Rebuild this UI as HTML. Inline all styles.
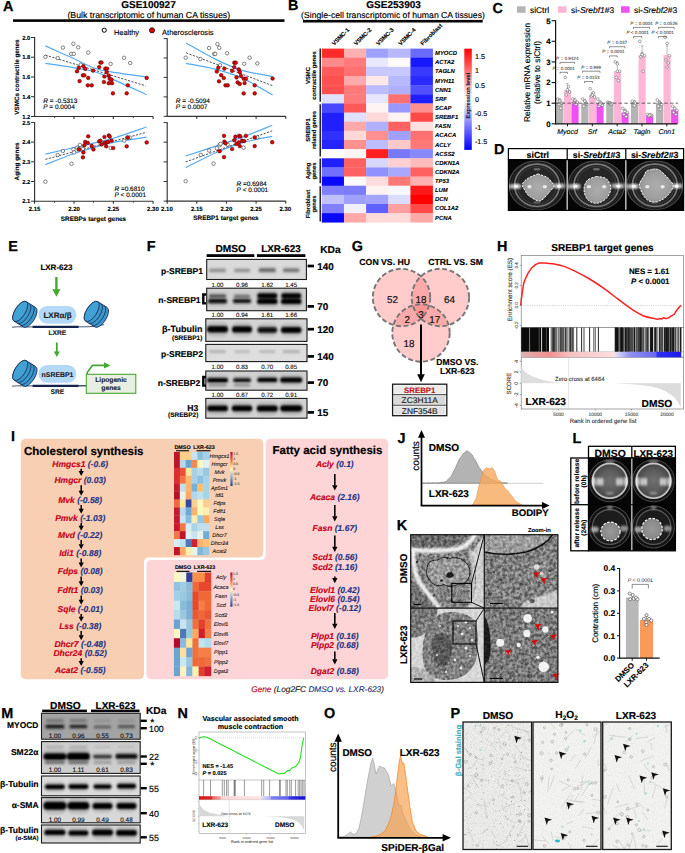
<!DOCTYPE html>
<html><head><meta charset="utf-8"><style>
html,body{margin:0;padding:0;background:#fff;}
svg{display:block;font-family:"Liberation Sans",sans-serif;text-rendering:geometricPrecision;}
text:not([stroke]){stroke:#000;stroke-width:0.13px;}
</style></head><body>
<svg width="685" height="853" viewBox="0 0 685 853">
<defs><linearGradient id="gB" x1="0" y1="0" x2="0" y2="1"><stop offset="0" stop-color="#ff0000"/><stop offset="0.5" stop-color="#ffffff"/><stop offset="1" stop-color="#0000ff"/></linearGradient>
<radialGradient id="blobg" cx="0.5" cy="0.5" r="0.6"><stop offset="0" stop-color="#acacac"/><stop offset="0.6" stop-color="#a0a0a0"/><stop offset="1" stop-color="#8c8c8c"/></radialGradient>
<filter id="dsoft" x="-20%" y="-50%" width="140%" height="200%"><feGaussianBlur stdDeviation="1.2"/></filter>
<clipPath id="clipD"><rect x="508.4" y="159.6" width="175.2" height="50.8"/></clipPath>
<filter id="bandblur" x="-20%" y="-50%" width="140%" height="200%"><feGaussianBlur stdDeviation="0.85"/></filter>
<clipPath id="cl206_259"><rect x="206.70" y="259.40" width="99.70" height="20.10"/></clipPath>
<clipPath id="cl206_288"><rect x="206.70" y="288.20" width="99.70" height="22.50"/></clipPath>
<clipPath id="cl205_318"><rect x="205.80" y="318.80" width="101.20" height="22.60"/></clipPath>
<clipPath id="cl205_344"><rect x="205.80" y="344.40" width="101.20" height="17.20"/></clipPath>
<clipPath id="cl205_371"><rect x="205.80" y="371.00" width="101.20" height="19.20"/></clipPath>
<clipPath id="cl205_398"><rect x="205.80" y="398.40" width="101.20" height="19.80"/></clipPath>
<linearGradient id="gH" x1="0" y1="0" x2="1" y2="0"><stop offset="0" stop-color="#d8b4b4"/><stop offset="0.08" stop-color="#e8a0a0"/><stop offset="0.18" stop-color="#f29090"/><stop offset="0.3" stop-color="#f6c0c0"/><stop offset="0.58" stop-color="#fde0e0"/><stop offset="0.6" stop-color="#d8d8f8"/><stop offset="0.68" stop-color="#9090f0"/><stop offset="0.84" stop-color="#6a6af0"/><stop offset="0.85" stop-color="#3030f0"/><stop offset="1" stop-color="#1818f0"/></linearGradient>
<linearGradient id="gRdYlBu" x1="0" y1="0" x2="0" y2="1"><stop offset="0" stop-color="#b00a28"/><stop offset="0.25" stop-color="#f46d43"/><stop offset="0.5" stop-color="#ffffbf"/><stop offset="0.75" stop-color="#74add1"/><stop offset="1" stop-color="#313695"/></linearGradient>
<filter id="emnoise" x="0" y="0" width="100%" height="100%" color-interpolation-filters="sRGB"><feTurbulence type="fractalNoise" baseFrequency="0.32" numOctaves="3" seed="4"/><feColorMatrix type="matrix" values="2.2 0 0 0 -0.6  2.2 0 0 0 -0.6  2.2 0 0 0 -0.6  0 0 0 0 1"/></filter>
<filter id="soft" x="-20%" y="-20%" width="140%" height="140%"><feGaussianBlur stdDeviation="0.8"/></filter>
<filter id="soft2" x="-20%" y="-20%" width="140%" height="140%"><feGaussianBlur stdDeviation="1.5"/></filter>
<clipPath id="k1"><rect x="410.7" y="534.7" width="73.60000000000002" height="73.5"/></clipPath>
<clipPath id="k2"><rect x="484.3" y="534.7" width="73.59999999999997" height="73.5"/></clipPath>
<clipPath id="k3"><rect x="410.7" y="608.2" width="73.60000000000002" height="74.19999999999993"/></clipPath>
<clipPath id="k4"><rect x="484.3" y="608.2" width="73.59999999999997" height="74.19999999999993"/></clipPath>
<clipPath id="clipL"><rect x="588.5" y="458" width="86.9" height="92.8"/></clipPath>
<radialGradient id="wellL" cx="0.5" cy="0.5" r="0.5"><stop offset="0" stop-color="#707070"/><stop offset="0.6" stop-color="#5c5c5c"/><stop offset="0.9" stop-color="#4a4a4a"/><stop offset="1" stop-color="#888"/></radialGradient>
<radialGradient id="gelL" cx="0.5" cy="0.5" r="0.5"><stop offset="0" stop-color="#9a9a9a"/><stop offset="0.8" stop-color="#8a8a8a"/><stop offset="1" stop-color="#7a7a7a"/></radialGradient>
<filter id="lsoft" x="-50%" y="-50%" width="200%" height="200%"><feGaussianBlur stdDeviation="1.0"/></filter>
<clipPath id="cl41_713"><rect x="41.50" y="713.30" width="98.70" height="25.90"/></clipPath>
<clipPath id="cl41_741"><rect x="41.50" y="741.60" width="98.70" height="31.80"/></clipPath>
<clipPath id="cl41_776"><rect x="41.50" y="776.00" width="98.70" height="19.80"/></clipPath>
<clipPath id="cl41_797"><rect x="41.50" y="797.60" width="98.70" height="25.20"/></clipPath>
<clipPath id="cl41_825"><rect x="41.50" y="825.00" width="98.70" height="18.00"/></clipPath>
<linearGradient id="gN" x1="0" y1="0" x2="1" y2="0"><stop offset="0" stop-color="#d01414"/><stop offset="0.12" stop-color="#dc2a2a"/><stop offset="0.13" stop-color="#ec6868"/><stop offset="0.2" stop-color="#f49c9c"/><stop offset="0.21" stop-color="#fcd4d4"/><stop offset="0.58" stop-color="#fde4e4"/><stop offset="0.59" stop-color="#dcdcf8"/><stop offset="0.67" stop-color="#b0b0f4"/><stop offset="0.68" stop-color="#8080f0"/><stop offset="0.84" stop-color="#6060ec"/><stop offset="0.85" stop-color="#3838e4"/><stop offset="1" stop-color="#1010d0"/></linearGradient>
<filter id="pnoise" x="0" y="0" width="100%" height="100%"><feTurbulence type="fractalNoise" baseFrequency="0.9" numOctaves="2" seed="2"/><feColorMatrix type="matrix" values="0 0 0 0 0.4  0 0 0 0 0.4  0 0 0 0 0.4  0 0 0 -2.2 1.25"/></filter>
<clipPath id="pc0"><rect x="463.0" y="722.0" width="68.60000000000002" height="127.5"/></clipPath>
<clipPath id="pc1"><rect x="533.0" y="722.0" width="68.0" height="127.5"/></clipPath>
<clipPath id="pc2"><rect x="602.7" y="722.0" width="68.59999999999991" height="127.5"/></clipPath></defs>
<rect width="685" height="853" fill="#fff"/>
<text x="2.90" y="10.50" font-size="14.4" font-weight="bold" font-style="normal" text-anchor="start" fill="#000" stroke="#000" stroke-width="0.259" >A</text>
<text x="148.50" y="7.60" font-size="10" font-weight="bold" font-style="normal" text-anchor="middle" fill="#000" stroke="#000" stroke-width="0.180" >GSE100927</text>
<text x="148.80" y="17.90" font-size="8.78" font-weight="normal" font-style="normal" text-anchor="middle" fill="#000" stroke="#000" stroke-width="0.158" >(Bulk transcriptomic of human CA tissues)</text>
<rect x="13.00" y="19.30" width="271.50" height="2.60" fill="#000" />
<circle cx="104.20" cy="30.20" r="2.1" fill="#fff" stroke="#000" stroke-width="1.0" />
<text x="114.00" y="35.00" font-size="7.4" font-weight="normal" font-style="normal" text-anchor="start" fill="#000" stroke="#000" stroke-width="0.133" >Healthy</text>
<circle cx="152.00" cy="30.30" r="2.6" fill="#e00000" stroke="#000" stroke-width="0.7" />
<text x="162.00" y="35.00" font-size="7.55" font-weight="normal" font-style="normal" text-anchor="start" fill="#000" stroke="#000" stroke-width="0.136" >Atherosclerosis</text>
<line x1="34.60" y1="37.10" x2="34.60" y2="117.00" stroke="#333" stroke-width="1.15" />
<line x1="34.10" y1="116.50" x2="153.10" y2="116.50" stroke="#333" stroke-width="1.15" />
<line x1="31.00" y1="37.50" x2="34.60" y2="37.50" stroke="#333" stroke-width="1.0" />
<line x1="31.00" y1="57.20" x2="34.60" y2="57.20" stroke="#333" stroke-width="1.0" />
<line x1="31.00" y1="77.00" x2="34.60" y2="77.00" stroke="#333" stroke-width="1.0" />
<line x1="31.00" y1="96.70" x2="34.60" y2="96.70" stroke="#333" stroke-width="1.0" />
<line x1="31.00" y1="116.50" x2="34.60" y2="116.50" stroke="#333" stroke-width="1.0" />
<line x1="74.00" y1="116.50" x2="74.00" y2="119.10" stroke="#222" stroke-width="1.0" />
<line x1="113.30" y1="116.50" x2="113.30" y2="119.10" stroke="#222" stroke-width="1.0" />
<line x1="153.10" y1="116.50" x2="153.10" y2="119.10" stroke="#222" stroke-width="1.0" />
<line x1="54.60" y1="116.50" x2="54.60" y2="118.10" stroke="#222" stroke-width="0.8" />
<line x1="93.50" y1="116.50" x2="93.50" y2="118.10" stroke="#222" stroke-width="0.8" />
<line x1="133.30" y1="116.50" x2="133.30" y2="118.10" stroke="#222" stroke-width="0.8" />
<text x="30.40" y="39.60" font-size="5.9" font-weight="bold" font-style="normal" text-anchor="end" fill="#000" stroke="#000" stroke-width="0.106" >2.0</text>
<text x="30.40" y="59.30" font-size="5.9" font-weight="bold" font-style="normal" text-anchor="end" fill="#000" stroke="#000" stroke-width="0.106" >1.8</text>
<text x="30.40" y="79.10" font-size="5.9" font-weight="bold" font-style="normal" text-anchor="end" fill="#000" stroke="#000" stroke-width="0.106" >1.6</text>
<text x="30.40" y="98.80" font-size="5.9" font-weight="bold" font-style="normal" text-anchor="end" fill="#000" stroke="#000" stroke-width="0.106" >1.4</text>
<text x="30.40" y="118.60" font-size="5.9" font-weight="bold" font-style="normal" text-anchor="end" fill="#000" stroke="#000" stroke-width="0.106" >1.2</text>
<line x1="34.60" y1="122.00" x2="34.60" y2="201.70" stroke="#333" stroke-width="1.15" />
<line x1="34.10" y1="201.20" x2="153.10" y2="201.20" stroke="#333" stroke-width="1.15" />
<line x1="31.00" y1="122.40" x2="34.60" y2="122.40" stroke="#333" stroke-width="1.0" />
<line x1="31.00" y1="142.10" x2="34.60" y2="142.10" stroke="#333" stroke-width="1.0" />
<line x1="31.00" y1="161.80" x2="34.60" y2="161.80" stroke="#333" stroke-width="1.0" />
<line x1="31.00" y1="181.50" x2="34.60" y2="181.50" stroke="#333" stroke-width="1.0" />
<line x1="31.00" y1="201.20" x2="34.60" y2="201.20" stroke="#333" stroke-width="1.0" />
<line x1="34.60" y1="201.20" x2="34.60" y2="203.80" stroke="#222" stroke-width="1.0" />
<line x1="74.00" y1="201.20" x2="74.00" y2="203.80" stroke="#222" stroke-width="1.0" />
<line x1="113.30" y1="201.20" x2="113.30" y2="203.80" stroke="#222" stroke-width="1.0" />
<line x1="153.10" y1="201.20" x2="153.10" y2="203.80" stroke="#222" stroke-width="1.0" />
<line x1="54.60" y1="201.20" x2="54.60" y2="202.80" stroke="#222" stroke-width="0.8" />
<line x1="93.50" y1="201.20" x2="93.50" y2="202.80" stroke="#222" stroke-width="0.8" />
<line x1="133.30" y1="201.20" x2="133.30" y2="202.80" stroke="#222" stroke-width="0.8" />
<text x="30.40" y="124.50" font-size="5.9" font-weight="bold" font-style="normal" text-anchor="end" fill="#000" stroke="#000" stroke-width="0.106" >2.5</text>
<text x="30.40" y="144.20" font-size="5.9" font-weight="bold" font-style="normal" text-anchor="end" fill="#000" stroke="#000" stroke-width="0.106" >2.4</text>
<text x="30.40" y="163.90" font-size="5.9" font-weight="bold" font-style="normal" text-anchor="end" fill="#000" stroke="#000" stroke-width="0.106" >2.3</text>
<text x="30.40" y="183.60" font-size="5.9" font-weight="bold" font-style="normal" text-anchor="end" fill="#000" stroke="#000" stroke-width="0.106" >2.2</text>
<text x="30.40" y="203.30" font-size="5.9" font-weight="bold" font-style="normal" text-anchor="end" fill="#000" stroke="#000" stroke-width="0.106" >2.1</text>
<line x1="167.20" y1="38.20" x2="167.20" y2="116.80" stroke="#333" stroke-width="1.15" />
<line x1="166.70" y1="116.30" x2="285.80" y2="116.30" stroke="#333" stroke-width="1.15" />
<line x1="163.60" y1="38.60" x2="167.20" y2="38.60" stroke="#333" stroke-width="1.0" />
<line x1="163.60" y1="58.00" x2="167.20" y2="58.00" stroke="#333" stroke-width="1.0" />
<line x1="163.60" y1="77.40" x2="167.20" y2="77.40" stroke="#333" stroke-width="1.0" />
<line x1="163.60" y1="96.90" x2="167.20" y2="96.90" stroke="#333" stroke-width="1.0" />
<line x1="163.60" y1="116.30" x2="167.20" y2="116.30" stroke="#333" stroke-width="1.0" />
<line x1="196.80" y1="116.30" x2="196.80" y2="118.90" stroke="#222" stroke-width="1.0" />
<line x1="226.40" y1="116.30" x2="226.40" y2="118.90" stroke="#222" stroke-width="1.0" />
<line x1="256.10" y1="116.30" x2="256.10" y2="118.90" stroke="#222" stroke-width="1.0" />
<line x1="285.80" y1="116.30" x2="285.80" y2="118.90" stroke="#222" stroke-width="1.0" />
<line x1="167.20" y1="122.20" x2="167.20" y2="201.60" stroke="#333" stroke-width="1.15" />
<line x1="166.70" y1="201.10" x2="285.80" y2="201.10" stroke="#333" stroke-width="1.15" />
<line x1="163.60" y1="122.60" x2="167.20" y2="122.60" stroke="#333" stroke-width="1.0" />
<line x1="163.60" y1="142.20" x2="167.20" y2="142.20" stroke="#333" stroke-width="1.0" />
<line x1="163.60" y1="161.90" x2="167.20" y2="161.90" stroke="#333" stroke-width="1.0" />
<line x1="163.60" y1="181.50" x2="167.20" y2="181.50" stroke="#333" stroke-width="1.0" />
<line x1="163.60" y1="201.10" x2="167.20" y2="201.10" stroke="#333" stroke-width="1.0" />
<line x1="167.20" y1="201.10" x2="167.20" y2="203.70" stroke="#222" stroke-width="1.0" />
<line x1="196.80" y1="201.10" x2="196.80" y2="203.70" stroke="#222" stroke-width="1.0" />
<line x1="226.40" y1="201.10" x2="226.40" y2="203.70" stroke="#222" stroke-width="1.0" />
<line x1="256.10" y1="201.10" x2="256.10" y2="203.70" stroke="#222" stroke-width="1.0" />
<line x1="285.80" y1="201.10" x2="285.80" y2="203.70" stroke="#222" stroke-width="1.0" />
<text x="34.60" y="211.30" font-size="6.0" font-weight="bold" font-style="normal" text-anchor="middle" fill="#000" stroke="#000" stroke-width="0.108" >2.15</text>
<text x="74.00" y="211.30" font-size="6.0" font-weight="bold" font-style="normal" text-anchor="middle" fill="#000" stroke="#000" stroke-width="0.108" >2.20</text>
<text x="113.30" y="211.30" font-size="6.0" font-weight="bold" font-style="normal" text-anchor="middle" fill="#000" stroke="#000" stroke-width="0.108" >2.25</text>
<text x="152.90" y="211.30" font-size="6.0" font-weight="bold" font-style="normal" text-anchor="middle" fill="#000" stroke="#000" stroke-width="0.108" >2.30</text>
<text x="166.90" y="211.30" font-size="6.0" font-weight="bold" font-style="normal" text-anchor="middle" fill="#000" stroke="#000" stroke-width="0.108" >2.10</text>
<text x="196.80" y="211.30" font-size="6.0" font-weight="bold" font-style="normal" text-anchor="middle" fill="#000" stroke="#000" stroke-width="0.108" >2.15</text>
<text x="226.40" y="211.30" font-size="6.0" font-weight="bold" font-style="normal" text-anchor="middle" fill="#000" stroke="#000" stroke-width="0.108" >2.20</text>
<text x="256.10" y="211.30" font-size="6.0" font-weight="bold" font-style="normal" text-anchor="middle" fill="#000" stroke="#000" stroke-width="0.108" >2.25</text>
<text x="285.30" y="211.30" font-size="6.0" font-weight="bold" font-style="normal" text-anchor="middle" fill="#000" stroke="#000" stroke-width="0.108" >2.30</text>
<text x="93.50" y="220.60" font-size="6.4" font-weight="bold" font-style="normal" text-anchor="middle" fill="#000" stroke="#000" stroke-width="0.115" >SREBPs target genes</text>
<text x="226.00" y="219.80" font-size="6.4" font-weight="bold" font-style="normal" text-anchor="middle" fill="#000" stroke="#000" stroke-width="0.115" >SREBP1 target genes</text>
<text transform="translate(19.30,77.00) rotate(-90)" font-size="6.3" font-weight="bold" font-style="normal" text-anchor="middle" fill="#000" stroke="#000" stroke-width="0.113">VSMCs contractile genes</text>
<text transform="translate(19.30,161.50) rotate(-90)" font-size="6.3" font-weight="bold" font-style="normal" text-anchor="middle" fill="#000" stroke="#000" stroke-width="0.113">Aging genes</text>
<path d="M45.40,45.90 C49.83,47.88 63.77,54.07 72.00,57.80 C80.23,61.53 87.50,65.82 94.80,68.30 C102.10,70.78 107.18,71.25 115.80,72.70 C124.42,74.15 141.38,76.28 146.50,77.00" fill="none" stroke="#55aaf2" stroke-width="1.2"/>
<path d="M45.40,63.40 C49.83,64.07 63.77,66.00 72.00,67.40 C80.23,68.80 87.50,69.60 94.80,71.80 C102.10,74.00 107.18,76.80 115.80,80.60 C124.42,84.40 141.38,92.27 146.50,94.60" fill="none" stroke="#55aaf2" stroke-width="1.2"/>
<line x1="45.40" y1="55.10" x2="145.60" y2="85.80" stroke="#111" stroke-width="0.75" stroke-dasharray="2.2,1.4"/>
<circle cx="45.40" cy="56.90" r="1.75" fill="#fff" stroke="#222" stroke-width="0.55" />
<circle cx="57.70" cy="58.10" r="1.75" fill="#fff" stroke="#222" stroke-width="0.55" />
<circle cx="62.90" cy="47.60" r="1.75" fill="#fff" stroke="#222" stroke-width="0.55" />
<circle cx="73.40" cy="43.80" r="1.75" fill="#fff" stroke="#222" stroke-width="0.55" />
<circle cx="78.20" cy="47.30" r="1.75" fill="#fff" stroke="#222" stroke-width="0.55" />
<circle cx="71.20" cy="53.90" r="1.75" fill="#fff" stroke="#222" stroke-width="0.55" />
<circle cx="73.80" cy="53.90" r="1.75" fill="#fff" stroke="#222" stroke-width="0.55" />
<circle cx="88.30" cy="52.50" r="1.75" fill="#fff" stroke="#222" stroke-width="0.55" />
<circle cx="80.80" cy="64.80" r="1.75" fill="#fff" stroke="#222" stroke-width="0.55" />
<circle cx="110.60" cy="63.90" r="1.75" fill="#fff" stroke="#222" stroke-width="0.55" />
<circle cx="124.10" cy="57.80" r="1.75" fill="#fff" stroke="#222" stroke-width="0.55" />
<circle cx="130.20" cy="63.00" r="1.75" fill="#fff" stroke="#222" stroke-width="0.55" />
<circle cx="78.70" cy="67.90" r="1.85" fill="#e00000" stroke="#3a0000" stroke-width="0.45" />
<circle cx="77.00" cy="71.30" r="1.85" fill="#e00000" stroke="#3a0000" stroke-width="0.45" />
<circle cx="83.40" cy="66.20" r="1.85" fill="#e00000" stroke="#3a0000" stroke-width="0.45" />
<circle cx="85.20" cy="68.80" r="1.85" fill="#e00000" stroke="#3a0000" stroke-width="0.45" />
<circle cx="82.90" cy="75.30" r="1.85" fill="#e00000" stroke="#3a0000" stroke-width="0.45" />
<circle cx="84.30" cy="75.30" r="1.85" fill="#e00000" stroke="#3a0000" stroke-width="0.45" />
<circle cx="88.20" cy="77.90" r="1.85" fill="#e00000" stroke="#3a0000" stroke-width="0.45" />
<circle cx="79.60" cy="81.10" r="1.85" fill="#e00000" stroke="#3a0000" stroke-width="0.45" />
<circle cx="87.80" cy="85.30" r="1.85" fill="#e00000" stroke="#3a0000" stroke-width="0.45" />
<circle cx="91.70" cy="85.30" r="1.85" fill="#e00000" stroke="#3a0000" stroke-width="0.45" />
<circle cx="93.10" cy="70.60" r="1.85" fill="#e00000" stroke="#3a0000" stroke-width="0.45" />
<circle cx="99.20" cy="67.10" r="1.85" fill="#e00000" stroke="#3a0000" stroke-width="0.45" />
<circle cx="100.40" cy="62.50" r="1.85" fill="#e00000" stroke="#3a0000" stroke-width="0.45" />
<circle cx="101.50" cy="62.50" r="1.85" fill="#e00000" stroke="#3a0000" stroke-width="0.45" />
<circle cx="105.30" cy="68.60" r="1.85" fill="#e00000" stroke="#3a0000" stroke-width="0.45" />
<circle cx="107.10" cy="68.60" r="1.85" fill="#e00000" stroke="#3a0000" stroke-width="0.45" />
<circle cx="106.70" cy="72.10" r="1.85" fill="#e00000" stroke="#3a0000" stroke-width="0.45" />
<circle cx="104.40" cy="76.50" r="1.85" fill="#e00000" stroke="#3a0000" stroke-width="0.45" />
<circle cx="108.80" cy="75.60" r="1.85" fill="#e00000" stroke="#3a0000" stroke-width="0.45" />
<circle cx="109.70" cy="78.80" r="1.85" fill="#e00000" stroke="#3a0000" stroke-width="0.45" />
<circle cx="111.50" cy="79.70" r="1.85" fill="#e00000" stroke="#3a0000" stroke-width="0.45" />
<circle cx="103.90" cy="82.00" r="1.85" fill="#e00000" stroke="#3a0000" stroke-width="0.45" />
<circle cx="108.80" cy="83.20" r="1.85" fill="#e00000" stroke="#3a0000" stroke-width="0.45" />
<circle cx="112.00" cy="83.20" r="1.85" fill="#e00000" stroke="#3a0000" stroke-width="0.45" />
<circle cx="112.90" cy="93.30" r="1.85" fill="#e00000" stroke="#3a0000" stroke-width="0.45" />
<circle cx="126.70" cy="93.30" r="1.85" fill="#e00000" stroke="#3a0000" stroke-width="0.45" />
<circle cx="127.80" cy="85.30" r="1.85" fill="#e00000" stroke="#3a0000" stroke-width="0.45" />
<circle cx="146.70" cy="77.90" r="1.85" fill="#e00000" stroke="#3a0000" stroke-width="0.45" />
<text x="43.20" y="102.60" font-size="6.5"><tspan font-style="italic">R</tspan> = -0.5313</text>
<text x="43.20" y="109.00" font-size="6.5"><tspan font-style="italic">P</tspan> = 0.0004</text>
<path d="M186.10,43.00 C191.03,45.73 206.38,54.83 215.70,59.40 C225.02,63.97 232.52,67.55 242.00,70.40 C251.48,73.25 267.50,75.48 272.60,76.50" fill="none" stroke="#55aaf2" stroke-width="1.2"/>
<path d="M186.10,63.40 C191.03,64.38 206.38,66.87 215.70,69.30 C225.02,71.73 232.52,73.70 242.00,78.00 C251.48,82.30 267.50,92.25 272.60,95.10" fill="none" stroke="#55aaf2" stroke-width="1.2"/>
<line x1="186.10" y1="52.80" x2="272.60" y2="85.70" stroke="#111" stroke-width="0.75" stroke-dasharray="2.2,1.4"/>
<circle cx="185.70" cy="57.70" r="1.75" fill="#fff" stroke="#222" stroke-width="0.55" />
<circle cx="200.40" cy="59.00" r="1.75" fill="#fff" stroke="#222" stroke-width="0.55" />
<circle cx="209.10" cy="48.00" r="1.75" fill="#fff" stroke="#222" stroke-width="0.55" />
<circle cx="217.40" cy="44.10" r="1.75" fill="#fff" stroke="#222" stroke-width="0.55" />
<circle cx="219.20" cy="47.80" r="1.75" fill="#fff" stroke="#222" stroke-width="0.55" />
<circle cx="214.20" cy="53.90" r="1.75" fill="#fff" stroke="#222" stroke-width="0.55" />
<circle cx="215.30" cy="53.90" r="1.75" fill="#fff" stroke="#222" stroke-width="0.55" />
<circle cx="227.10" cy="53.30" r="1.75" fill="#fff" stroke="#222" stroke-width="0.55" />
<circle cx="220.10" cy="65.30" r="1.75" fill="#fff" stroke="#222" stroke-width="0.55" />
<circle cx="244.20" cy="63.80" r="1.75" fill="#fff" stroke="#222" stroke-width="0.55" />
<circle cx="249.60" cy="57.70" r="1.75" fill="#fff" stroke="#222" stroke-width="0.55" />
<circle cx="257.30" cy="63.40" r="1.75" fill="#fff" stroke="#222" stroke-width="0.55" />
<circle cx="218.30" cy="67.70" r="1.85" fill="#e00000" stroke="#3a0000" stroke-width="0.45" />
<circle cx="216.80" cy="71.50" r="1.85" fill="#e00000" stroke="#3a0000" stroke-width="0.45" />
<circle cx="224.40" cy="68.60" r="1.85" fill="#e00000" stroke="#3a0000" stroke-width="0.45" />
<circle cx="221.20" cy="75.20" r="1.85" fill="#e00000" stroke="#3a0000" stroke-width="0.45" />
<circle cx="223.80" cy="78.00" r="1.85" fill="#e00000" stroke="#3a0000" stroke-width="0.45" />
<circle cx="219.00" cy="81.30" r="1.85" fill="#e00000" stroke="#3a0000" stroke-width="0.45" />
<circle cx="225.50" cy="85.30" r="1.85" fill="#e00000" stroke="#3a0000" stroke-width="0.45" />
<circle cx="227.70" cy="85.30" r="1.85" fill="#e00000" stroke="#3a0000" stroke-width="0.45" />
<circle cx="232.10" cy="70.80" r="1.85" fill="#e00000" stroke="#3a0000" stroke-width="0.45" />
<circle cx="234.30" cy="62.70" r="1.85" fill="#e00000" stroke="#3a0000" stroke-width="0.45" />
<circle cx="235.80" cy="62.70" r="1.85" fill="#e00000" stroke="#3a0000" stroke-width="0.45" />
<circle cx="234.30" cy="67.10" r="1.85" fill="#e00000" stroke="#3a0000" stroke-width="0.45" />
<circle cx="238.70" cy="69.30" r="1.85" fill="#e00000" stroke="#3a0000" stroke-width="0.45" />
<circle cx="239.80" cy="72.10" r="1.85" fill="#e00000" stroke="#3a0000" stroke-width="0.45" />
<circle cx="240.90" cy="75.80" r="1.85" fill="#e00000" stroke="#3a0000" stroke-width="0.45" />
<circle cx="236.50" cy="77.40" r="1.85" fill="#e00000" stroke="#3a0000" stroke-width="0.45" />
<circle cx="243.70" cy="78.70" r="1.85" fill="#e00000" stroke="#3a0000" stroke-width="0.45" />
<circle cx="245.90" cy="78.70" r="1.85" fill="#e00000" stroke="#3a0000" stroke-width="0.45" />
<circle cx="237.60" cy="82.40" r="1.85" fill="#e00000" stroke="#3a0000" stroke-width="0.45" />
<circle cx="239.80" cy="83.90" r="1.85" fill="#e00000" stroke="#3a0000" stroke-width="0.45" />
<circle cx="244.60" cy="83.10" r="1.85" fill="#e00000" stroke="#3a0000" stroke-width="0.45" />
<circle cx="243.70" cy="93.40" r="1.85" fill="#e00000" stroke="#3a0000" stroke-width="0.45" />
<circle cx="254.70" cy="93.40" r="1.85" fill="#e00000" stroke="#3a0000" stroke-width="0.45" />
<circle cx="254.70" cy="85.30" r="1.85" fill="#e00000" stroke="#3a0000" stroke-width="0.45" />
<circle cx="272.60" cy="78.50" r="1.85" fill="#e00000" stroke="#3a0000" stroke-width="0.45" />
<text x="175.80" y="102.80" font-size="6.5"><tspan font-style="italic">R</tspan> = -0.5094</text>
<text x="175.80" y="109.20" font-size="6.5"><tspan font-style="italic">P</tspan> = 0.0007</text>
<path d="M45.40,154.20 C49.83,153.17 63.77,149.90 72.00,148.00 C80.23,146.10 87.50,144.55 94.80,142.80 C102.10,141.05 107.18,140.13 115.80,137.50 C124.42,134.87 141.38,128.75 146.50,127.00" fill="none" stroke="#55aaf2" stroke-width="1.2"/>
<path d="M45.40,164.70 C49.83,162.95 63.77,157.12 72.00,154.20 C80.23,151.28 87.50,149.25 94.80,147.20 C102.10,145.15 107.18,143.57 115.80,141.90 C124.42,140.23 141.38,137.98 146.50,137.20" fill="none" stroke="#55aaf2" stroke-width="1.2"/>
<line x1="45.40" y1="159.40" x2="146.50" y2="132.30" stroke="#111" stroke-width="0.75" stroke-dasharray="2.2,1.4"/>
<circle cx="45.40" cy="181.70" r="1.75" fill="#fff" stroke="#222" stroke-width="0.55" />
<circle cx="57.70" cy="155.00" r="1.75" fill="#fff" stroke="#222" stroke-width="0.55" />
<circle cx="62.90" cy="151.00" r="1.75" fill="#fff" stroke="#222" stroke-width="0.55" />
<circle cx="71.50" cy="163.80" r="1.75" fill="#fff" stroke="#222" stroke-width="0.55" />
<circle cx="73.40" cy="149.40" r="1.75" fill="#fff" stroke="#222" stroke-width="0.55" />
<circle cx="74.10" cy="152.40" r="1.75" fill="#fff" stroke="#222" stroke-width="0.55" />
<circle cx="77.30" cy="147.70" r="1.75" fill="#fff" stroke="#222" stroke-width="0.55" />
<circle cx="79.90" cy="144.90" r="1.75" fill="#fff" stroke="#222" stroke-width="0.55" />
<circle cx="79.00" cy="148.90" r="1.75" fill="#fff" stroke="#222" stroke-width="0.55" />
<circle cx="82.90" cy="148.90" r="1.75" fill="#fff" stroke="#222" stroke-width="0.55" />
<circle cx="110.60" cy="148.00" r="1.75" fill="#fff" stroke="#222" stroke-width="0.55" />
<circle cx="124.20" cy="140.70" r="1.75" fill="#fff" stroke="#222" stroke-width="0.55" />
<circle cx="129.90" cy="137.50" r="1.75" fill="#fff" stroke="#222" stroke-width="0.55" />
<circle cx="127.20" cy="137.50" r="1.75" fill="#fff" stroke="#222" stroke-width="0.55" />
<circle cx="88.20" cy="136.30" r="1.85" fill="#e00000" stroke="#3a0000" stroke-width="0.45" />
<circle cx="82.90" cy="157.30" r="1.85" fill="#e00000" stroke="#3a0000" stroke-width="0.45" />
<circle cx="83.40" cy="152.40" r="1.85" fill="#e00000" stroke="#3a0000" stroke-width="0.45" />
<circle cx="79.00" cy="149.40" r="1.85" fill="#e00000" stroke="#3a0000" stroke-width="0.45" />
<circle cx="84.30" cy="145.40" r="1.85" fill="#e00000" stroke="#3a0000" stroke-width="0.45" />
<circle cx="85.20" cy="141.90" r="1.85" fill="#e00000" stroke="#3a0000" stroke-width="0.45" />
<circle cx="87.80" cy="142.80" r="1.85" fill="#e00000" stroke="#3a0000" stroke-width="0.45" />
<circle cx="91.70" cy="145.90" r="1.85" fill="#e00000" stroke="#3a0000" stroke-width="0.45" />
<circle cx="93.40" cy="149.40" r="1.85" fill="#e00000" stroke="#3a0000" stroke-width="0.45" />
<circle cx="99.20" cy="141.40" r="1.85" fill="#e00000" stroke="#3a0000" stroke-width="0.45" />
<circle cx="100.40" cy="140.70" r="1.85" fill="#e00000" stroke="#3a0000" stroke-width="0.45" />
<circle cx="101.50" cy="144.50" r="1.85" fill="#e00000" stroke="#3a0000" stroke-width="0.45" />
<circle cx="104.40" cy="137.00" r="1.85" fill="#e00000" stroke="#3a0000" stroke-width="0.45" />
<circle cx="104.40" cy="142.80" r="1.85" fill="#e00000" stroke="#3a0000" stroke-width="0.45" />
<circle cx="106.70" cy="142.40" r="1.85" fill="#e00000" stroke="#3a0000" stroke-width="0.45" />
<circle cx="106.20" cy="146.30" r="1.85" fill="#e00000" stroke="#3a0000" stroke-width="0.45" />
<circle cx="108.80" cy="135.40" r="1.85" fill="#e00000" stroke="#3a0000" stroke-width="0.45" />
<circle cx="109.70" cy="136.60" r="1.85" fill="#e00000" stroke="#3a0000" stroke-width="0.45" />
<circle cx="108.00" cy="141.90" r="1.85" fill="#e00000" stroke="#3a0000" stroke-width="0.45" />
<circle cx="111.50" cy="140.70" r="1.85" fill="#e00000" stroke="#3a0000" stroke-width="0.45" />
<circle cx="113.20" cy="148.00" r="1.85" fill="#e00000" stroke="#3a0000" stroke-width="0.45" />
<circle cx="126.70" cy="146.30" r="1.85" fill="#e00000" stroke="#3a0000" stroke-width="0.45" />
<circle cx="127.80" cy="137.50" r="1.85" fill="#e00000" stroke="#3a0000" stroke-width="0.45" />
<circle cx="146.70" cy="142.40" r="1.85" fill="#e00000" stroke="#3a0000" stroke-width="0.45" />
<text x="114.40" y="190.60" font-size="6.5"><tspan font-style="italic">R</tspan> =0.6810</text>
<text x="114.40" y="197.00" font-size="6.5"><tspan font-style="italic">P</tspan> &lt; 0.0001</text>
<path d="M185.70,156.00 C190.70,154.35 206.32,149.20 215.70,146.10 C225.08,143.00 232.58,140.87 242.00,137.40 C251.42,133.93 267.17,127.32 272.20,125.30" fill="none" stroke="#55aaf2" stroke-width="1.2"/>
<path d="M185.70,167.60 C190.70,165.12 206.32,156.83 215.70,152.70 C225.08,148.57 232.58,145.53 242.00,142.80 C251.42,140.07 267.17,137.38 272.20,136.30" fill="none" stroke="#55aaf2" stroke-width="1.2"/>
<line x1="185.70" y1="161.90" x2="272.20" y2="130.80" stroke="#111" stroke-width="0.75" stroke-dasharray="2.2,1.4"/>
<circle cx="185.70" cy="181.20" r="1.75" fill="#fff" stroke="#222" stroke-width="0.55" />
<circle cx="200.80" cy="154.90" r="1.75" fill="#fff" stroke="#222" stroke-width="0.55" />
<circle cx="209.10" cy="150.50" r="1.75" fill="#fff" stroke="#222" stroke-width="0.55" />
<circle cx="213.50" cy="163.60" r="1.75" fill="#fff" stroke="#222" stroke-width="0.55" />
<circle cx="216.80" cy="148.30" r="1.75" fill="#fff" stroke="#222" stroke-width="0.55" />
<circle cx="219.60" cy="145.00" r="1.75" fill="#fff" stroke="#222" stroke-width="0.55" />
<circle cx="220.50" cy="143.90" r="1.75" fill="#fff" stroke="#222" stroke-width="0.55" />
<circle cx="227.70" cy="144.60" r="1.75" fill="#fff" stroke="#222" stroke-width="0.55" />
<circle cx="243.70" cy="147.70" r="1.75" fill="#fff" stroke="#222" stroke-width="0.55" />
<circle cx="257.30" cy="137.40" r="1.75" fill="#fff" stroke="#222" stroke-width="0.55" />
<circle cx="224.00" cy="135.80" r="1.85" fill="#e00000" stroke="#3a0000" stroke-width="0.45" />
<circle cx="224.40" cy="141.70" r="1.85" fill="#e00000" stroke="#3a0000" stroke-width="0.45" />
<circle cx="225.50" cy="143.30" r="1.85" fill="#e00000" stroke="#3a0000" stroke-width="0.45" />
<circle cx="219.60" cy="151.20" r="1.85" fill="#e00000" stroke="#3a0000" stroke-width="0.45" />
<circle cx="224.00" cy="157.10" r="1.85" fill="#e00000" stroke="#3a0000" stroke-width="0.45" />
<circle cx="232.10" cy="149.00" r="1.85" fill="#e00000" stroke="#3a0000" stroke-width="0.45" />
<circle cx="234.30" cy="140.20" r="1.85" fill="#e00000" stroke="#3a0000" stroke-width="0.45" />
<circle cx="235.40" cy="136.70" r="1.85" fill="#e00000" stroke="#3a0000" stroke-width="0.45" />
<circle cx="236.50" cy="143.90" r="1.85" fill="#e00000" stroke="#3a0000" stroke-width="0.45" />
<circle cx="238.70" cy="142.40" r="1.85" fill="#e00000" stroke="#3a0000" stroke-width="0.45" />
<circle cx="239.10" cy="135.80" r="1.85" fill="#e00000" stroke="#3a0000" stroke-width="0.45" />
<circle cx="240.20" cy="136.30" r="1.85" fill="#e00000" stroke="#3a0000" stroke-width="0.45" />
<circle cx="239.80" cy="146.10" r="1.85" fill="#e00000" stroke="#3a0000" stroke-width="0.45" />
<circle cx="242.00" cy="140.70" r="1.85" fill="#e00000" stroke="#3a0000" stroke-width="0.45" />
<circle cx="244.20" cy="141.10" r="1.85" fill="#e00000" stroke="#3a0000" stroke-width="0.45" />
<circle cx="245.90" cy="135.80" r="1.85" fill="#e00000" stroke="#3a0000" stroke-width="0.45" />
<circle cx="254.70" cy="146.10" r="1.85" fill="#e00000" stroke="#3a0000" stroke-width="0.45" />
<circle cx="254.70" cy="137.40" r="1.85" fill="#e00000" stroke="#3a0000" stroke-width="0.45" />
<circle cx="272.20" cy="142.20" r="1.85" fill="#e00000" stroke="#3a0000" stroke-width="0.45" />
<text x="236.50" y="186.00" font-size="6.5"><tspan font-style="italic">R</tspan> =0.6984</text>
<text x="236.50" y="192.40" font-size="6.5"><tspan font-style="italic">P</tspan> &lt; 0.0001</text>
<text x="288.10" y="10.40" font-size="14.4" font-weight="bold" font-style="normal" text-anchor="start" fill="#000" stroke="#000" stroke-width="0.259" >B</text>
<text x="393.60" y="7.60" font-size="10" font-weight="bold" font-style="normal" text-anchor="middle" fill="#000" stroke="#000" stroke-width="0.180" >GSE253903</text>
<text x="393.00" y="17.50" font-size="8.67" font-weight="normal" font-style="normal" text-anchor="middle" fill="#000" stroke="#000" stroke-width="0.156" >(Single-cell transcriptomic of human CA tissues)</text>
<rect x="303.00" y="19.90" width="179.70" height="2.60" fill="#000" />
<rect x="321.80" y="48.60" width="22.46" height="9.44" fill="#ff2a2a" />
<rect x="343.96" y="48.60" width="22.46" height="9.44" fill="#ffb0b0" />
<rect x="366.12" y="48.60" width="22.46" height="9.44" fill="#a0a0ff" />
<rect x="388.28" y="48.60" width="22.46" height="9.44" fill="#b8b8ff" />
<rect x="410.44" y="48.60" width="22.46" height="9.44" fill="#6a6aff" />
<rect x="321.80" y="57.74" width="22.46" height="9.44" fill="#ff8a8a" />
<rect x="343.96" y="57.74" width="22.46" height="9.44" fill="#ff7a7a" />
<rect x="366.12" y="57.74" width="22.46" height="9.44" fill="#e8e8ff" />
<rect x="388.28" y="57.74" width="22.46" height="9.44" fill="#fffafa" />
<rect x="410.44" y="57.74" width="22.46" height="9.44" fill="#1818ff" />
<rect x="321.80" y="66.88" width="22.46" height="9.44" fill="#ff5a5a" />
<rect x="343.96" y="66.88" width="22.46" height="9.44" fill="#ff7070" />
<rect x="366.12" y="66.88" width="22.46" height="9.44" fill="#c8c8ff" />
<rect x="388.28" y="66.88" width="22.46" height="9.44" fill="#c8c8ff" />
<rect x="410.44" y="66.88" width="22.46" height="9.44" fill="#3a3aff" />
<rect x="321.80" y="76.02" width="22.46" height="9.44" fill="#ff5050" />
<rect x="343.96" y="76.02" width="22.46" height="9.44" fill="#ffaaaa" />
<rect x="366.12" y="76.02" width="22.46" height="9.44" fill="#ffe8e8" />
<rect x="388.28" y="76.02" width="22.46" height="9.44" fill="#b8b8ff" />
<rect x="410.44" y="76.02" width="22.46" height="9.44" fill="#2a2aff" />
<rect x="321.80" y="85.16" width="22.46" height="9.44" fill="#ff5050" />
<rect x="343.96" y="85.16" width="22.46" height="9.44" fill="#ff7a7a" />
<rect x="366.12" y="85.16" width="22.46" height="9.44" fill="#bcbcff" />
<rect x="388.28" y="85.16" width="22.46" height="9.44" fill="#b0b0ff" />
<rect x="410.44" y="85.16" width="22.46" height="9.44" fill="#5050ff" />
<rect x="321.80" y="94.30" width="22.46" height="9.44" fill="#e0e0ff" />
<rect x="343.96" y="94.30" width="22.46" height="9.44" fill="#ff7a7a" />
<rect x="366.12" y="94.30" width="22.46" height="9.44" fill="#e6e6ff" />
<rect x="388.28" y="94.30" width="22.46" height="9.44" fill="#ff7070" />
<rect x="410.44" y="94.30" width="22.46" height="9.44" fill="#2020ff" />
<rect x="321.80" y="103.44" width="22.46" height="9.44" fill="#4848ff" />
<rect x="343.96" y="103.44" width="22.46" height="9.44" fill="#ff5858" />
<rect x="366.12" y="103.44" width="22.46" height="9.44" fill="#fff4f4" />
<rect x="388.28" y="103.44" width="22.46" height="9.44" fill="#9898ff" />
<rect x="410.44" y="103.44" width="22.46" height="9.44" fill="#ff9090" />
<rect x="321.80" y="112.58" width="22.46" height="9.44" fill="#2020ff" />
<rect x="343.96" y="112.58" width="22.46" height="9.44" fill="#e0e0ff" />
<rect x="366.12" y="112.58" width="22.46" height="9.44" fill="#ffd8d8" />
<rect x="388.28" y="112.58" width="22.46" height="9.44" fill="#fff4f4" />
<rect x="410.44" y="112.58" width="22.46" height="9.44" fill="#ff4848" />
<rect x="321.80" y="121.72" width="22.46" height="9.44" fill="#2020ff" />
<rect x="343.96" y="121.72" width="22.46" height="9.44" fill="#ffaaaa" />
<rect x="366.12" y="121.72" width="22.46" height="9.44" fill="#b0b0ff" />
<rect x="388.28" y="121.72" width="22.46" height="9.44" fill="#ff6060" />
<rect x="410.44" y="121.72" width="22.46" height="9.44" fill="#ffe0e0" />
<rect x="321.80" y="130.86" width="22.46" height="9.44" fill="#3030ff" />
<rect x="343.96" y="130.86" width="22.46" height="9.44" fill="#ffd8d8" />
<rect x="366.12" y="130.86" width="22.46" height="9.44" fill="#ff9090" />
<rect x="388.28" y="130.86" width="22.46" height="9.44" fill="#a0a0ff" />
<rect x="410.44" y="130.86" width="22.46" height="9.44" fill="#ff7070" />
<rect x="321.80" y="140.00" width="22.46" height="9.44" fill="#2424ff" />
<rect x="343.96" y="140.00" width="22.46" height="9.44" fill="#ff9090" />
<rect x="366.12" y="140.00" width="22.46" height="9.44" fill="#bcbcff" />
<rect x="388.28" y="140.00" width="22.46" height="9.44" fill="#ffc8c8" />
<rect x="410.44" y="140.00" width="22.46" height="9.44" fill="#ff7878" />
<rect x="321.80" y="149.14" width="22.46" height="9.44" fill="#fffcfc" />
<rect x="343.96" y="149.14" width="22.46" height="9.44" fill="#fff4f4" />
<rect x="366.12" y="149.14" width="22.46" height="9.44" fill="#ff2020" />
<rect x="388.28" y="149.14" width="22.46" height="9.44" fill="#7878ff" />
<rect x="410.44" y="149.14" width="22.46" height="9.44" fill="#8888ff" />
<rect x="321.80" y="158.28" width="22.46" height="9.44" fill="#2020ff" />
<rect x="343.96" y="158.28" width="22.46" height="9.44" fill="#ff6060" />
<rect x="366.12" y="158.28" width="22.46" height="9.44" fill="#d8d8ff" />
<rect x="388.28" y="158.28" width="22.46" height="9.44" fill="#ffd0d0" />
<rect x="410.44" y="158.28" width="22.46" height="9.44" fill="#ffbcbc" />
<rect x="321.80" y="167.42" width="22.46" height="9.44" fill="#7070ff" />
<rect x="343.96" y="167.42" width="22.46" height="9.44" fill="#ff6060" />
<rect x="366.12" y="167.42" width="22.46" height="9.44" fill="#9090ff" />
<rect x="388.28" y="167.42" width="22.46" height="9.44" fill="#a8a8ff" />
<rect x="410.44" y="167.42" width="22.46" height="9.44" fill="#ff6060" />
<rect x="321.80" y="176.56" width="22.46" height="9.44" fill="#0808ff" />
<rect x="343.96" y="176.56" width="22.46" height="9.44" fill="#fffafa" />
<rect x="366.12" y="176.56" width="22.46" height="9.44" fill="#ffdcdc" />
<rect x="388.28" y="176.56" width="22.46" height="9.44" fill="#ff7878" />
<rect x="410.44" y="176.56" width="22.46" height="9.44" fill="#ffb0b0" />
<rect x="321.80" y="185.70" width="22.46" height="9.44" fill="#8080ff" />
<rect x="343.96" y="185.70" width="22.46" height="9.44" fill="#7c7cff" />
<rect x="366.12" y="185.70" width="22.46" height="9.44" fill="#fff2f2" />
<rect x="388.28" y="185.70" width="22.46" height="9.44" fill="#f8f8ff" />
<rect x="410.44" y="185.70" width="22.46" height="9.44" fill="#ff1a1a" />
<rect x="321.80" y="194.84" width="22.46" height="9.44" fill="#c0c0ff" />
<rect x="343.96" y="194.84" width="22.46" height="9.44" fill="#a0a0ff" />
<rect x="366.12" y="194.84" width="22.46" height="9.44" fill="#a4a4ff" />
<rect x="388.28" y="194.84" width="22.46" height="9.44" fill="#dcdcff" />
<rect x="410.44" y="194.84" width="22.46" height="9.44" fill="#ff0000" />
<rect x="321.80" y="203.98" width="22.46" height="9.44" fill="#8080ff" />
<rect x="343.96" y="203.98" width="22.46" height="9.44" fill="#f0f0ff" />
<rect x="366.12" y="203.98" width="22.46" height="9.44" fill="#6060ff" />
<rect x="388.28" y="203.98" width="22.46" height="9.44" fill="#ffa0a0" />
<rect x="410.44" y="203.98" width="22.46" height="9.44" fill="#ff4848" />
<rect x="321.80" y="213.12" width="22.46" height="9.44" fill="#0808ff" />
<rect x="343.96" y="213.12" width="22.46" height="9.44" fill="#ffa8a8" />
<rect x="366.12" y="213.12" width="22.46" height="9.44" fill="#ffd8d8" />
<rect x="388.28" y="213.12" width="22.46" height="9.44" fill="#ffd8d8" />
<rect x="410.44" y="213.12" width="22.46" height="9.44" fill="#ffa8a8" />
<text x="435.00" y="55.10" font-size="5.9" font-weight="bold" font-style="italic" text-anchor="start" fill="#000" stroke="#000" stroke-width="0.106" >MYOCD</text>
<text x="435.00" y="64.24" font-size="5.9" font-weight="bold" font-style="italic" text-anchor="start" fill="#000" stroke="#000" stroke-width="0.106" >ACTA2</text>
<text x="435.00" y="73.38" font-size="5.9" font-weight="bold" font-style="italic" text-anchor="start" fill="#000" stroke="#000" stroke-width="0.106" >TAGLN</text>
<text x="435.00" y="82.52" font-size="5.9" font-weight="bold" font-style="italic" text-anchor="start" fill="#000" stroke="#000" stroke-width="0.106" >MYH11</text>
<text x="435.00" y="91.66" font-size="5.9" font-weight="bold" font-style="italic" text-anchor="start" fill="#000" stroke="#000" stroke-width="0.106" >CNN1</text>
<text x="435.00" y="100.80" font-size="5.9" font-weight="bold" font-style="italic" text-anchor="start" fill="#000" stroke="#000" stroke-width="0.106" >SRF</text>
<text x="435.00" y="109.94" font-size="5.9" font-weight="bold" font-style="italic" text-anchor="start" fill="#000" stroke="#000" stroke-width="0.106" >SCAP</text>
<text x="435.00" y="119.08" font-size="5.9" font-weight="bold" font-style="italic" text-anchor="start" fill="#000" stroke="#000" stroke-width="0.106" >SREBF1</text>
<text x="435.00" y="128.22" font-size="5.9" font-weight="bold" font-style="italic" text-anchor="start" fill="#000" stroke="#000" stroke-width="0.106" >FASN</text>
<text x="435.00" y="137.36" font-size="5.9" font-weight="bold" font-style="italic" text-anchor="start" fill="#000" stroke="#000" stroke-width="0.106" >ACACA</text>
<text x="435.00" y="146.50" font-size="5.9" font-weight="bold" font-style="italic" text-anchor="start" fill="#000" stroke="#000" stroke-width="0.106" >ACLY</text>
<text x="435.00" y="155.64" font-size="5.9" font-weight="bold" font-style="italic" text-anchor="start" fill="#000" stroke="#000" stroke-width="0.106" >ACSS2</text>
<text x="435.00" y="164.78" font-size="5.9" font-weight="bold" font-style="italic" text-anchor="start" fill="#000" stroke="#000" stroke-width="0.106" >CDKN1A</text>
<text x="435.00" y="173.92" font-size="5.9" font-weight="bold" font-style="italic" text-anchor="start" fill="#000" stroke="#000" stroke-width="0.106" >CDKN2A</text>
<text x="435.00" y="183.06" font-size="5.9" font-weight="bold" font-style="italic" text-anchor="start" fill="#000" stroke="#000" stroke-width="0.106" >TP53</text>
<text x="435.00" y="192.20" font-size="5.9" font-weight="bold" font-style="italic" text-anchor="start" fill="#000" stroke="#000" stroke-width="0.106" >LUM</text>
<text x="435.00" y="201.34" font-size="5.9" font-weight="bold" font-style="italic" text-anchor="start" fill="#000" stroke="#000" stroke-width="0.106" >DCN</text>
<text x="435.00" y="210.48" font-size="5.9" font-weight="bold" font-style="italic" text-anchor="start" fill="#000" stroke="#000" stroke-width="0.106" >COL1A2</text>
<text x="435.00" y="219.62" font-size="5.9" font-weight="bold" font-style="italic" text-anchor="start" fill="#000" stroke="#000" stroke-width="0.106" >PCNA</text>
<text transform="translate(334.18,45.8) rotate(-45)" font-size="5.8" font-weight="bold">VSMC-1</text>
<text transform="translate(356.34,45.8) rotate(-45)" font-size="5.8" font-weight="bold">VSMC-2</text>
<text transform="translate(378.50,45.8) rotate(-45)" font-size="5.8" font-weight="bold">VSMC-3</text>
<text transform="translate(400.66,45.8) rotate(-45)" font-size="5.8" font-weight="bold">VSMC-4</text>
<text transform="translate(422.82,45.8) rotate(-45)" font-size="5.8" font-weight="bold">Fibroblast</text>
<line x1="320.20" y1="48.60" x2="320.20" y2="101.80" stroke="#000" stroke-width="1.3" />
<line x1="320.20" y1="104.20" x2="320.20" y2="156.40" stroke="#000" stroke-width="1.3" />
<line x1="320.20" y1="158.50" x2="320.20" y2="183.30" stroke="#000" stroke-width="1.3" />
<line x1="320.20" y1="186.20" x2="320.20" y2="221.60" stroke="#000" stroke-width="1.3" />
<text transform="translate(310.00,75.50) rotate(-90)" font-size="5.9" font-weight="bold" font-style="normal" text-anchor="middle" fill="#000" stroke="#000" stroke-width="0.106">VSMC</text>
<text transform="translate(316.00,75.50) rotate(-90)" font-size="5.9" font-weight="bold" font-style="normal" text-anchor="middle" fill="#000" stroke="#000" stroke-width="0.106">contractile genes</text>
<text transform="translate(310.00,130.00) rotate(-90)" font-size="5.9" font-weight="bold" font-style="normal" text-anchor="middle" fill="#000" stroke="#000" stroke-width="0.106">SREBP1</text>
<text transform="translate(316.00,130.00) rotate(-90)" font-size="5.9" font-weight="bold" font-style="normal" text-anchor="middle" fill="#000" stroke="#000" stroke-width="0.106">related genes</text>
<text transform="translate(310.00,171.00) rotate(-90)" font-size="5.9" font-weight="bold" font-style="normal" text-anchor="middle" fill="#000" stroke="#000" stroke-width="0.106">Aging</text>
<text transform="translate(316.00,171.00) rotate(-90)" font-size="5.9" font-weight="bold" font-style="normal" text-anchor="middle" fill="#000" stroke="#000" stroke-width="0.106">genes</text>
<text transform="translate(310.00,204.00) rotate(-90)" font-size="5.9" font-weight="bold" font-style="normal" text-anchor="middle" fill="#000" stroke="#000" stroke-width="0.106">Fibroblast</text>
<text transform="translate(316.00,204.00) rotate(-90)" font-size="5.9" font-weight="bold" font-style="normal" text-anchor="middle" fill="#000" stroke="#000" stroke-width="0.106">genes</text>
<rect x="464.30" y="48.70" width="7.50" height="101.20" fill="url(#gB)" />
<text x="475.00" y="59.20" font-size="7.1" font-weight="normal" font-style="normal" text-anchor="start" fill="#000" stroke="#000" stroke-width="0.128" >1.5</text>
<text x="475.00" y="73.40" font-size="7.1" font-weight="normal" font-style="normal" text-anchor="start" fill="#000" stroke="#000" stroke-width="0.128" >1</text>
<text x="475.00" y="87.60" font-size="7.1" font-weight="normal" font-style="normal" text-anchor="start" fill="#000" stroke="#000" stroke-width="0.128" >0.5</text>
<text x="475.00" y="101.80" font-size="7.1" font-weight="normal" font-style="normal" text-anchor="start" fill="#000" stroke="#000" stroke-width="0.128" >0</text>
<text x="475.00" y="116.00" font-size="7.1" font-weight="normal" font-style="normal" text-anchor="start" fill="#000" stroke="#000" stroke-width="0.128" >-0.5</text>
<text x="475.00" y="130.20" font-size="7.1" font-weight="normal" font-style="normal" text-anchor="start" fill="#000" stroke="#000" stroke-width="0.128" >-1</text>
<text x="475.00" y="144.40" font-size="7.1" font-weight="normal" font-style="normal" text-anchor="start" fill="#000" stroke="#000" stroke-width="0.128" >-1.5</text>
<text transform="translate(470.00,95.60) rotate(-90)" font-size="5.8" font-weight="bold" font-style="normal" text-anchor="middle" fill="#1a1a30" stroke="#1a1a30" stroke-width="0.104">Expression level</text>
<text x="492.50" y="12.70" font-size="14.4" font-weight="bold" font-style="normal" text-anchor="start" fill="#000" stroke="#000" stroke-width="0.259" >C</text>
<rect x="517.00" y="6.30" width="8.60" height="6.50" fill="#b4b4b4" />
<text x="530.00" y="12.60" font-size="8.4" font-weight="normal" font-style="normal" text-anchor="start" fill="#000" stroke="#000" stroke-width="0.151" >siCtrl</text>
<rect x="558.00" y="6.30" width="8.60" height="6.50" fill="#fdb6d6" />
<text x="571" y="12.6" font-size="8.45">si-<tspan font-style="italic">Srebf1</tspan>#3</text>
<rect x="621.00" y="6.30" width="8.60" height="6.50" fill="#ef50f2" />
<text x="634" y="12.6" font-size="8.45">si-<tspan font-style="italic">Srebf2</tspan>#3</text>
<rect x="556.20" y="102.15" width="7.20" height="21.65" fill="#b4b4b4" />
<rect x="563.80" y="90.40" width="7.20" height="33.40" fill="#fdb6d6" />
<rect x="571.40" y="101.53" width="7.20" height="22.27" fill="#ef50f2" />
<line x1="559.80" y1="102.15" x2="559.80" y2="99.06" stroke="#777" stroke-width="0.5" />
<line x1="558.60" y1="99.06" x2="561.00" y2="99.06" stroke="#777" stroke-width="0.5" />
<circle cx="557.60" cy="99.06" r="1.35" fill="#fff" stroke="#555" stroke-width="0.5" />
<circle cx="559.80" cy="100.09" r="1.35" fill="#fff" stroke="#555" stroke-width="0.5" />
<circle cx="562.00" cy="103.18" r="1.35" fill="#fff" stroke="#555" stroke-width="0.5" />
<circle cx="558.70" cy="104.21" r="1.35" fill="#fff" stroke="#555" stroke-width="0.5" />
<circle cx="560.90" cy="108.33" r="1.35" fill="#fff" stroke="#555" stroke-width="0.5" />
<circle cx="559.80" cy="101.12" r="1.35" fill="#fff" stroke="#555" stroke-width="0.5" />
<line x1="567.40" y1="90.40" x2="567.40" y2="83.59" stroke="#777" stroke-width="0.5" />
<line x1="566.20" y1="83.59" x2="568.60" y2="83.59" stroke="#777" stroke-width="0.5" />
<circle cx="565.20" cy="77.41" r="1.35" fill="#fff" stroke="#555" stroke-width="0.5" />
<circle cx="567.40" cy="90.81" r="1.35" fill="#fff" stroke="#555" stroke-width="0.5" />
<circle cx="569.60" cy="91.84" r="1.35" fill="#fff" stroke="#555" stroke-width="0.5" />
<circle cx="566.30" cy="94.93" r="1.35" fill="#fff" stroke="#555" stroke-width="0.5" />
<circle cx="568.50" cy="86.68" r="1.35" fill="#fff" stroke="#555" stroke-width="0.5" />
<circle cx="567.40" cy="89.78" r="1.35" fill="#fff" stroke="#555" stroke-width="0.5" />
<line x1="575.00" y1="101.53" x2="575.00" y2="99.06" stroke="#777" stroke-width="0.5" />
<line x1="573.80" y1="99.06" x2="576.20" y2="99.06" stroke="#777" stroke-width="0.5" />
<circle cx="572.80" cy="99.06" r="1.35" fill="#fff" stroke="#555" stroke-width="0.5" />
<circle cx="575.00" cy="101.12" r="1.35" fill="#fff" stroke="#555" stroke-width="0.5" />
<circle cx="577.20" cy="102.15" r="1.35" fill="#fff" stroke="#555" stroke-width="0.5" />
<circle cx="573.90" cy="103.18" r="1.35" fill="#fff" stroke="#555" stroke-width="0.5" />
<circle cx="576.10" cy="104.21" r="1.35" fill="#fff" stroke="#555" stroke-width="0.5" />
<circle cx="575.00" cy="100.09" r="1.35" fill="#fff" stroke="#555" stroke-width="0.5" />
<rect x="581.20" y="103.18" width="7.20" height="20.62" fill="#b4b4b4" />
<rect x="588.80" y="95.34" width="7.20" height="28.46" fill="#fdb6d6" />
<rect x="596.40" y="103.18" width="7.20" height="20.62" fill="#ef50f2" />
<line x1="584.80" y1="103.18" x2="584.80" y2="100.09" stroke="#777" stroke-width="0.5" />
<line x1="583.60" y1="100.09" x2="586.00" y2="100.09" stroke="#777" stroke-width="0.5" />
<circle cx="582.60" cy="99.06" r="1.35" fill="#fff" stroke="#555" stroke-width="0.5" />
<circle cx="584.80" cy="101.12" r="1.35" fill="#fff" stroke="#555" stroke-width="0.5" />
<circle cx="587.00" cy="104.21" r="1.35" fill="#fff" stroke="#555" stroke-width="0.5" />
<circle cx="583.70" cy="106.27" r="1.35" fill="#fff" stroke="#555" stroke-width="0.5" />
<circle cx="585.90" cy="103.18" r="1.35" fill="#fff" stroke="#555" stroke-width="0.5" />
<circle cx="584.80" cy="101.12" r="1.35" fill="#fff" stroke="#555" stroke-width="0.5" />
<line x1="592.40" y1="95.34" x2="592.40" y2="92.25" stroke="#777" stroke-width="0.5" />
<line x1="591.20" y1="92.25" x2="593.60" y2="92.25" stroke="#777" stroke-width="0.5" />
<circle cx="590.20" cy="88.75" r="1.35" fill="#fff" stroke="#555" stroke-width="0.5" />
<circle cx="592.40" cy="93.90" r="1.35" fill="#fff" stroke="#555" stroke-width="0.5" />
<circle cx="594.60" cy="96.99" r="1.35" fill="#fff" stroke="#555" stroke-width="0.5" />
<circle cx="591.30" cy="95.96" r="1.35" fill="#fff" stroke="#555" stroke-width="0.5" />
<circle cx="593.50" cy="92.87" r="1.35" fill="#fff" stroke="#555" stroke-width="0.5" />
<circle cx="592.40" cy="94.93" r="1.35" fill="#fff" stroke="#555" stroke-width="0.5" />
<line x1="600.00" y1="103.18" x2="600.00" y2="100.71" stroke="#777" stroke-width="0.5" />
<line x1="598.80" y1="100.71" x2="601.20" y2="100.71" stroke="#777" stroke-width="0.5" />
<circle cx="597.80" cy="99.06" r="1.35" fill="#fff" stroke="#555" stroke-width="0.5" />
<circle cx="600.00" cy="102.15" r="1.35" fill="#fff" stroke="#555" stroke-width="0.5" />
<circle cx="602.20" cy="105.24" r="1.35" fill="#fff" stroke="#555" stroke-width="0.5" />
<circle cx="598.90" cy="106.27" r="1.35" fill="#fff" stroke="#555" stroke-width="0.5" />
<circle cx="601.10" cy="103.18" r="1.35" fill="#fff" stroke="#555" stroke-width="0.5" />
<circle cx="600.00" cy="104.21" r="1.35" fill="#fff" stroke="#555" stroke-width="0.5" />
<rect x="606.20" y="103.18" width="7.20" height="20.62" fill="#b4b4b4" />
<rect x="613.80" y="71.22" width="7.20" height="52.58" fill="#fdb6d6" />
<rect x="621.40" y="112.46" width="7.20" height="11.34" fill="#ef50f2" />
<line x1="609.80" y1="103.18" x2="609.80" y2="101.94" stroke="#777" stroke-width="0.5" />
<line x1="608.60" y1="101.94" x2="611.00" y2="101.94" stroke="#777" stroke-width="0.5" />
<circle cx="607.60" cy="102.15" r="1.35" fill="#fff" stroke="#555" stroke-width="0.5" />
<circle cx="609.80" cy="103.18" r="1.35" fill="#fff" stroke="#555" stroke-width="0.5" />
<circle cx="612.00" cy="103.59" r="1.35" fill="#fff" stroke="#555" stroke-width="0.5" />
<circle cx="608.70" cy="102.77" r="1.35" fill="#fff" stroke="#555" stroke-width="0.5" />
<circle cx="610.90" cy="104.21" r="1.35" fill="#fff" stroke="#555" stroke-width="0.5" />
<circle cx="609.80" cy="103.18" r="1.35" fill="#fff" stroke="#555" stroke-width="0.5" />
<line x1="617.40" y1="71.22" x2="617.40" y2="61.94" stroke="#777" stroke-width="0.5" />
<line x1="616.20" y1="61.94" x2="618.60" y2="61.94" stroke="#777" stroke-width="0.5" />
<circle cx="615.20" cy="61.94" r="1.35" fill="#fff" stroke="#555" stroke-width="0.5" />
<circle cx="617.40" cy="64.00" r="1.35" fill="#fff" stroke="#555" stroke-width="0.5" />
<circle cx="619.60" cy="71.22" r="1.35" fill="#fff" stroke="#555" stroke-width="0.5" />
<circle cx="616.30" cy="77.41" r="1.35" fill="#fff" stroke="#555" stroke-width="0.5" />
<circle cx="618.50" cy="80.50" r="1.35" fill="#fff" stroke="#555" stroke-width="0.5" />
<circle cx="617.40" cy="71.22" r="1.35" fill="#fff" stroke="#555" stroke-width="0.5" />
<line x1="625.00" y1="112.46" x2="625.00" y2="109.98" stroke="#777" stroke-width="0.5" />
<line x1="623.80" y1="109.98" x2="626.20" y2="109.98" stroke="#777" stroke-width="0.5" />
<circle cx="622.80" cy="108.33" r="1.35" fill="#fff" stroke="#555" stroke-width="0.5" />
<circle cx="625.00" cy="110.40" r="1.35" fill="#fff" stroke="#555" stroke-width="0.5" />
<circle cx="627.20" cy="112.46" r="1.35" fill="#fff" stroke="#555" stroke-width="0.5" />
<circle cx="623.90" cy="114.52" r="1.35" fill="#fff" stroke="#555" stroke-width="0.5" />
<circle cx="626.10" cy="116.58" r="1.35" fill="#fff" stroke="#555" stroke-width="0.5" />
<circle cx="625.00" cy="111.43" r="1.35" fill="#fff" stroke="#555" stroke-width="0.5" />
<rect x="630.90" y="103.18" width="7.20" height="20.62" fill="#b4b4b4" />
<rect x="638.50" y="55.14" width="7.20" height="68.66" fill="#fdb6d6" />
<rect x="646.10" y="115.55" width="7.20" height="8.25" fill="#ef50f2" />
<line x1="634.50" y1="103.18" x2="634.50" y2="100.71" stroke="#777" stroke-width="0.5" />
<line x1="633.30" y1="100.71" x2="635.70" y2="100.71" stroke="#777" stroke-width="0.5" />
<circle cx="632.30" cy="101.12" r="1.35" fill="#fff" stroke="#555" stroke-width="0.5" />
<circle cx="634.50" cy="102.15" r="1.35" fill="#fff" stroke="#555" stroke-width="0.5" />
<circle cx="636.70" cy="104.21" r="1.35" fill="#fff" stroke="#555" stroke-width="0.5" />
<circle cx="633.40" cy="105.24" r="1.35" fill="#fff" stroke="#555" stroke-width="0.5" />
<circle cx="635.60" cy="103.18" r="1.35" fill="#fff" stroke="#555" stroke-width="0.5" />
<circle cx="634.50" cy="105.65" r="1.35" fill="#fff" stroke="#555" stroke-width="0.5" />
<line x1="642.10" y1="55.14" x2="642.10" y2="45.86" stroke="#777" stroke-width="0.5" />
<line x1="640.90" y1="45.86" x2="643.30" y2="45.86" stroke="#777" stroke-width="0.5" />
<circle cx="639.90" cy="41.32" r="1.35" fill="#fff" stroke="#555" stroke-width="0.5" />
<circle cx="642.10" cy="53.69" r="1.35" fill="#fff" stroke="#555" stroke-width="0.5" />
<circle cx="644.30" cy="55.75" r="1.35" fill="#fff" stroke="#555" stroke-width="0.5" />
<circle cx="641.00" cy="56.78" r="1.35" fill="#fff" stroke="#555" stroke-width="0.5" />
<circle cx="643.20" cy="71.22" r="1.35" fill="#fff" stroke="#555" stroke-width="0.5" />
<circle cx="642.10" cy="54.72" r="1.35" fill="#fff" stroke="#555" stroke-width="0.5" />
<line x1="649.70" y1="115.55" x2="649.70" y2="114.73" stroke="#777" stroke-width="0.5" />
<line x1="648.50" y1="114.73" x2="650.90" y2="114.73" stroke="#777" stroke-width="0.5" />
<circle cx="647.50" cy="114.52" r="1.35" fill="#fff" stroke="#555" stroke-width="0.5" />
<circle cx="649.70" cy="115.14" r="1.35" fill="#fff" stroke="#555" stroke-width="0.5" />
<circle cx="651.90" cy="115.55" r="1.35" fill="#fff" stroke="#555" stroke-width="0.5" />
<circle cx="648.60" cy="115.96" r="1.35" fill="#fff" stroke="#555" stroke-width="0.5" />
<circle cx="650.80" cy="114.93" r="1.35" fill="#fff" stroke="#555" stroke-width="0.5" />
<circle cx="649.70" cy="115.35" r="1.35" fill="#fff" stroke="#555" stroke-width="0.5" />
<rect x="655.90" y="103.18" width="7.20" height="20.62" fill="#b4b4b4" />
<rect x="663.50" y="55.14" width="7.20" height="68.66" fill="#fdb6d6" />
<rect x="671.10" y="109.57" width="7.20" height="14.23" fill="#ef50f2" />
<line x1="659.50" y1="103.18" x2="659.50" y2="100.71" stroke="#777" stroke-width="0.5" />
<line x1="658.30" y1="100.71" x2="660.70" y2="100.71" stroke="#777" stroke-width="0.5" />
<circle cx="657.30" cy="100.09" r="1.35" fill="#fff" stroke="#555" stroke-width="0.5" />
<circle cx="659.50" cy="102.15" r="1.35" fill="#fff" stroke="#555" stroke-width="0.5" />
<circle cx="661.70" cy="104.21" r="1.35" fill="#fff" stroke="#555" stroke-width="0.5" />
<circle cx="658.40" cy="106.27" r="1.35" fill="#fff" stroke="#555" stroke-width="0.5" />
<circle cx="660.60" cy="109.37" r="1.35" fill="#fff" stroke="#555" stroke-width="0.5" />
<circle cx="659.50" cy="103.18" r="1.35" fill="#fff" stroke="#555" stroke-width="0.5" />
<line x1="667.10" y1="55.14" x2="667.10" y2="45.86" stroke="#777" stroke-width="0.5" />
<line x1="665.90" y1="45.86" x2="668.30" y2="45.86" stroke="#777" stroke-width="0.5" />
<circle cx="664.90" cy="37.20" r="1.35" fill="#fff" stroke="#555" stroke-width="0.5" />
<circle cx="667.10" cy="43.38" r="1.35" fill="#fff" stroke="#555" stroke-width="0.5" />
<circle cx="669.30" cy="55.75" r="1.35" fill="#fff" stroke="#555" stroke-width="0.5" />
<circle cx="666.00" cy="59.88" r="1.35" fill="#fff" stroke="#555" stroke-width="0.5" />
<circle cx="668.20" cy="62.97" r="1.35" fill="#fff" stroke="#555" stroke-width="0.5" />
<circle cx="667.10" cy="67.09" r="1.35" fill="#fff" stroke="#555" stroke-width="0.5" />
<line x1="674.70" y1="109.57" x2="674.70" y2="107.10" stroke="#777" stroke-width="0.5" />
<line x1="673.50" y1="107.10" x2="675.90" y2="107.10" stroke="#777" stroke-width="0.5" />
<circle cx="672.50" cy="106.27" r="1.35" fill="#fff" stroke="#555" stroke-width="0.5" />
<circle cx="674.70" cy="109.37" r="1.35" fill="#fff" stroke="#555" stroke-width="0.5" />
<circle cx="676.90" cy="110.40" r="1.35" fill="#fff" stroke="#555" stroke-width="0.5" />
<circle cx="673.60" cy="112.46" r="1.35" fill="#fff" stroke="#555" stroke-width="0.5" />
<circle cx="675.80" cy="114.52" r="1.35" fill="#fff" stroke="#555" stroke-width="0.5" />
<circle cx="674.70" cy="108.33" r="1.35" fill="#fff" stroke="#555" stroke-width="0.5" />
<line x1="556.00" y1="103.18" x2="678.00" y2="103.18" stroke="#555" stroke-width="0.9" stroke-dasharray="3.5,2.2"/>
<line x1="555.60" y1="20.30" x2="555.60" y2="124.30" stroke="#111" stroke-width="1.2" />
<line x1="555.10" y1="123.80" x2="677.40" y2="123.80" stroke="#111" stroke-width="1.2" />
<line x1="551.60" y1="123.80" x2="555.60" y2="123.80" stroke="#111" stroke-width="1.1" />
<text x="550.60" y="126.60" font-size="7.8" font-weight="bold" font-style="normal" text-anchor="end" fill="#000" stroke="#000" stroke-width="0.140" >0</text>
<line x1="551.60" y1="103.18" x2="555.60" y2="103.18" stroke="#111" stroke-width="1.1" />
<text x="550.60" y="105.98" font-size="7.8" font-weight="bold" font-style="normal" text-anchor="end" fill="#000" stroke="#000" stroke-width="0.140" >1</text>
<line x1="551.60" y1="82.56" x2="555.60" y2="82.56" stroke="#111" stroke-width="1.1" />
<text x="550.60" y="85.36" font-size="7.8" font-weight="bold" font-style="normal" text-anchor="end" fill="#000" stroke="#000" stroke-width="0.140" >2</text>
<line x1="551.60" y1="61.94" x2="555.60" y2="61.94" stroke="#111" stroke-width="1.1" />
<text x="550.60" y="64.74" font-size="7.8" font-weight="bold" font-style="normal" text-anchor="end" fill="#000" stroke="#000" stroke-width="0.140" >3</text>
<line x1="551.60" y1="41.32" x2="555.60" y2="41.32" stroke="#111" stroke-width="1.1" />
<text x="550.60" y="44.12" font-size="7.8" font-weight="bold" font-style="normal" text-anchor="end" fill="#000" stroke="#000" stroke-width="0.140" >4</text>
<line x1="551.60" y1="20.70" x2="555.60" y2="20.70" stroke="#111" stroke-width="1.1" />
<text x="550.60" y="23.50" font-size="7.8" font-weight="bold" font-style="normal" text-anchor="end" fill="#000" stroke="#000" stroke-width="0.140" >5</text>
<line x1="567.50" y1="123.80" x2="567.50" y2="126.30" stroke="#111" stroke-width="1.0" />
<text x="567.50" y="134.30" font-size="7.0" font-weight="normal" font-style="italic" text-anchor="middle" fill="#000" stroke="#000" stroke-width="0.126" >Myocd</text>
<line x1="592.30" y1="123.80" x2="592.30" y2="126.30" stroke="#111" stroke-width="1.0" />
<text x="592.30" y="134.30" font-size="7.0" font-weight="normal" font-style="italic" text-anchor="middle" fill="#000" stroke="#000" stroke-width="0.126" >Srf</text>
<line x1="617.20" y1="123.80" x2="617.20" y2="126.30" stroke="#111" stroke-width="1.0" />
<text x="617.20" y="134.30" font-size="7.0" font-weight="normal" font-style="italic" text-anchor="middle" fill="#000" stroke="#000" stroke-width="0.126" >Acta2</text>
<line x1="642.00" y1="123.80" x2="642.00" y2="126.30" stroke="#111" stroke-width="1.0" />
<text x="642.00" y="134.30" font-size="7.0" font-weight="normal" font-style="italic" text-anchor="middle" fill="#000" stroke="#000" stroke-width="0.126" >Tagln</text>
<line x1="666.80" y1="123.80" x2="666.80" y2="126.30" stroke="#111" stroke-width="1.0" />
<text x="666.80" y="134.30" font-size="7.0" font-weight="normal" font-style="italic" text-anchor="middle" fill="#000" stroke="#000" stroke-width="0.126" >Cnn1</text>
<text transform="translate(530.30,72.40) rotate(-90)" font-size="8.35" font-weight="normal" font-style="normal" text-anchor="middle" fill="#000" stroke="#000" stroke-width="0.150">Relative mRNA expression</text>
<text transform="translate(540.40,72.50) rotate(-90)" font-size="8.35" font-weight="normal" font-style="normal" text-anchor="middle" fill="#000" stroke="#000" stroke-width="0.150">(relative to siCtrl)</text>
<polyline points="560.00,64.00 560.00,62.40 574.60,62.40 574.60,64.00" fill="none" stroke="#333" stroke-width="0.55" />
<text x="567.30" y="59.80" font-size="4.6" text-anchor="middle" fill="#222" stroke="none"><tspan font-style="italic">P</tspan> = 0.9424</text>
<polyline points="560.00,73.90 560.00,72.30 567.40,72.30 567.40,73.90" fill="none" stroke="#333" stroke-width="0.55" />
<text x="563.70" y="69.70" font-size="4.6" text-anchor="middle" fill="#222" stroke="none"><tspan font-style="italic">P</tspan> = 0.0001</text>
<polyline points="582.50,72.80 582.50,71.20 600.00,71.20 600.00,72.80" fill="none" stroke="#333" stroke-width="0.55" />
<text x="591.25" y="68.70" font-size="4.6" text-anchor="middle" fill="#222" stroke="none"><tspan font-style="italic">P</tspan> = 0.999</text>
<polyline points="584.50,83.10 584.50,81.50 592.50,81.50 592.50,83.10" fill="none" stroke="#333" stroke-width="0.55" />
<text x="588.50" y="78.90" font-size="4.6" text-anchor="middle" fill="#222" stroke="none"><tspan font-style="italic">P</tspan> = 0.0153</text>
<polyline points="609.50,48.30 609.50,46.70 625.00,46.70 625.00,48.30" fill="none" stroke="#333" stroke-width="0.55" />
<text x="617.25" y="44.00" font-size="4.6" text-anchor="middle" fill="#222" stroke="none"><tspan font-style="italic">P</tspan> = 0.037</text>
<polyline points="609.50,57.50 609.50,55.90 617.20,55.90 617.20,57.50" fill="none" stroke="#333" stroke-width="0.55" />
<text x="613.35" y="53.30" font-size="4.6" text-anchor="middle" fill="#222" stroke="none"><tspan font-style="italic">P</tspan> = 0.0001</text>
<polyline points="633.50,29.00 633.50,27.40 649.50,27.40 649.50,29.00" fill="none" stroke="#333" stroke-width="0.55" />
<text x="641.50" y="24.70" font-size="4.6" text-anchor="middle" fill="#222" stroke="none"><tspan font-style="italic">P</tspan> = 0.0004</text>
<polyline points="633.50,38.20 633.50,36.60 641.80,36.60 641.80,38.20" fill="none" stroke="#333" stroke-width="0.55" />
<text x="637.65" y="33.90" font-size="4.6" text-anchor="middle" fill="#222" stroke="none"><tspan font-style="italic">P</tspan> &lt; 0.0001</text>
<polyline points="658.50,29.00 658.50,27.40 674.20,27.40 674.20,29.00" fill="none" stroke="#333" stroke-width="0.55" />
<text x="666.35" y="24.70" font-size="4.6" text-anchor="middle" fill="#222" stroke="none"><tspan font-style="italic">P</tspan> = 0.0526</text>
<polyline points="658.50,38.20 658.50,36.60 666.80,36.60 666.80,38.20" fill="none" stroke="#333" stroke-width="0.55" />
<text x="662.65" y="33.90" font-size="4.6" text-anchor="middle" fill="#222" stroke="none"><tspan font-style="italic">P</tspan> &lt; 0.0001</text>
<text x="494.00" y="154.20" font-size="14.4" font-weight="bold" font-style="normal" text-anchor="start" fill="#000" stroke="#000" stroke-width="0.259" >D</text>
<rect x="508.40" y="159.60" width="175.20" height="50.80" fill="#050505" />
<g clip-path="url(#clipD)">
<ellipse cx="537.0" cy="185.3" rx="28" ry="24.5" fill="#141414" stroke="#4a4a4a" stroke-width="1.2"/>
<ellipse cx="537.0" cy="185.3" rx="25.6" ry="22.6" fill="#1a1a1a" stroke="#333" stroke-width="0.8"/>
<ellipse cx="537.0" cy="185.3" rx="22.4" ry="21.2" fill="#222" stroke="#7a7a7a" stroke-width="1.6"/>
<ellipse cx="537.0" cy="185.3" rx="19.8" ry="18.8" fill="#262626" stroke="#444" stroke-width="0.8"/>
<rect x="508.0" y="184.10000000000002" width="13" height="4.6" fill="#fff" opacity="0.6" filter="url(#dsoft)"/>
<rect x="552.0" y="183.5" width="13" height="4.6" fill="#fff" opacity="0.55" filter="url(#dsoft)"/>
<path d="M537.90,173.90 C539.42,174.47 544.82,176.07 547.00,177.30 C549.18,178.53 549.83,179.83 551.00,181.30 C552.17,182.77 554.17,184.43 554.00,186.10 C553.83,187.77 551.17,189.85 550.00,191.30 C548.83,192.75 548.75,193.18 547.00,194.80 C545.25,196.42 542.50,200.83 539.50,201.00 C536.50,201.17 531.42,197.58 529.00,195.80 C526.58,194.02 526.10,192.20 525.00,190.30 C523.90,188.40 521.90,186.40 522.40,184.40 C522.90,182.40 525.42,180.05 528.00,178.30 C530.58,176.55 536.25,174.63 537.90,173.90 Z" fill="url(#blobg)" stroke="#fff" stroke-width="1.0" stroke-dasharray="2.2,1.2"/>
<ellipse cx="516.0" cy="186.3" rx="5" ry="3.2" fill="#ccc" opacity="0.35"/>
<ellipse cx="516.0" cy="186.3" rx="2.2" ry="1.8" fill="#fff" opacity="0.9"/>
<ellipse cx="559.0" cy="186.3" rx="5" ry="3.2" fill="#ccc" opacity="0.35"/>
<ellipse cx="559.0" cy="186.3" rx="2.2" ry="1.8" fill="#fff" opacity="0.9"/>
<ellipse cx="529.5" cy="186.8" rx="2.2" ry="1.8" fill="#f4f4f4" opacity="0.85"/>
<ellipse cx="544.8" cy="186.8" rx="2.2" ry="1.8" fill="#f4f4f4" opacity="0.85"/>
<ellipse cx="537.0" cy="169.3" rx="3.5" ry="1.3" fill="#aaa" opacity="0.5"/>
<ellipse cx="537.0" cy="202.3" rx="3.5" ry="1.3" fill="#aaa" opacity="0.4"/>
<ellipse cx="596.4" cy="185.3" rx="28" ry="24.5" fill="#141414" stroke="#4a4a4a" stroke-width="1.2"/>
<ellipse cx="596.4" cy="185.3" rx="25.6" ry="22.6" fill="#1a1a1a" stroke="#333" stroke-width="0.8"/>
<ellipse cx="596.4" cy="185.3" rx="22.4" ry="21.2" fill="#222" stroke="#7a7a7a" stroke-width="1.6"/>
<ellipse cx="596.4" cy="185.3" rx="19.8" ry="18.8" fill="#262626" stroke="#444" stroke-width="0.8"/>
<rect x="567.4" y="184.10000000000002" width="13" height="4.6" fill="#fff" opacity="0.6" filter="url(#dsoft)"/>
<rect x="611.4" y="183.5" width="13" height="4.6" fill="#fff" opacity="0.55" filter="url(#dsoft)"/>
<path d="M596.40,176.50 C598.07,176.88 604.00,176.83 606.40,178.80 C608.80,180.77 610.80,185.05 610.80,188.30 C610.80,191.55 608.80,195.82 606.40,198.30 C604.00,200.78 599.57,203.03 596.40,203.20 C593.23,203.37 589.47,201.62 587.40,199.30 C585.33,196.98 584.00,192.47 584.00,189.30 C584.00,186.13 585.33,182.43 587.40,180.30 C589.47,178.17 594.90,177.13 596.40,176.50 Z" fill="url(#blobg)" stroke="#fff" stroke-width="1.0" stroke-dasharray="2.2,1.2"/>
<ellipse cx="575.4" cy="186.3" rx="5" ry="3.2" fill="#ccc" opacity="0.35"/>
<ellipse cx="575.4" cy="186.3" rx="2.2" ry="1.8" fill="#fff" opacity="0.9"/>
<ellipse cx="618.4" cy="186.3" rx="5" ry="3.2" fill="#ccc" opacity="0.35"/>
<ellipse cx="618.4" cy="186.3" rx="2.2" ry="1.8" fill="#fff" opacity="0.9"/>
<ellipse cx="588.9" cy="186.8" rx="2.2" ry="1.8" fill="#f4f4f4" opacity="0.85"/>
<ellipse cx="604.1999999999999" cy="186.8" rx="2.2" ry="1.8" fill="#f4f4f4" opacity="0.85"/>
<ellipse cx="596.4" cy="169.3" rx="3.5" ry="1.3" fill="#aaa" opacity="0.5"/>
<ellipse cx="596.4" cy="202.3" rx="3.5" ry="1.3" fill="#aaa" opacity="0.4"/>
<ellipse cx="654.8" cy="185.3" rx="28" ry="24.5" fill="#141414" stroke="#4a4a4a" stroke-width="1.2"/>
<ellipse cx="654.8" cy="185.3" rx="25.6" ry="22.6" fill="#1a1a1a" stroke="#333" stroke-width="0.8"/>
<ellipse cx="654.8" cy="185.3" rx="22.4" ry="21.2" fill="#222" stroke="#7a7a7a" stroke-width="1.6"/>
<ellipse cx="654.8" cy="185.3" rx="19.8" ry="18.8" fill="#262626" stroke="#444" stroke-width="0.8"/>
<rect x="625.8" y="184.10000000000002" width="13" height="4.6" fill="#fff" opacity="0.6" filter="url(#dsoft)"/>
<rect x="669.8" y="183.5" width="13" height="4.6" fill="#fff" opacity="0.55" filter="url(#dsoft)"/>
<path d="M652.80,169.50 C653.80,169.55 656.80,168.92 658.80,169.80 C660.80,170.68 662.97,173.05 664.80,174.80 C666.63,176.55 668.40,178.38 669.80,180.30 C671.20,182.22 673.53,183.80 673.20,186.30 C672.87,188.80 670.03,192.88 667.80,195.30 C665.57,197.72 662.47,199.70 659.80,200.80 C657.13,201.90 654.30,202.48 651.80,201.90 C649.30,201.32 646.87,200.07 644.80,197.30 C642.73,194.53 639.57,188.80 639.40,185.30 C639.23,181.80 642.57,178.72 643.80,176.30 C645.03,173.88 645.30,171.93 646.80,170.80 C648.30,169.67 651.80,169.72 652.80,169.50 Z" fill="url(#blobg)" stroke="#fff" stroke-width="1.0" stroke-dasharray="2.2,1.2"/>
<ellipse cx="633.8" cy="186.3" rx="5" ry="3.2" fill="#ccc" opacity="0.35"/>
<ellipse cx="633.8" cy="186.3" rx="2.2" ry="1.8" fill="#fff" opacity="0.9"/>
<ellipse cx="676.8" cy="186.3" rx="5" ry="3.2" fill="#ccc" opacity="0.35"/>
<ellipse cx="676.8" cy="186.3" rx="2.2" ry="1.8" fill="#fff" opacity="0.9"/>
<ellipse cx="647.3" cy="186.8" rx="2.2" ry="1.8" fill="#f4f4f4" opacity="0.85"/>
<ellipse cx="662.5999999999999" cy="186.8" rx="2.2" ry="1.8" fill="#f4f4f4" opacity="0.85"/>
<ellipse cx="654.8" cy="169.3" rx="3.5" ry="1.3" fill="#aaa" opacity="0.5"/>
<ellipse cx="654.8" cy="202.3" rx="3.5" ry="1.3" fill="#aaa" opacity="0.4"/>
</g>
<rect x="508.40" y="148.60" width="175.20" height="11.00" fill="#fff" stroke="#000" stroke-width="1.2"/>
<line x1="567.20" y1="148.60" x2="567.20" y2="159.60" stroke="#000" stroke-width="1.2" />
<line x1="567.20" y1="159.60" x2="567.20" y2="210.40" stroke="#c8c8c8" stroke-width="1.4" />
<line x1="625.80" y1="148.60" x2="625.80" y2="159.60" stroke="#000" stroke-width="1.2" />
<line x1="625.80" y1="159.60" x2="625.80" y2="210.40" stroke="#c8c8c8" stroke-width="1.4" />
<text x="537.80" y="158.00" font-size="8.8" font-weight="bold" font-style="normal" text-anchor="middle" fill="#000" stroke="#000" stroke-width="0.158" >siCtrl</text>
<text x="596.6" y="158.0" font-size="8.8" font-weight="bold" text-anchor="middle">si-<tspan font-style="italic">Srebf1</tspan>#3</text>
<text x="654.7" y="158.0" font-size="8.8" font-weight="bold" text-anchor="middle">si-<tspan font-style="italic">Srebf2</tspan>#3</text>
<rect x="508.40" y="159.60" width="175.20" height="50.80" fill="none" stroke="#000" stroke-width="1.2"/>
<text x="8.20" y="250.90" font-size="14.4" font-weight="bold" font-style="normal" text-anchor="start" fill="#000" stroke="#000" stroke-width="0.259" >E</text>
<text x="56.40" y="269.90" font-size="8.0" font-weight="bold" font-style="normal" text-anchor="middle" fill="#000" stroke="#000" stroke-width="0.144" >LXR-623</text>
<line x1="56.40" y1="277.00" x2="56.40" y2="289.80" stroke="#45a82e" stroke-width="2.4" />
<polygon points="52.30,289.30 60.50,289.30 56.40,296.80" fill="#45a82e" stroke="none" stroke-width="0" />
<path d="M12,327.20 C20,326.10 26,327.60 33,326.80 L80,326.80 C88,327.00 96,326.60 104,324.60" fill="none" stroke="#1b2d55" stroke-width="0.8"/>
<g transform="translate(25.30,314.60) rotate(32) scale(1.0)"><path d="M-6,-11.5 L5,-11.5 A5.2,11.5 0 0 1 5,11.5 L-6,11.5 A5.2,11.5 0 0 1 -6,-11.5 Z" fill="#3a98cc" stroke="#1b2d55" stroke-width="0.8"/><ellipse cx="-6" cy="0" rx="5.2" ry="11.5" fill="#42a2d4" stroke="#1b2d55" stroke-width="0.8"/><path d="M-2.2,-11.5 A5.2,11.5 0 0 1 -2.2,11.5" fill="none" stroke="#1b2d55" stroke-width="0.75"/><path d="M1.6,-11.5 A5.2,11.5 0 0 1 1.6,11.5" fill="none" stroke="#1b2d55" stroke-width="0.75"/></g>
<g transform="translate(96.80,314.60) rotate(32) scale(1.0)"><path d="M-6,-11.5 L5,-11.5 A5.2,11.5 0 0 1 5,11.5 L-6,11.5 A5.2,11.5 0 0 1 -6,-11.5 Z" fill="#3a98cc" stroke="#1b2d55" stroke-width="0.8"/><ellipse cx="-6" cy="0" rx="5.2" ry="11.5" fill="#42a2d4" stroke="#1b2d55" stroke-width="0.8"/><path d="M-2.2,-11.5 A5.2,11.5 0 0 1 -2.2,11.5" fill="none" stroke="#1b2d55" stroke-width="0.75"/><path d="M1.6,-11.5 A5.2,11.5 0 0 1 1.6,11.5" fill="none" stroke="#1b2d55" stroke-width="0.75"/></g>
<line x1="32.60" y1="326.80" x2="78.60" y2="326.80" stroke="#15244f" stroke-width="2.2" />
<rect x="38.5" y="306.00" width="37.9" height="17.8" rx="8.9" fill="#b3d9f7"/>
<text x="57.50" y="317.60" font-size="8.0" font-weight="bold" font-style="normal" text-anchor="middle" fill="#1a1a1a" stroke="#1a1a1a" stroke-width="0.144" >LXRα/β</text>
<text x="57.40" y="334.80" font-size="6.7" font-weight="bold" font-style="normal" text-anchor="middle" fill="#1a1a1a" stroke="#1a1a1a" stroke-width="0.121" >LXRE</text>
<path d="M12,386.20 C20,385.10 26,386.60 33,385.80 L80,385.80 C88,386.00 96,385.60 104,383.60" fill="none" stroke="#1b2d55" stroke-width="0.8"/>
<g transform="translate(25.30,373.60) rotate(32) scale(1.0)"><path d="M-6,-11.5 L5,-11.5 A5.2,11.5 0 0 1 5,11.5 L-6,11.5 A5.2,11.5 0 0 1 -6,-11.5 Z" fill="#3a98cc" stroke="#1b2d55" stroke-width="0.8"/><ellipse cx="-6" cy="0" rx="5.2" ry="11.5" fill="#42a2d4" stroke="#1b2d55" stroke-width="0.8"/><path d="M-2.2,-11.5 A5.2,11.5 0 0 1 -2.2,11.5" fill="none" stroke="#1b2d55" stroke-width="0.75"/><path d="M1.6,-11.5 A5.2,11.5 0 0 1 1.6,11.5" fill="none" stroke="#1b2d55" stroke-width="0.75"/></g>
<line x1="32.60" y1="385.80" x2="78.60" y2="385.80" stroke="#15244f" stroke-width="2.2" />
<rect x="38.5" y="365.00" width="37.9" height="17.8" rx="8.9" fill="#b3d9f7"/>
<text x="57.50" y="376.60" font-size="6.9" font-weight="bold" font-style="normal" text-anchor="middle" fill="#1a1a1a" stroke="#1a1a1a" stroke-width="0.124" >nSREBP1</text>
<text x="57.40" y="393.80" font-size="6.7" font-weight="bold" font-style="normal" text-anchor="middle" fill="#1a1a1a" stroke="#1a1a1a" stroke-width="0.121" >SRE</text>
<line x1="56.80" y1="342.50" x2="56.80" y2="352.00" stroke="#45a82e" stroke-width="1.8" />
<polygon points="53.80,351.50 59.80,351.50 56.80,357.00" fill="#45a82e" stroke="none" stroke-width="0" />
<line x1="78.60" y1="385.80" x2="86.00" y2="385.80" stroke="#1b2d55" stroke-width="0.8" />
<polyline points="87.20,374.50 87.20,372.50 92.50,365.40 104.50,365.40" fill="none" stroke="#45a82e" stroke-width="1.6" />
<polygon points="104.00,362.20 104.00,368.60 110.50,365.40" fill="#45a82e" stroke="none" stroke-width="0" />
<rect x="86.30" y="374.30" width="49.50" height="19.00" fill="#e8efe2" stroke="#45a82e" stroke-width="1.1"/>
<text x="111.00" y="382.30" font-size="6.7" font-weight="bold" font-style="normal" text-anchor="middle" fill="#1a1a1a" stroke="#1a1a1a" stroke-width="0.121" >Lipogenic</text>
<text x="111.00" y="390.00" font-size="6.7" font-weight="bold" font-style="normal" text-anchor="middle" fill="#1a1a1a" stroke="#1a1a1a" stroke-width="0.121" >genes</text>
<text x="146.80" y="250.80" font-size="14.4" font-weight="bold" font-style="normal" text-anchor="start" fill="#000" stroke="#000" stroke-width="0.259" >F</text>
<text x="230.70" y="251.60" font-size="10.2" font-weight="bold" font-style="normal" text-anchor="middle" fill="#000" stroke="#000" stroke-width="0.184" >DMSO</text>
<text x="281.00" y="251.60" font-size="9.9" font-weight="bold" font-style="normal" text-anchor="middle" fill="#000" stroke="#000" stroke-width="0.178" >LXR-623</text>
<rect x="206.60" y="254.20" width="47.70" height="2.80" fill="#000" />
<rect x="257.00" y="254.20" width="48.40" height="2.80" fill="#000" />
<text x="320.20" y="253.40" font-size="10.2" font-weight="bold" font-style="normal" text-anchor="start" fill="#000" stroke="#000" stroke-width="0.184" >KDa</text>
<rect x="206.70" y="259.40" width="99.70" height="20.10" fill="#dadada"/>
<g clip-path="url(#cl206_259)" filter="url(#bandblur)">
<rect x="208.00" y="266.66" width="19.00" height="7.48" rx="3.40" fill="#8a8a8a" opacity="0.117"/>
<rect x="233.00" y="266.88" width="18.00" height="7.04" rx="3.20" fill="#8e8e8e" opacity="0.117"/>
<rect x="257.80" y="266.02" width="19.00" height="8.36" rx="3.80" fill="#666" opacity="0.123"/>
<rect x="281.95" y="266.24" width="18.50" height="7.92" rx="3.60" fill="#707070" opacity="0.123"/>
<rect x="209.00" y="268.70" width="17.00" height="3.40" rx="1.70" fill="#8a8a8a" opacity="0.9"/>
<rect x="234.00" y="268.80" width="16.00" height="3.20" rx="1.60" fill="#8e8e8e" opacity="0.9"/>
<rect x="258.80" y="268.30" width="17.00" height="3.80" rx="1.90" fill="#666" opacity="0.95"/>
<rect x="282.95" y="268.40" width="16.50" height="3.60" rx="1.80" fill="#707070" opacity="0.95"/>
</g>
<rect x="206.70" y="259.40" width="99.70" height="20.10" fill="none" stroke="#1a1a1a" stroke-width="1.1"/>
<rect x="206.70" y="288.20" width="99.70" height="22.50" fill="#d0d0d0"/>
<g clip-path="url(#cl206_288)" filter="url(#bandblur)">
<rect x="208.00" y="292.48" width="19.00" height="7.04" rx="3.20" fill="#444" opacity="0.123"/>
<rect x="233.00" y="292.90" width="18.00" height="6.60" rx="3.00" fill="#6a6a6a" opacity="0.123"/>
<rect x="256.30" y="290.30" width="22.00" height="11.00" rx="5.00" fill="#050505" opacity="0.130"/>
<rect x="280.20" y="290.30" width="22.00" height="11.00" rx="5.00" fill="#050505" opacity="0.130"/>
<rect x="207.00" y="296.58" width="21.00" height="9.24" rx="4.20" fill="#0a0a0a" opacity="0.130"/>
<rect x="232.00" y="296.82" width="20.00" height="8.36" rx="3.80" fill="#141414" opacity="0.130"/>
<rect x="256.05" y="295.68" width="22.50" height="11.44" rx="5.20" fill="#000" opacity="0.130"/>
<rect x="279.95" y="295.68" width="22.50" height="11.44" rx="5.20" fill="#000" opacity="0.130"/>
<rect x="209.00" y="294.40" width="17.00" height="3.20" rx="1.60" fill="#444" opacity="0.95"/>
<rect x="234.00" y="294.70" width="16.00" height="3.00" rx="1.50" fill="#6a6a6a" opacity="0.95"/>
<rect x="257.30" y="293.30" width="20.00" height="5.00" rx="2.50" fill="#050505" opacity="1"/>
<rect x="281.20" y="293.30" width="20.00" height="5.00" rx="2.50" fill="#050505" opacity="1"/>
<rect x="208.00" y="299.10" width="19.00" height="4.20" rx="2.10" fill="#0a0a0a" opacity="1"/>
<rect x="233.00" y="299.10" width="18.00" height="3.80" rx="1.90" fill="#141414" opacity="1"/>
<rect x="257.05" y="298.80" width="20.50" height="5.20" rx="2.60" fill="#000" opacity="1"/>
<rect x="280.95" y="298.80" width="20.50" height="5.20" rx="2.60" fill="#000" opacity="1"/>
</g>
<rect x="206.70" y="288.20" width="99.70" height="22.50" fill="none" stroke="#1a1a1a" stroke-width="1.1"/>
<rect x="205.80" y="318.80" width="101.20" height="22.60" fill="#d4d4d4"/>
<g clip-path="url(#cl205_318)" filter="url(#bandblur)">
<rect x="206.00" y="321.94" width="23.00" height="14.52" rx="6.60" fill="#000" opacity="0.130"/>
<rect x="231.00" y="322.58" width="22.00" height="13.64" rx="6.20" fill="#050505" opacity="0.130"/>
<rect x="256.55" y="323.84" width="21.50" height="12.32" rx="5.60" fill="#080808" opacity="0.130"/>
<rect x="279.95" y="323.62" width="22.50" height="12.76" rx="5.80" fill="#050505" opacity="0.130"/>
<rect x="207.00" y="325.90" width="21.00" height="6.60" rx="3.30" fill="#000" opacity="1"/>
<rect x="232.00" y="326.30" width="20.00" height="6.20" rx="3.10" fill="#050505" opacity="1"/>
<rect x="257.55" y="327.20" width="19.50" height="5.60" rx="2.80" fill="#080808" opacity="1"/>
<rect x="280.95" y="327.10" width="20.50" height="5.80" rx="2.90" fill="#050505" opacity="1"/>
</g>
<rect x="205.80" y="318.80" width="101.20" height="22.60" fill="none" stroke="#1a1a1a" stroke-width="1.1"/>
<rect x="205.80" y="344.40" width="101.20" height="17.20" fill="#dedede"/>
<g clip-path="url(#cl205_344)" filter="url(#bandblur)">
<rect x="208.00" y="348.74" width="19.00" height="5.72" rx="2.60" fill="#b0b0b0" opacity="0.117"/>
<rect x="233.50" y="348.96" width="17.00" height="5.28" rx="2.40" fill="#b4b4b4" opacity="0.117"/>
<rect x="258.30" y="348.96" width="18.00" height="5.28" rx="2.40" fill="#b0b0b0" opacity="0.117"/>
<rect x="281.70" y="348.74" width="19.00" height="5.72" rx="2.60" fill="#acacac" opacity="0.117"/>
<rect x="209.00" y="350.30" width="17.00" height="2.60" rx="1.30" fill="#b0b0b0" opacity="0.9"/>
<rect x="234.50" y="350.40" width="15.00" height="2.40" rx="1.20" fill="#b4b4b4" opacity="0.9"/>
<rect x="259.30" y="350.40" width="16.00" height="2.40" rx="1.20" fill="#b0b0b0" opacity="0.9"/>
<rect x="282.70" y="350.30" width="17.00" height="2.60" rx="1.30" fill="#acacac" opacity="0.9"/>
</g>
<rect x="205.80" y="344.40" width="101.20" height="17.20" fill="none" stroke="#1a1a1a" stroke-width="1.1"/>
<rect x="205.80" y="371.00" width="101.20" height="19.20" fill="#d0d0d0"/>
<g clip-path="url(#cl205_371)" filter="url(#bandblur)">
<rect x="206.00" y="375.36" width="23.00" height="9.68" rx="4.40" fill="#050505" opacity="0.130"/>
<rect x="232.25" y="376.02" width="19.50" height="8.36" rx="3.80" fill="#101010" opacity="0.130"/>
<rect x="256.30" y="375.06" width="22.00" height="9.68" rx="4.40" fill="#050505" opacity="0.130"/>
<rect x="279.20" y="374.40" width="24.00" height="11.00" rx="5.00" fill="#000" opacity="0.130"/>
<rect x="207.50" y="382.34" width="20.00" height="5.72" rx="2.60" fill="#888" opacity="0.104"/>
<rect x="233.00" y="382.34" width="18.00" height="5.72" rx="2.60" fill="#888" opacity="0.104"/>
<rect x="207.00" y="378.00" width="21.00" height="4.40" rx="2.20" fill="#050505" opacity="1"/>
<rect x="233.25" y="378.30" width="17.50" height="3.80" rx="1.90" fill="#101010" opacity="1"/>
<rect x="257.30" y="377.70" width="20.00" height="4.40" rx="2.20" fill="#050505" opacity="1"/>
<rect x="280.20" y="377.40" width="22.00" height="5.00" rx="2.50" fill="#000" opacity="1"/>
<rect x="208.50" y="383.90" width="18.00" height="2.60" rx="1.30" fill="#888" opacity="0.8"/>
<rect x="234.00" y="383.90" width="16.00" height="2.60" rx="1.30" fill="#888" opacity="0.8"/>
</g>
<rect x="205.80" y="371.00" width="101.20" height="19.20" fill="none" stroke="#1a1a1a" stroke-width="1.1"/>
<rect x="205.80" y="398.40" width="101.20" height="19.80" fill="#d2d2d2"/>
<g clip-path="url(#cl205_398)" filter="url(#bandblur)">
<rect x="206.00" y="401.92" width="23.00" height="12.76" rx="5.80" fill="#050505" opacity="0.130"/>
<rect x="230.75" y="401.92" width="22.50" height="12.76" rx="5.80" fill="#050505" opacity="0.130"/>
<rect x="255.80" y="401.68" width="23.00" height="13.64" rx="6.20" fill="#000" opacity="0.130"/>
<rect x="279.20" y="401.48" width="24.00" height="13.64" rx="6.20" fill="#000" opacity="0.130"/>
<rect x="207.00" y="405.40" width="21.00" height="5.80" rx="2.90" fill="#050505" opacity="1"/>
<rect x="231.75" y="405.40" width="20.50" height="5.80" rx="2.90" fill="#050505" opacity="1"/>
<rect x="256.80" y="405.40" width="21.00" height="6.20" rx="3.10" fill="#000" opacity="1"/>
<rect x="280.20" y="405.20" width="22.00" height="6.20" rx="3.10" fill="#000" opacity="1"/>
</g>
<rect x="205.80" y="398.40" width="101.20" height="19.80" fill="none" stroke="#1a1a1a" stroke-width="1.1"/>
<text x="217.50" y="286.50" font-size="6.2" font-weight="normal" font-style="normal" text-anchor="middle" fill="#111" stroke="#111" stroke-width="0.112" >1.00</text>
<text x="242.00" y="286.50" font-size="6.2" font-weight="normal" font-style="normal" text-anchor="middle" fill="#111" stroke="#111" stroke-width="0.112" >0.96</text>
<text x="267.30" y="286.50" font-size="6.2" font-weight="normal" font-style="normal" text-anchor="middle" fill="#111" stroke="#111" stroke-width="0.112" >1.62</text>
<text x="291.20" y="286.50" font-size="6.2" font-weight="normal" font-style="normal" text-anchor="middle" fill="#111" stroke="#111" stroke-width="0.112" >1.45</text>
<text x="217.50" y="316.50" font-size="6.2" font-weight="normal" font-style="normal" text-anchor="middle" fill="#111" stroke="#111" stroke-width="0.112" >1.00</text>
<text x="242.00" y="316.50" font-size="6.2" font-weight="normal" font-style="normal" text-anchor="middle" fill="#111" stroke="#111" stroke-width="0.112" >0.94</text>
<text x="267.30" y="316.50" font-size="6.2" font-weight="normal" font-style="normal" text-anchor="middle" fill="#111" stroke="#111" stroke-width="0.112" >1.61</text>
<text x="291.20" y="316.50" font-size="6.2" font-weight="normal" font-style="normal" text-anchor="middle" fill="#111" stroke="#111" stroke-width="0.112" >1.66</text>
<text x="217.50" y="369.30" font-size="6.2" font-weight="normal" font-style="normal" text-anchor="middle" fill="#111" stroke="#111" stroke-width="0.112" >1.00</text>
<text x="242.00" y="369.30" font-size="6.2" font-weight="normal" font-style="normal" text-anchor="middle" fill="#111" stroke="#111" stroke-width="0.112" >0.83</text>
<text x="267.30" y="369.30" font-size="6.2" font-weight="normal" font-style="normal" text-anchor="middle" fill="#111" stroke="#111" stroke-width="0.112" >0.70</text>
<text x="291.20" y="369.30" font-size="6.2" font-weight="normal" font-style="normal" text-anchor="middle" fill="#111" stroke="#111" stroke-width="0.112" >0.85</text>
<text x="217.50" y="396.70" font-size="6.2" font-weight="normal" font-style="normal" text-anchor="middle" fill="#111" stroke="#111" stroke-width="0.112" >1.00</text>
<text x="242.00" y="396.70" font-size="6.2" font-weight="normal" font-style="normal" text-anchor="middle" fill="#111" stroke="#111" stroke-width="0.112" >0.67</text>
<text x="267.30" y="396.70" font-size="6.2" font-weight="normal" font-style="normal" text-anchor="middle" fill="#111" stroke="#111" stroke-width="0.112" >0.72</text>
<text x="291.20" y="396.70" font-size="6.2" font-weight="normal" font-style="normal" text-anchor="middle" fill="#111" stroke="#111" stroke-width="0.112" >0.91</text>
<text x="203.00" y="274.00" font-size="8.5" font-weight="bold" font-style="normal" text-anchor="end" fill="#000" stroke="#000" stroke-width="0.153" >p-SREBP1</text>
<text x="200.60" y="303.40" font-size="8.55" font-weight="bold" font-style="normal" text-anchor="end" fill="#000" stroke="#000" stroke-width="0.154" >n-SREBP1</text>
<text x="202.40" y="332.30" font-size="9.0" font-weight="bold" font-style="normal" text-anchor="end" fill="#000" stroke="#000" stroke-width="0.162" >β-Tubulin</text>
<text x="202.40" y="340.00" font-size="6.5" font-weight="bold" font-style="normal" text-anchor="end" fill="#000" stroke="#000" stroke-width="0.117" >(SREBP1)</text>
<text x="203.00" y="357.10" font-size="8.5" font-weight="bold" font-style="normal" text-anchor="end" fill="#000" stroke="#000" stroke-width="0.153" >p-SREBP2</text>
<text x="200.20" y="385.60" font-size="8.6" font-weight="bold" font-style="normal" text-anchor="end" fill="#000" stroke="#000" stroke-width="0.155" >n-SREBP2</text>
<text x="198.20" y="411.30" font-size="8.6" font-weight="bold" font-style="normal" text-anchor="end" fill="#000" stroke="#000" stroke-width="0.155" >H3</text>
<text x="198.40" y="417.40" font-size="6.5" font-weight="bold" font-style="normal" text-anchor="end" fill="#000" stroke="#000" stroke-width="0.117" >(SREBP2)</text>
<polyline points="206.00,294.50 203.30,294.50 203.30,303.40 206.00,303.40" fill="none" stroke="#000" stroke-width="2.4" />
<polyline points="206.00,377.00 203.30,377.00 203.30,385.60 206.00,385.60" fill="none" stroke="#000" stroke-width="2.4" />
<line x1="307.60" y1="266.00" x2="314.00" y2="266.00" stroke="#000" stroke-width="2.7" />
<text x="317.20" y="269.60" font-size="9.9" font-weight="bold" font-style="normal" text-anchor="start" fill="#000" stroke="#000" stroke-width="0.178" >140</text>
<line x1="307.60" y1="306.40" x2="314.00" y2="306.40" stroke="#000" stroke-width="2.7" />
<text x="317.20" y="310.00" font-size="9.9" font-weight="bold" font-style="normal" text-anchor="start" fill="#000" stroke="#000" stroke-width="0.178" >70</text>
<line x1="307.60" y1="329.20" x2="314.00" y2="329.20" stroke="#000" stroke-width="2.7" />
<text x="317.20" y="332.80" font-size="9.9" font-weight="bold" font-style="normal" text-anchor="start" fill="#000" stroke="#000" stroke-width="0.178" >120</text>
<line x1="307.60" y1="356.40" x2="314.00" y2="356.40" stroke="#000" stroke-width="2.7" />
<text x="317.20" y="360.00" font-size="9.9" font-weight="bold" font-style="normal" text-anchor="start" fill="#000" stroke="#000" stroke-width="0.178" >140</text>
<line x1="307.60" y1="382.60" x2="314.00" y2="382.60" stroke="#000" stroke-width="2.7" />
<text x="317.20" y="386.20" font-size="9.9" font-weight="bold" font-style="normal" text-anchor="start" fill="#000" stroke="#000" stroke-width="0.178" >70</text>
<line x1="307.60" y1="412.40" x2="314.00" y2="412.40" stroke="#000" stroke-width="2.7" />
<text x="317.20" y="416.00" font-size="9.9" font-weight="bold" font-style="normal" text-anchor="start" fill="#000" stroke="#000" stroke-width="0.178" >15</text>
<text x="351.80" y="250.70" font-size="14.4" font-weight="bold" font-style="normal" text-anchor="start" fill="#000" stroke="#000" stroke-width="0.259" >G</text>
<text x="384.70" y="265.20" font-size="8.7" font-weight="bold" font-style="normal" text-anchor="middle" fill="#000" stroke="#000" stroke-width="0.157" >CON VS. HU</text>
<text x="455.60" y="265.20" font-size="8.7" font-weight="bold" font-style="normal" text-anchor="middle" fill="#000" stroke="#000" stroke-width="0.157" >CTRL VS. SM</text>
<circle cx="401.50" cy="297.50" r="28.7" fill="#ff7070" stroke="none" stroke-width="0" fill-opacity="0.36"/>
<circle cx="440.40" cy="297.50" r="28.7" fill="#ff7070" stroke="none" stroke-width="0" fill-opacity="0.36"/>
<circle cx="421.00" cy="333.00" r="28.7" fill="#ff7070" stroke="none" stroke-width="0" fill-opacity="0.36"/>
<circle cx="401.50" cy="297.50" r="28.7" fill="none" stroke="#777" stroke-width="1.9" stroke-dasharray="5,2.6"/>
<circle cx="440.40" cy="297.50" r="28.7" fill="none" stroke="#777" stroke-width="1.9" stroke-dasharray="5,2.6"/>
<circle cx="421.00" cy="333.00" r="28.7" fill="none" stroke="#777" stroke-width="1.9" stroke-dasharray="5,2.6"/>
<text x="392.60" y="302.50" font-size="9.9" font-weight="normal" font-style="normal" text-anchor="middle" fill="#111" stroke="#111" stroke-width="0.178" >52</text>
<text x="421.00" y="302.90" font-size="9.9" font-weight="normal" font-style="normal" text-anchor="middle" fill="#111" stroke="#111" stroke-width="0.178" >18</text>
<text x="449.60" y="302.50" font-size="9.9" font-weight="normal" font-style="normal" text-anchor="middle" fill="#111" stroke="#111" stroke-width="0.178" >64</text>
<text x="407.20" y="323.30" font-size="9.9" font-weight="normal" font-style="normal" text-anchor="middle" fill="#111" stroke="#111" stroke-width="0.178" >2</text>
<text x="421.00" y="317.50" font-size="9.9" font-weight="normal" font-style="normal" text-anchor="middle" fill="#111" stroke="#111" stroke-width="0.178" >3</text>
<text x="434.80" y="323.30" font-size="9.9" font-weight="normal" font-style="normal" text-anchor="middle" fill="#111" stroke="#111" stroke-width="0.178" >17</text>
<text x="409.00" y="346.60" font-size="9.9" font-weight="normal" font-style="normal" text-anchor="middle" fill="#111" stroke="#111" stroke-width="0.178" >18</text>
<line x1="421.00" y1="324.50" x2="421.00" y2="376.00" stroke="#000" stroke-width="2.0" />
<polygon points="417.20,374.30 424.80,374.30 421.00,382.20" fill="#000" stroke="none" stroke-width="0" />
<text x="457.30" y="365.20" font-size="8.6" font-weight="bold" font-style="normal" text-anchor="middle" fill="#000" stroke="#000" stroke-width="0.155" >DMSO VS.</text>
<text x="457.30" y="374.20" font-size="8.6" font-weight="bold" font-style="normal" text-anchor="middle" fill="#000" stroke="#000" stroke-width="0.155" >LXR-623</text>
<rect x="392.60" y="384.20" width="54.20" height="31.50" fill="#fff" stroke="#1a1a1a" stroke-width="1.3"/>
<rect x="394.00" y="385.40" width="51.40" height="8.10" fill="#ebebeb" />
<text x="419.70" y="392.60" font-size="7.8" font-weight="bold" font-style="normal" text-anchor="middle" fill="#c0141e" stroke="#c0141e" stroke-width="0.140" >SREBP1</text>
<rect x="394.00" y="395.90" width="51.40" height="8.10" fill="#d9d9d9" />
<text x="419.70" y="403.10" font-size="8.4" font-weight="normal" font-style="normal" text-anchor="middle" fill="#1a1a1a" stroke="#1a1a1a" stroke-width="0.151" >ZC3H11A</text>
<rect x="394.00" y="406.40" width="51.40" height="8.10" fill="#e3e3e3" />
<text x="419.70" y="413.60" font-size="8.4" font-weight="normal" font-style="normal" text-anchor="middle" fill="#1a1a1a" stroke="#1a1a1a" stroke-width="0.151" >ZNF354B</text>
<line x1="392.60" y1="394.70" x2="446.80" y2="394.70" stroke="#333" stroke-width="1.0" />
<line x1="392.60" y1="405.20" x2="446.80" y2="405.20" stroke="#333" stroke-width="1.0" />
<text x="496.90" y="251.40" font-size="14.4" font-weight="bold" font-style="normal" text-anchor="start" fill="#000" stroke="#000" stroke-width="0.259" >H</text>
<text x="602.40" y="250.50" font-size="10.0" font-weight="bold" font-style="normal" text-anchor="middle" fill="#000" stroke="#000" stroke-width="0.180" >SREBP1 target genes</text>
<line x1="521.20" y1="305.40" x2="681.30" y2="305.40" stroke="#999" stroke-width="0.5" stroke-dasharray="1,1.2"/>
<path d="M520.70,305.40 C520.78,304.50 521.00,301.65 521.20,300.00 C521.40,298.35 521.65,297.25 521.90,295.50 C522.15,293.75 522.42,291.40 522.70,289.50 C522.98,287.60 523.30,285.52 523.60,284.10 C523.90,282.68 524.17,281.95 524.50,281.00 C524.83,280.05 525.18,279.35 525.60,278.40 C526.02,277.45 526.53,276.25 527.00,275.30 C527.47,274.35 527.90,273.55 528.40,272.70 C528.90,271.85 529.52,270.92 530.00,270.20 C530.48,269.48 530.72,269.05 531.30,268.40 C531.88,267.75 532.80,266.92 533.50,266.30 C534.20,265.68 534.83,265.15 535.50,264.70 C536.17,264.25 536.78,263.88 537.50,263.60 C538.22,263.32 538.88,263.12 539.80,263.00 C540.72,262.88 541.82,262.85 543.00,262.90 C544.18,262.95 544.82,263.08 546.90,263.30 C548.98,263.52 552.65,263.68 555.50,264.20 C558.35,264.72 560.68,265.22 564.00,266.40 C567.32,267.58 571.13,269.20 575.40,271.30 C579.67,273.40 584.85,276.15 589.60,279.00 C594.35,281.85 599.15,285.03 603.90,288.40 C608.65,291.77 613.37,295.65 618.10,299.20 C622.83,302.75 628.03,306.90 632.30,309.70 C636.57,312.50 639.90,314.48 643.70,316.00 C647.50,317.52 653.20,318.33 655.10,318.80" fill="none" stroke="#ff2020" stroke-width="1.5"/>
<polyline points="655.10,318.80 657.50,319.30 660.00,318.60 662.00,318.90 663.60,317.70 665.50,318.50 667.90,318.20 670.00,316.80 672.20,315.40 674.50,314.20 675.50,312.00 677.00,310.00 678.50,308.00 680.00,306.30 681.20,305.40" fill="none" stroke="#ff2020" stroke-width="1.5" stroke-linejoin="round"/>
<rect x="521.20" y="255.30" width="162.40" height="153.70" fill="none" stroke="#666" stroke-width="0.6"/>
<line x1="521.20" y1="327.50" x2="683.60" y2="327.50" stroke="#555" stroke-width="0.6" />
<line x1="521.20" y1="357.30" x2="683.60" y2="357.30" stroke="#555" stroke-width="0.6" />
<line x1="521.20" y1="351.80" x2="683.60" y2="351.80" stroke="#777" stroke-width="0.4" />
<line x1="519.70" y1="265.40" x2="521.20" y2="265.40" stroke="#555" stroke-width="0.5" />
<text transform="translate(518.20,265.40) rotate(-90)" font-size="4.6" font-weight="normal" font-style="normal" text-anchor="middle" fill="#444" stroke="#444" stroke-width="0.083">0.4</text>
<line x1="519.70" y1="285.40" x2="521.20" y2="285.40" stroke="#555" stroke-width="0.5" />
<text transform="translate(518.20,285.40) rotate(-90)" font-size="4.6" font-weight="normal" font-style="normal" text-anchor="middle" fill="#444" stroke="#444" stroke-width="0.083">0.2</text>
<line x1="519.70" y1="305.40" x2="521.20" y2="305.40" stroke="#555" stroke-width="0.5" />
<text transform="translate(518.20,305.40) rotate(-90)" font-size="4.6" font-weight="normal" font-style="normal" text-anchor="middle" fill="#444" stroke="#444" stroke-width="0.083">0.0</text>
<line x1="519.70" y1="325.40" x2="521.20" y2="325.40" stroke="#555" stroke-width="0.5" />
<text transform="translate(518.20,325.40) rotate(-90)" font-size="4.6" font-weight="normal" font-style="normal" text-anchor="middle" fill="#444" stroke="#444" stroke-width="0.083">-0.2</text>
<text transform="translate(511.60,289.50) rotate(-90)" font-size="6.3" font-weight="normal" font-style="normal" text-anchor="middle" fill="#333" stroke="#333" stroke-width="0.113">Enrichment score (ES)</text>
<text x="669.50" y="274.30" font-size="7.9" font-weight="bold" font-style="normal" text-anchor="end" fill="#000" stroke="#000" stroke-width="0.142" >NES = 1.61</text>
<text x="669.5" y="284.3" font-size="7.9" font-weight="bold" text-anchor="end"><tspan font-style="italic">P</tspan> &lt; 0.0001</text>
<rect x="521.20" y="327.50" width="27.80" height="24.30" fill="#0a0a0a" />
<rect x="615.00" y="327.50" width="66.30" height="24.30" fill="#4a4a4a" />
<line x1="529.60" y1="327.50" x2="529.60" y2="351.80" stroke="#999" stroke-width="0.85" />
<line x1="539.20" y1="327.50" x2="539.20" y2="351.80" stroke="#555" stroke-width="0.85" />
<line x1="541.60" y1="327.50" x2="541.60" y2="351.80" stroke="#fff" stroke-width="0.85" />
<line x1="546.40" y1="327.50" x2="546.40" y2="351.80" stroke="#555" stroke-width="0.85" />
<line x1="551.20" y1="327.50" x2="551.20" y2="351.80" stroke="#333" stroke-width="0.85" />
<line x1="552.00" y1="327.50" x2="552.00" y2="351.80" stroke="#777" stroke-width="0.85" />
<line x1="552.80" y1="327.50" x2="552.80" y2="351.80" stroke="#000" stroke-width="0.85" />
<line x1="553.60" y1="327.50" x2="553.60" y2="351.80" stroke="#000" stroke-width="0.85" />
<line x1="554.40" y1="327.50" x2="554.40" y2="351.80" stroke="#333" stroke-width="0.85" />
<line x1="555.20" y1="327.50" x2="555.20" y2="351.80" stroke="#000" stroke-width="0.85" />
<line x1="556.80" y1="327.50" x2="556.80" y2="351.80" stroke="#111" stroke-width="0.85" />
<line x1="558.40" y1="327.50" x2="558.40" y2="351.80" stroke="#555" stroke-width="0.85" />
<line x1="560.00" y1="327.50" x2="560.00" y2="351.80" stroke="#000" stroke-width="0.85" />
<line x1="560.80" y1="327.50" x2="560.80" y2="351.80" stroke="#111" stroke-width="0.85" />
<line x1="561.60" y1="327.50" x2="561.60" y2="351.80" stroke="#333" stroke-width="0.85" />
<line x1="562.40" y1="327.50" x2="562.40" y2="351.80" stroke="#333" stroke-width="0.85" />
<line x1="563.20" y1="327.50" x2="563.20" y2="351.80" stroke="#555" stroke-width="0.85" />
<line x1="564.00" y1="327.50" x2="564.00" y2="351.80" stroke="#000" stroke-width="0.85" />
<line x1="564.80" y1="327.50" x2="564.80" y2="351.80" stroke="#aaa" stroke-width="0.85" />
<line x1="565.60" y1="327.50" x2="565.60" y2="351.80" stroke="#000" stroke-width="0.85" />
<line x1="566.40" y1="327.50" x2="566.40" y2="351.80" stroke="#555" stroke-width="0.85" />
<line x1="567.20" y1="327.50" x2="567.20" y2="351.80" stroke="#777" stroke-width="0.85" />
<line x1="568.00" y1="327.50" x2="568.00" y2="351.80" stroke="#777" stroke-width="0.85" />
<line x1="568.80" y1="327.50" x2="568.80" y2="351.80" stroke="#aaa" stroke-width="0.85" />
<line x1="569.60" y1="327.50" x2="569.60" y2="351.80" stroke="#555" stroke-width="0.85" />
<line x1="570.40" y1="327.50" x2="570.40" y2="351.80" stroke="#000" stroke-width="0.85" />
<line x1="571.20" y1="327.50" x2="571.20" y2="351.80" stroke="#111" stroke-width="0.85" />
<line x1="572.00" y1="327.50" x2="572.00" y2="351.80" stroke="#777" stroke-width="0.85" />
<line x1="572.80" y1="327.50" x2="572.80" y2="351.80" stroke="#000" stroke-width="0.85" />
<line x1="573.60" y1="327.50" x2="573.60" y2="351.80" stroke="#555" stroke-width="0.85" />
<line x1="576.80" y1="327.50" x2="576.80" y2="351.80" stroke="#000" stroke-width="0.85" />
<line x1="581.60" y1="327.50" x2="581.60" y2="351.80" stroke="#000" stroke-width="0.85" />
<line x1="584.00" y1="327.50" x2="584.00" y2="351.80" stroke="#222" stroke-width="0.85" />
<line x1="589.60" y1="327.50" x2="589.60" y2="351.80" stroke="#000" stroke-width="0.85" />
<line x1="593.60" y1="327.50" x2="593.60" y2="351.80" stroke="#666" stroke-width="0.85" />
<line x1="595.20" y1="327.50" x2="595.20" y2="351.80" stroke="#222" stroke-width="0.85" />
<line x1="598.40" y1="327.50" x2="598.40" y2="351.80" stroke="#000" stroke-width="0.85" />
<line x1="615.20" y1="327.50" x2="615.20" y2="351.80" stroke="#000" stroke-width="0.85" />
<line x1="616.00" y1="327.50" x2="616.00" y2="351.80" stroke="#111" stroke-width="0.85" />
<line x1="616.80" y1="327.50" x2="616.80" y2="351.80" stroke="#000" stroke-width="0.85" />
<line x1="617.60" y1="327.50" x2="617.60" y2="351.80" stroke="#000" stroke-width="0.85" />
<line x1="620.00" y1="327.50" x2="620.00" y2="351.80" stroke="#999" stroke-width="0.85" />
<line x1="620.80" y1="327.50" x2="620.80" y2="351.80" stroke="#000" stroke-width="0.85" />
<line x1="621.60" y1="327.50" x2="621.60" y2="351.80" stroke="#000" stroke-width="0.85" />
<line x1="622.40" y1="327.50" x2="622.40" y2="351.80" stroke="#111" stroke-width="0.85" />
<line x1="624.80" y1="327.50" x2="624.80" y2="351.80" stroke="#999" stroke-width="0.85" />
<line x1="625.60" y1="327.50" x2="625.60" y2="351.80" stroke="#000" stroke-width="0.85" />
<line x1="627.20" y1="327.50" x2="627.20" y2="351.80" stroke="#000" stroke-width="0.85" />
<line x1="628.00" y1="327.50" x2="628.00" y2="351.80" stroke="#777" stroke-width="0.85" />
<line x1="628.80" y1="327.50" x2="628.80" y2="351.80" stroke="#000" stroke-width="0.85" />
<line x1="633.60" y1="327.50" x2="633.60" y2="351.80" stroke="#999" stroke-width="0.85" />
<line x1="634.40" y1="327.50" x2="634.40" y2="351.80" stroke="#000" stroke-width="0.85" />
<line x1="636.00" y1="327.50" x2="636.00" y2="351.80" stroke="#fff" stroke-width="0.85" />
<line x1="636.80" y1="327.50" x2="636.80" y2="351.80" stroke="#222" stroke-width="0.85" />
<line x1="637.60" y1="327.50" x2="637.60" y2="351.80" stroke="#777" stroke-width="0.85" />
<line x1="638.40" y1="327.50" x2="638.40" y2="351.80" stroke="#222" stroke-width="0.85" />
<line x1="639.20" y1="327.50" x2="639.20" y2="351.80" stroke="#777" stroke-width="0.85" />
<line x1="640.00" y1="327.50" x2="640.00" y2="351.80" stroke="#000" stroke-width="0.85" />
<line x1="640.80" y1="327.50" x2="640.80" y2="351.80" stroke="#111" stroke-width="0.85" />
<line x1="643.20" y1="327.50" x2="643.20" y2="351.80" stroke="#999" stroke-width="0.85" />
<line x1="644.00" y1="327.50" x2="644.00" y2="351.80" stroke="#222" stroke-width="0.85" />
<line x1="644.80" y1="327.50" x2="644.80" y2="351.80" stroke="#fff" stroke-width="0.85" />
<line x1="645.60" y1="327.50" x2="645.60" y2="351.80" stroke="#777" stroke-width="0.85" />
<line x1="647.20" y1="327.50" x2="647.20" y2="351.80" stroke="#777" stroke-width="0.85" />
<line x1="648.00" y1="327.50" x2="648.00" y2="351.80" stroke="#000" stroke-width="0.85" />
<line x1="648.80" y1="327.50" x2="648.80" y2="351.80" stroke="#999" stroke-width="0.85" />
<line x1="649.60" y1="327.50" x2="649.60" y2="351.80" stroke="#fff" stroke-width="0.85" />
<line x1="650.40" y1="327.50" x2="650.40" y2="351.80" stroke="#222" stroke-width="0.85" />
<line x1="651.20" y1="327.50" x2="651.20" y2="351.80" stroke="#000" stroke-width="0.85" />
<line x1="652.00" y1="327.50" x2="652.00" y2="351.80" stroke="#000" stroke-width="0.85" />
<line x1="652.80" y1="327.50" x2="652.80" y2="351.80" stroke="#000" stroke-width="0.85" />
<line x1="653.60" y1="327.50" x2="653.60" y2="351.80" stroke="#fff" stroke-width="0.85" />
<line x1="655.20" y1="327.50" x2="655.20" y2="351.80" stroke="#222" stroke-width="0.85" />
<line x1="656.00" y1="327.50" x2="656.00" y2="351.80" stroke="#000" stroke-width="0.85" />
<line x1="656.80" y1="327.50" x2="656.80" y2="351.80" stroke="#999" stroke-width="0.85" />
<line x1="657.60" y1="327.50" x2="657.60" y2="351.80" stroke="#999" stroke-width="0.85" />
<line x1="658.40" y1="327.50" x2="658.40" y2="351.80" stroke="#fff" stroke-width="0.85" />
<line x1="660.00" y1="327.50" x2="660.00" y2="351.80" stroke="#000" stroke-width="0.85" />
<line x1="660.80" y1="327.50" x2="660.80" y2="351.80" stroke="#777" stroke-width="0.85" />
<line x1="662.40" y1="327.50" x2="662.40" y2="351.80" stroke="#000" stroke-width="0.85" />
<line x1="663.20" y1="327.50" x2="663.20" y2="351.80" stroke="#fff" stroke-width="0.85" />
<line x1="664.80" y1="327.50" x2="664.80" y2="351.80" stroke="#000" stroke-width="0.85" />
<line x1="666.40" y1="327.50" x2="666.40" y2="351.80" stroke="#000" stroke-width="0.85" />
<line x1="667.20" y1="327.50" x2="667.20" y2="351.80" stroke="#222" stroke-width="0.85" />
<line x1="668.00" y1="327.50" x2="668.00" y2="351.80" stroke="#000" stroke-width="0.85" />
<line x1="669.60" y1="327.50" x2="669.60" y2="351.80" stroke="#777" stroke-width="0.85" />
<line x1="670.40" y1="327.50" x2="670.40" y2="351.80" stroke="#111" stroke-width="0.85" />
<line x1="672.80" y1="327.50" x2="672.80" y2="351.80" stroke="#111" stroke-width="0.85" />
<line x1="673.60" y1="327.50" x2="673.60" y2="351.80" stroke="#000" stroke-width="0.85" />
<line x1="674.40" y1="327.50" x2="674.40" y2="351.80" stroke="#777" stroke-width="0.85" />
<line x1="675.20" y1="327.50" x2="675.20" y2="351.80" stroke="#999" stroke-width="0.85" />
<line x1="676.00" y1="327.50" x2="676.00" y2="351.80" stroke="#111" stroke-width="0.85" />
<line x1="676.80" y1="327.50" x2="676.80" y2="351.80" stroke="#fff" stroke-width="0.85" />
<line x1="677.60" y1="327.50" x2="677.60" y2="351.80" stroke="#999" stroke-width="0.85" />
<line x1="678.40" y1="327.50" x2="678.40" y2="351.80" stroke="#222" stroke-width="0.85" />
<line x1="679.20" y1="327.50" x2="679.20" y2="351.80" stroke="#fff" stroke-width="0.85" />
<line x1="680.80" y1="327.50" x2="680.80" y2="351.80" stroke="#000" stroke-width="0.85" />
<rect x="521.20" y="351.80" width="160.10" height="5.50" fill="url(#gH)" />
<path d="M521.2,383.2 L521.2,363.5 L521.5,366.5 L523.0,369.5 L526.0,372.5 L530.0,375.2 L536.0,377.8 L543.0,380.0 L550.0,381.6 L556.0,382.6 L562.0,383.1 Z" fill="#dedede"/>
<path d="M614,383.2 L614.0,383.2 L628.0,383.9 L640.0,384.9 L650.0,386.3 L658.0,388.3 L665.0,391.0 L670.0,394.0 L674.5,397.5 L677.5,401.5 L679.5,405.0 L680.8,407.5 L680.8,383.2 Z" fill="#dcdcdc"/>
<line x1="568.60" y1="357.30" x2="568.60" y2="409.00" stroke="#999" stroke-width="0.5" stroke-dasharray="1,1"/>
<text x="555.00" y="381.40" font-size="5.95" font-weight="normal" font-style="normal" text-anchor="start" fill="#333" stroke="#333" stroke-width="0.107" >Zero cross at 6464</text>
<line x1="519.70" y1="361.30" x2="521.20" y2="361.30" stroke="#555" stroke-width="0.5" />
<text transform="translate(518.20,361.30) rotate(-90)" font-size="5.2" font-weight="normal" font-style="normal" text-anchor="middle" fill="#444" stroke="#444" stroke-width="0.094">4</text>
<line x1="519.70" y1="372.00" x2="521.20" y2="372.00" stroke="#555" stroke-width="0.5" />
<text transform="translate(518.20,372.00) rotate(-90)" font-size="5.2" font-weight="normal" font-style="normal" text-anchor="middle" fill="#444" stroke="#444" stroke-width="0.094">2</text>
<line x1="519.70" y1="383.20" x2="521.20" y2="383.20" stroke="#555" stroke-width="0.5" />
<text transform="translate(518.20,383.20) rotate(-90)" font-size="5.2" font-weight="normal" font-style="normal" text-anchor="middle" fill="#444" stroke="#444" stroke-width="0.094">0</text>
<line x1="519.70" y1="394.60" x2="521.20" y2="394.60" stroke="#555" stroke-width="0.5" />
<text transform="translate(518.20,394.60) rotate(-90)" font-size="5.2" font-weight="normal" font-style="normal" text-anchor="middle" fill="#444" stroke="#444" stroke-width="0.094">-2</text>
<line x1="519.70" y1="405.40" x2="521.20" y2="405.40" stroke="#555" stroke-width="0.5" />
<text transform="translate(518.20,405.40) rotate(-90)" font-size="5.2" font-weight="normal" font-style="normal" text-anchor="middle" fill="#444" stroke="#444" stroke-width="0.094">-4</text>
<text transform="translate(511.40,383.60) rotate(-90)" font-size="6.1" font-weight="normal" font-style="normal" text-anchor="middle" fill="#333" stroke="#333" stroke-width="0.110">SCORE</text>
<text x="525.60" y="404.90" font-size="10.1" font-weight="bold" font-style="normal" text-anchor="start" fill="#000" stroke="#000" stroke-width="0.182" >LXR-623</text>
<text x="641.60" y="406.60" font-size="10.2" font-weight="bold" font-style="normal" text-anchor="start" fill="#000" stroke="#000" stroke-width="0.184" >DMSO</text>
<line x1="558.40" y1="409.00" x2="558.40" y2="410.50" stroke="#555" stroke-width="0.5" />
<text x="558.40" y="416.40" font-size="4.9" font-weight="normal" font-style="normal" text-anchor="middle" fill="#444" stroke="#444" stroke-width="0.088" >5000</text>
<line x1="595.30" y1="409.00" x2="595.30" y2="410.50" stroke="#555" stroke-width="0.5" />
<text x="595.30" y="416.40" font-size="4.9" font-weight="normal" font-style="normal" text-anchor="middle" fill="#444" stroke="#444" stroke-width="0.088" >10000</text>
<line x1="631.50" y1="409.00" x2="631.50" y2="410.50" stroke="#555" stroke-width="0.5" />
<text x="631.50" y="416.40" font-size="4.9" font-weight="normal" font-style="normal" text-anchor="middle" fill="#444" stroke="#444" stroke-width="0.088" >15000</text>
<line x1="667.00" y1="409.00" x2="667.00" y2="410.50" stroke="#555" stroke-width="0.5" />
<text x="667.00" y="416.40" font-size="4.9" font-weight="normal" font-style="normal" text-anchor="middle" fill="#444" stroke="#444" stroke-width="0.088" >20000</text>
<text x="603.00" y="423.20" font-size="6.0" font-weight="normal" font-style="normal" text-anchor="middle" fill="#333" stroke="#333" stroke-width="0.108" >Rank in ordered gene list</text>
<text x="10.90" y="440.80" font-size="14.4" font-weight="bold" font-style="normal" text-anchor="start" fill="#000" stroke="#000" stroke-width="0.259" >I</text>
<path d="M26,438.8 H258 Q263.2,438.8 263.2,444 V552.2 Q263.2,557.4 258,557.4 H149 Q144.0,557.4 144.0,562.4 V674 Q144.0,679.2 138.8,679.2 H26 Q20.8,679.2 20.8,674 V444 Q20.8,438.8 26,438.8 Z" fill="#f9cfb4"/>
<path d="M271,438.8 H383 Q388.2,438.8 388.2,444 V674 Q388.2,679.2 383,679.2 H151.7 Q146.5,679.2 146.5,674 V565.2 Q146.5,560.0 151.7,560.0 H260.4 Q265.6,560.0 265.6,554.8 V444 Q265.6,438.8 271,438.8 Z" fill="#fdd5d7"/>
<text x="24.00" y="454.60" font-size="11.5" font-weight="bold" font-style="normal" text-anchor="start" fill="#000" stroke="#000" stroke-width="0.207" >Cholesterol synthesis</text>
<text x="272.50" y="454.00" font-size="11.5" font-weight="bold" font-style="normal" text-anchor="start" fill="#000" stroke="#000" stroke-width="0.207" >Fatty acid synthesis</text>
<text x="80.20" y="466.60" font-size="8.5" font-weight="bold" font-style="italic" text-anchor="middle"><tspan fill="#c4001a" stroke="#c4001a" stroke-width="0.15">Hmgcs1</tspan><tspan fill="#1f3382" stroke="#1f3382" stroke-width="0.15"> (-0.6)</tspan></text>
<text x="80.20" y="483.00" font-size="8.5" font-weight="bold" font-style="italic" text-anchor="middle"><tspan fill="#c4001a" stroke="#c4001a" stroke-width="0.15">Hmgcr</tspan><tspan fill="#1f3382" stroke="#1f3382" stroke-width="0.15"> (0.03)</tspan></text>
<text x="80.20" y="502.70" font-size="8.5" font-weight="bold" font-style="italic" text-anchor="middle"><tspan fill="#c4001a" stroke="#c4001a" stroke-width="0.15">Mvk</tspan><tspan fill="#1f3382" stroke="#1f3382" stroke-width="0.15"> (-0.58)</tspan></text>
<text x="80.20" y="520.70" font-size="8.5" font-weight="bold" font-style="italic" text-anchor="middle"><tspan fill="#c4001a" stroke="#c4001a" stroke-width="0.15">Pmvk</tspan><tspan fill="#1f3382" stroke="#1f3382" stroke-width="0.15"> (-1.03)</tspan></text>
<text x="80.20" y="537.80" font-size="8.5" font-weight="bold" font-style="italic" text-anchor="middle"><tspan fill="#c4001a" stroke="#c4001a" stroke-width="0.15">Mvd</tspan><tspan fill="#1f3382" stroke="#1f3382" stroke-width="0.15"> (-0.22)</tspan></text>
<text x="80.20" y="556.20" font-size="8.5" font-weight="bold" font-style="italic" text-anchor="middle"><tspan fill="#c4001a" stroke="#c4001a" stroke-width="0.15">Idi1</tspan><tspan fill="#1f3382" stroke="#1f3382" stroke-width="0.15"> (-0.88)</tspan></text>
<text x="80.20" y="574.40" font-size="8.5" font-weight="bold" font-style="italic" text-anchor="middle"><tspan fill="#c4001a" stroke="#c4001a" stroke-width="0.15">Fdps</tspan><tspan fill="#1f3382" stroke="#1f3382" stroke-width="0.15"> (0.08)</tspan></text>
<text x="80.20" y="593.20" font-size="8.5" font-weight="bold" font-style="italic" text-anchor="middle"><tspan fill="#c4001a" stroke="#c4001a" stroke-width="0.15">Fdft1</tspan><tspan fill="#1f3382" stroke="#1f3382" stroke-width="0.15"> (0.03)</tspan></text>
<text x="80.20" y="611.80" font-size="8.5" font-weight="bold" font-style="italic" text-anchor="middle"><tspan fill="#c4001a" stroke="#c4001a" stroke-width="0.15">Sqle</tspan><tspan fill="#1f3382" stroke="#1f3382" stroke-width="0.15"> (-0.01)</tspan></text>
<text x="80.20" y="628.70" font-size="8.5" font-weight="bold" font-style="italic" text-anchor="middle"><tspan fill="#c4001a" stroke="#c4001a" stroke-width="0.15">Lss</tspan><tspan fill="#1f3382" stroke="#1f3382" stroke-width="0.15"> (-0.38)</tspan></text>
<text x="80.20" y="647.30" font-size="8.5" font-weight="bold" font-style="italic" text-anchor="middle"><tspan fill="#c4001a" stroke="#c4001a" stroke-width="0.15">Dhcr7</tspan><tspan fill="#1f3382" stroke="#1f3382" stroke-width="0.15"> (-0.48)</tspan></text>
<text x="80.20" y="656.00" font-size="8.5" font-weight="bold" font-style="italic" text-anchor="middle"><tspan fill="#c4001a" stroke="#c4001a" stroke-width="0.15">Dhcr24</tspan><tspan fill="#1f3382" stroke="#1f3382" stroke-width="0.15"> (0.52)</tspan></text>
<text x="80.20" y="673.10" font-size="8.5" font-weight="bold" font-style="italic" text-anchor="middle"><tspan fill="#c4001a" stroke="#c4001a" stroke-width="0.15">Acat2</tspan><tspan fill="#1f3382" stroke="#1f3382" stroke-width="0.15"> (-0.55)</tspan></text>
<line x1="81.20" y1="468.80" x2="81.20" y2="471.30" stroke="#000" stroke-width="1.5" />
<polygon points="78.60,471.00 83.80,471.00 81.20,476.00" fill="#000" stroke="none" stroke-width="0" />
<line x1="81.20" y1="485.20" x2="81.20" y2="491.00" stroke="#000" stroke-width="1.5" />
<polygon points="78.60,490.70 83.80,490.70 81.20,495.70" fill="#000" stroke="none" stroke-width="0" />
<line x1="81.20" y1="504.90" x2="81.20" y2="509.00" stroke="#000" stroke-width="1.5" />
<polygon points="78.60,508.70 83.80,508.70 81.20,513.70" fill="#000" stroke="none" stroke-width="0" />
<line x1="81.20" y1="522.90" x2="81.20" y2="526.10" stroke="#000" stroke-width="1.5" />
<polygon points="78.60,525.80 83.80,525.80 81.20,530.80" fill="#000" stroke="none" stroke-width="0" />
<line x1="81.20" y1="540.00" x2="81.20" y2="544.50" stroke="#000" stroke-width="1.5" />
<polygon points="78.60,544.20 83.80,544.20 81.20,549.20" fill="#000" stroke="none" stroke-width="0" />
<line x1="81.20" y1="558.40" x2="81.20" y2="562.70" stroke="#000" stroke-width="1.5" />
<polygon points="78.60,562.40 83.80,562.40 81.20,567.40" fill="#000" stroke="none" stroke-width="0" />
<line x1="81.20" y1="576.60" x2="81.20" y2="581.50" stroke="#000" stroke-width="1.5" />
<polygon points="78.60,581.20 83.80,581.20 81.20,586.20" fill="#000" stroke="none" stroke-width="0" />
<line x1="81.20" y1="595.40" x2="81.20" y2="600.10" stroke="#000" stroke-width="1.5" />
<polygon points="78.60,599.80 83.80,599.80 81.20,604.80" fill="#000" stroke="none" stroke-width="0" />
<line x1="81.20" y1="614.00" x2="81.20" y2="617.00" stroke="#000" stroke-width="1.5" />
<polygon points="78.60,616.70 83.80,616.70 81.20,621.70" fill="#000" stroke="none" stroke-width="0" />
<line x1="81.20" y1="630.90" x2="81.20" y2="635.60" stroke="#000" stroke-width="1.5" />
<polygon points="78.60,635.30 83.80,635.30 81.20,640.30" fill="#000" stroke="none" stroke-width="0" />
<line x1="81.20" y1="658.20" x2="81.20" y2="661.40" stroke="#000" stroke-width="1.5" />
<polygon points="78.60,661.10 83.80,661.10 81.20,666.10" fill="#000" stroke="none" stroke-width="0" />
<text x="334.80" y="467.30" font-size="8.5" font-weight="bold" font-style="italic" text-anchor="middle"><tspan fill="#c4001a" stroke="#c4001a" stroke-width="0.15">Acly</tspan><tspan fill="#1f3382" stroke="#1f3382" stroke-width="0.15"> (0.1)</tspan></text>
<text x="334.80" y="499.80" font-size="8.5" font-weight="bold" font-style="italic" text-anchor="middle"><tspan fill="#c4001a" stroke="#c4001a" stroke-width="0.15">Acaca</tspan><tspan fill="#1f3382" stroke="#1f3382" stroke-width="0.15"> (2.16)</tspan></text>
<text x="334.80" y="530.60" font-size="8.5" font-weight="bold" font-style="italic" text-anchor="middle"><tspan fill="#c4001a" stroke="#c4001a" stroke-width="0.15">Fasn</tspan><tspan fill="#1f3382" stroke="#1f3382" stroke-width="0.15"> (1.67)</tspan></text>
<text x="334.80" y="560.30" font-size="8.5" font-weight="bold" font-style="italic" text-anchor="middle"><tspan fill="#c4001a" stroke="#c4001a" stroke-width="0.15">Scd1</tspan><tspan fill="#1f3382" stroke="#1f3382" stroke-width="0.15"> (0.56)</tspan></text>
<text x="334.80" y="569.60" font-size="8.5" font-weight="bold" font-style="italic" text-anchor="middle"><tspan fill="#c4001a" stroke="#c4001a" stroke-width="0.15">Scd2</tspan><tspan fill="#1f3382" stroke="#1f3382" stroke-width="0.15"> (1.16)</tspan></text>
<text x="334.80" y="593.40" font-size="8.5" font-weight="bold" font-style="italic" text-anchor="middle"><tspan fill="#c4001a" stroke="#c4001a" stroke-width="0.15">Elovl1</tspan><tspan fill="#1f3382" stroke="#1f3382" stroke-width="0.15"> (0.42)</tspan></text>
<text x="334.80" y="601.90" font-size="8.5" font-weight="bold" font-style="italic" text-anchor="middle"><tspan fill="#c4001a" stroke="#c4001a" stroke-width="0.15">Elovl6</tspan><tspan fill="#1f3382" stroke="#1f3382" stroke-width="0.15"> (0.54)</tspan></text>
<text x="334.80" y="610.90" font-size="8.5" font-weight="bold" font-style="italic" text-anchor="middle"><tspan fill="#c4001a" stroke="#c4001a" stroke-width="0.15">Elovl7</tspan><tspan fill="#1f3382" stroke="#1f3382" stroke-width="0.15"> (-0.12)</tspan></text>
<text x="334.80" y="638.50" font-size="8.5" font-weight="bold" font-style="italic" text-anchor="middle"><tspan fill="#c4001a" stroke="#c4001a" stroke-width="0.15">Plpp1</tspan><tspan fill="#1f3382" stroke="#1f3382" stroke-width="0.15"> (0.16)</tspan></text>
<text x="334.80" y="648.40" font-size="8.5" font-weight="bold" font-style="italic" text-anchor="middle"><tspan fill="#c4001a" stroke="#c4001a" stroke-width="0.15">Plpp2</tspan><tspan fill="#1f3382" stroke="#1f3382" stroke-width="0.15"> (0.68)</tspan></text>
<text x="334.80" y="673.60" font-size="8.5" font-weight="bold" font-style="italic" text-anchor="middle"><tspan fill="#c4001a" stroke="#c4001a" stroke-width="0.15">Dgat2</tspan><tspan fill="#1f3382" stroke="#1f3382" stroke-width="0.15"> (0.58)</tspan></text>
<line x1="334.80" y1="474.00" x2="334.80" y2="485.60" stroke="#000" stroke-width="1.6" />
<polygon points="332.10,485.30 337.50,485.30 334.80,490.50" fill="#000" stroke="none" stroke-width="0" />
<line x1="334.80" y1="505.00" x2="334.80" y2="516.60" stroke="#000" stroke-width="1.6" />
<polygon points="332.10,516.30 337.50,516.30 334.80,521.50" fill="#000" stroke="none" stroke-width="0" />
<line x1="334.80" y1="535.50" x2="334.80" y2="547.10" stroke="#000" stroke-width="1.6" />
<polygon points="332.10,546.80 337.50,546.80 334.80,552.00" fill="#000" stroke="none" stroke-width="0" />
<line x1="334.80" y1="576.60" x2="334.80" y2="578.30" stroke="#000" stroke-width="1.6" />
<polygon points="332.10,578.00 337.50,578.00 334.80,583.20" fill="#000" stroke="none" stroke-width="0" />
<line x1="334.80" y1="613.00" x2="334.80" y2="624.10" stroke="#000" stroke-width="1.6" />
<polygon points="332.10,623.80 337.50,623.80 334.80,629.00" fill="#000" stroke="none" stroke-width="0" />
<line x1="334.80" y1="651.60" x2="334.80" y2="659.60" stroke="#000" stroke-width="1.6" />
<polygon points="332.10,659.30 337.50,659.30 334.80,664.50" fill="#000" stroke="none" stroke-width="0" />
<text x="384" y="691.6" font-size="8.3" font-style="italic" text-anchor="end"><tspan fill="#c4001a" stroke="#c4001a">Gene</tspan><tspan fill="#222" stroke="#222"> (Log2FC </tspan><tspan fill="#1f3382" stroke="#1f3382">DMSO vs. LXR-623</tspan><tspan fill="#222" stroke="#222">)</tspan></text>
<rect x="174.00" y="452.00" width="6.09" height="8.17" fill="#c0142a" />
<rect x="179.84" y="452.00" width="6.09" height="8.17" fill="#fdd08a" />
<rect x="185.68" y="452.00" width="6.09" height="8.17" fill="#fdd08a" />
<rect x="191.52" y="452.00" width="6.09" height="8.17" fill="#c8e4f0" />
<rect x="197.36" y="452.00" width="6.09" height="8.17" fill="#8cc0de" />
<rect x="203.20" y="452.00" width="6.09" height="8.17" fill="#a4d0e8" />
<rect x="174.00" y="459.92" width="6.09" height="8.17" fill="#c0142a" />
<rect x="179.84" y="459.92" width="6.09" height="8.17" fill="#b4d8ec" />
<rect x="185.68" y="459.92" width="6.09" height="8.17" fill="#6aa4d0" />
<rect x="191.52" y="459.92" width="6.09" height="8.17" fill="#f48a50" />
<rect x="197.36" y="459.92" width="6.09" height="8.17" fill="#fcf8c0" />
<rect x="203.20" y="459.92" width="6.09" height="8.17" fill="#e0f0f4" />
<rect x="174.00" y="467.84" width="6.09" height="8.17" fill="#d83030" />
<rect x="179.84" y="467.84" width="6.09" height="8.17" fill="#e85038" />
<rect x="185.68" y="467.84" width="6.09" height="8.17" fill="#fde8a0" />
<rect x="191.52" y="467.84" width="6.09" height="8.17" fill="#a8d0e8" />
<rect x="197.36" y="467.84" width="6.09" height="8.17" fill="#b8dcec" />
<rect x="203.20" y="467.84" width="6.09" height="8.17" fill="#98c8e0" />
<rect x="174.00" y="475.76" width="6.09" height="8.17" fill="#d83030" />
<rect x="179.84" y="475.76" width="6.09" height="8.17" fill="#f07848" />
<rect x="185.68" y="475.76" width="6.09" height="8.17" fill="#fcb870" />
<rect x="191.52" y="475.76" width="6.09" height="8.17" fill="#a8d0e8" />
<rect x="197.36" y="475.76" width="6.09" height="8.17" fill="#8cc0de" />
<rect x="203.20" y="475.76" width="6.09" height="8.17" fill="#a8d0e8" />
<rect x="174.00" y="483.68" width="6.09" height="8.17" fill="#c81830" />
<rect x="179.84" y="483.68" width="6.09" height="8.17" fill="#c0e0ee" />
<rect x="185.68" y="483.68" width="6.09" height="8.17" fill="#fcb870" />
<rect x="191.52" y="483.68" width="6.09" height="8.17" fill="#78b0d8" />
<rect x="197.36" y="483.68" width="6.09" height="8.17" fill="#fcc078" />
<rect x="203.20" y="483.68" width="6.09" height="8.17" fill="#a8d4e8" />
<rect x="174.00" y="491.60" width="6.09" height="8.17" fill="#b8102a" />
<rect x="179.84" y="491.60" width="6.09" height="8.17" fill="#e8f4e8" />
<rect x="185.68" y="491.60" width="6.09" height="8.17" fill="#fca868" />
<rect x="191.52" y="491.60" width="6.09" height="8.17" fill="#b0d8ec" />
<rect x="197.36" y="491.60" width="6.09" height="8.17" fill="#c0e0ee" />
<rect x="203.20" y="491.60" width="6.09" height="8.17" fill="#a8d4e8" />
<rect x="174.00" y="499.52" width="6.09" height="8.17" fill="#f06840" />
<rect x="179.84" y="499.52" width="6.09" height="8.17" fill="#fde8a0" />
<rect x="185.68" y="499.52" width="6.09" height="8.17" fill="#3848a0" />
<rect x="191.52" y="499.52" width="6.09" height="8.17" fill="#fcd08c" />
<rect x="197.36" y="499.52" width="6.09" height="8.17" fill="#fcf8c0" />
<rect x="203.20" y="499.52" width="6.09" height="8.17" fill="#fcd08c" />
<rect x="174.00" y="507.44" width="6.09" height="8.17" fill="#c81830" />
<rect x="179.84" y="507.44" width="6.09" height="8.17" fill="#b4d8ec" />
<rect x="185.68" y="507.44" width="6.09" height="8.17" fill="#70a8d4" />
<rect x="191.52" y="507.44" width="6.09" height="8.17" fill="#fcb070" />
<rect x="197.36" y="507.44" width="6.09" height="8.17" fill="#fcf8c0" />
<rect x="203.20" y="507.44" width="6.09" height="8.17" fill="#fcf0b0" />
<rect x="174.00" y="515.36" width="6.09" height="8.17" fill="#c81830" />
<rect x="179.84" y="515.36" width="6.09" height="8.17" fill="#c8e4f0" />
<rect x="185.68" y="515.36" width="6.09" height="8.17" fill="#88bcdc" />
<rect x="191.52" y="515.36" width="6.09" height="8.17" fill="#fcecb0" />
<rect x="197.36" y="515.36" width="6.09" height="8.17" fill="#98c8e0" />
<rect x="203.20" y="515.36" width="6.09" height="8.17" fill="#fca860" />
<rect x="174.00" y="523.28" width="6.09" height="8.17" fill="#c81830" />
<rect x="179.84" y="523.28" width="6.09" height="8.17" fill="#f07848" />
<rect x="185.68" y="523.28" width="6.09" height="8.17" fill="#d8ecf4" />
<rect x="191.52" y="523.28" width="6.09" height="8.17" fill="#a8d4e8" />
<rect x="197.36" y="523.28" width="6.09" height="8.17" fill="#c0e0ee" />
<rect x="203.20" y="523.28" width="6.09" height="8.17" fill="#c0e0ee" />
<rect x="174.00" y="531.20" width="6.09" height="8.17" fill="#f07848" />
<rect x="179.84" y="531.20" width="6.09" height="8.17" fill="#c0142a" />
<rect x="185.68" y="531.20" width="6.09" height="8.17" fill="#e0f0f4" />
<rect x="191.52" y="531.20" width="6.09" height="8.17" fill="#c8e4f0" />
<rect x="197.36" y="531.20" width="6.09" height="8.17" fill="#e8f4e8" />
<rect x="203.20" y="531.20" width="6.09" height="8.17" fill="#70acd4" />
<rect x="174.00" y="539.12" width="6.09" height="8.17" fill="#d8ecf4" />
<rect x="179.84" y="539.12" width="6.09" height="8.17" fill="#c0e0ee" />
<rect x="185.68" y="539.12" width="6.09" height="8.17" fill="#4a78b8" />
<rect x="191.52" y="539.12" width="6.09" height="8.17" fill="#d02030" />
<rect x="197.36" y="539.12" width="6.09" height="8.17" fill="#fcb070" />
<rect x="203.20" y="539.12" width="6.09" height="8.17" fill="#fcc078" />
<rect x="174.00" y="547.04" width="6.09" height="8.17" fill="#c0142a" />
<rect x="179.84" y="547.04" width="6.09" height="8.17" fill="#fca860" />
<rect x="185.68" y="547.04" width="6.09" height="8.17" fill="#fcf0b0" />
<rect x="191.52" y="547.04" width="6.09" height="8.17" fill="#e8f4e8" />
<rect x="197.36" y="547.04" width="6.09" height="8.17" fill="#80b8dc" />
<rect x="203.20" y="547.04" width="6.09" height="8.17" fill="#98c8e0" />
<text x="219.50" y="457.86" font-size="5.4" font-weight="normal" font-style="italic" text-anchor="middle" fill="#111" stroke="#111" stroke-width="0.097" >Hmgcs1</text>
<text x="219.50" y="465.78" font-size="5.4" font-weight="normal" font-style="italic" text-anchor="middle" fill="#111" stroke="#111" stroke-width="0.097" >Hmgcr</text>
<text x="219.50" y="473.70" font-size="5.4" font-weight="normal" font-style="italic" text-anchor="middle" fill="#111" stroke="#111" stroke-width="0.097" >Mvk</text>
<text x="219.50" y="481.62" font-size="5.4" font-weight="normal" font-style="italic" text-anchor="middle" fill="#111" stroke="#111" stroke-width="0.097" >Pmvk</text>
<text x="219.50" y="489.54" font-size="5.4" font-weight="normal" font-style="italic" text-anchor="middle" fill="#111" stroke="#111" stroke-width="0.097" >Ap5m1</text>
<text x="219.50" y="497.46" font-size="5.4" font-weight="normal" font-style="italic" text-anchor="middle" fill="#111" stroke="#111" stroke-width="0.097" >Idi1</text>
<text x="219.50" y="505.38" font-size="5.4" font-weight="normal" font-style="italic" text-anchor="middle" fill="#111" stroke="#111" stroke-width="0.097" >Fdps</text>
<text x="219.50" y="513.30" font-size="5.4" font-weight="normal" font-style="italic" text-anchor="middle" fill="#111" stroke="#111" stroke-width="0.097" >Fdft1</text>
<text x="219.50" y="521.22" font-size="5.4" font-weight="normal" font-style="italic" text-anchor="middle" fill="#111" stroke="#111" stroke-width="0.097" >Sqle</text>
<text x="219.50" y="529.14" font-size="5.4" font-weight="normal" font-style="italic" text-anchor="middle" fill="#111" stroke="#111" stroke-width="0.097" >Lss</text>
<text x="219.50" y="537.06" font-size="5.4" font-weight="normal" font-style="italic" text-anchor="middle" fill="#111" stroke="#111" stroke-width="0.097" >Dhcr7</text>
<text x="219.50" y="544.98" font-size="5.4" font-weight="normal" font-style="italic" text-anchor="middle" fill="#111" stroke="#111" stroke-width="0.097" >Dhcr24</text>
<text x="219.50" y="552.90" font-size="5.4" font-weight="normal" font-style="italic" text-anchor="middle" fill="#111" stroke="#111" stroke-width="0.097" >Acat2</text>
<text x="182.50" y="448.80" font-size="5.4" font-weight="bold" font-style="normal" text-anchor="middle" fill="#000" stroke="#000" stroke-width="0.097" >DMSO</text>
<text x="204.00" y="448.80" font-size="5.4" font-weight="bold" font-style="normal" text-anchor="middle" fill="#000" stroke="#000" stroke-width="0.097" >LXR-623</text>
<rect x="176.00" y="450.20" width="13.00" height="1.10" fill="#000" />
<rect x="196.50" y="450.20" width="14.00" height="1.10" fill="#000" />
<rect x="230.40" y="452.00" width="2.20" height="34.00" fill="url(#gRdYlBu)" />
<text x="233.20" y="454.60" font-size="3.6" font-weight="normal" font-style="normal" text-anchor="start" fill="#333" stroke="#333" stroke-width="0.065" >1.5</text>
<text x="233.20" y="459.68" font-size="3.6" font-weight="normal" font-style="normal" text-anchor="start" fill="#333" stroke="#333" stroke-width="0.065" >1</text>
<text x="233.20" y="464.77" font-size="3.6" font-weight="normal" font-style="normal" text-anchor="start" fill="#333" stroke="#333" stroke-width="0.065" >0.5</text>
<text x="233.20" y="469.85" font-size="3.6" font-weight="normal" font-style="normal" text-anchor="start" fill="#333" stroke="#333" stroke-width="0.065" >0</text>
<text x="233.20" y="474.93" font-size="3.6" font-weight="normal" font-style="normal" text-anchor="start" fill="#333" stroke="#333" stroke-width="0.065" >-0.5</text>
<text x="233.20" y="480.02" font-size="3.6" font-weight="normal" font-style="normal" text-anchor="start" fill="#333" stroke="#333" stroke-width="0.065" >-1</text>
<text x="233.20" y="485.10" font-size="3.6" font-weight="normal" font-style="normal" text-anchor="start" fill="#333" stroke="#333" stroke-width="0.065" >-1.5</text>
<rect x="173.90" y="572.50" width="6.43" height="9.65" fill="#fcf8c0" />
<rect x="180.08" y="572.50" width="6.43" height="9.65" fill="#f0f4d8" />
<rect x="186.26" y="572.50" width="6.43" height="9.65" fill="#3040a0" />
<rect x="192.44" y="572.50" width="6.43" height="9.65" fill="#f89048" />
<rect x="198.62" y="572.50" width="6.43" height="9.65" fill="#f89048" />
<rect x="204.80" y="572.50" width="6.43" height="9.65" fill="#e04030" />
<rect x="173.90" y="581.90" width="6.43" height="9.65" fill="#90c4e0" />
<rect x="180.08" y="581.90" width="6.43" height="9.65" fill="#a0cce4" />
<rect x="186.26" y="581.90" width="6.43" height="9.65" fill="#88bcdc" />
<rect x="192.44" y="581.90" width="6.43" height="9.65" fill="#f06838" />
<rect x="198.62" y="581.90" width="6.43" height="9.65" fill="#e84830" />
<rect x="204.80" y="581.90" width="6.43" height="9.65" fill="#e84830" />
<rect x="173.90" y="591.30" width="6.43" height="9.65" fill="#a0d0e8" />
<rect x="180.08" y="591.30" width="6.43" height="9.65" fill="#98c8e0" />
<rect x="186.26" y="591.30" width="6.43" height="9.65" fill="#88bcdc" />
<rect x="192.44" y="591.30" width="6.43" height="9.65" fill="#e84830" />
<rect x="198.62" y="591.30" width="6.43" height="9.65" fill="#f06838" />
<rect x="204.80" y="591.30" width="6.43" height="9.65" fill="#f06838" />
<rect x="173.90" y="600.70" width="6.43" height="9.65" fill="#c8e8f0" />
<rect x="180.08" y="600.70" width="6.43" height="9.65" fill="#88bcdc" />
<rect x="186.26" y="600.70" width="6.43" height="9.65" fill="#78b0d8" />
<rect x="192.44" y="600.70" width="6.43" height="9.65" fill="#e84830" />
<rect x="198.62" y="600.70" width="6.43" height="9.65" fill="#f48048" />
<rect x="204.80" y="600.70" width="6.43" height="9.65" fill="#f06838" />
<rect x="173.90" y="610.10" width="6.43" height="9.65" fill="#b8dcec" />
<rect x="180.08" y="610.10" width="6.43" height="9.65" fill="#98c8e0" />
<rect x="186.26" y="610.10" width="6.43" height="9.65" fill="#78b0d8" />
<rect x="192.44" y="610.10" width="6.43" height="9.65" fill="#e85838" />
<rect x="198.62" y="610.10" width="6.43" height="9.65" fill="#f06838" />
<rect x="204.80" y="610.10" width="6.43" height="9.65" fill="#e85838" />
<rect x="173.90" y="619.50" width="6.43" height="9.65" fill="#6aa4d0" />
<rect x="180.08" y="619.50" width="6.43" height="9.65" fill="#c8e4f0" />
<rect x="186.26" y="619.50" width="6.43" height="9.65" fill="#98c8e0" />
<rect x="192.44" y="619.50" width="6.43" height="9.65" fill="#f07040" />
<rect x="198.62" y="619.50" width="6.43" height="9.65" fill="#e04030" />
<rect x="204.80" y="619.50" width="6.43" height="9.65" fill="#f07040" />
<rect x="173.90" y="628.90" width="6.43" height="9.65" fill="#fcf8c0" />
<rect x="180.08" y="628.90" width="6.43" height="9.65" fill="#4a78b8" />
<rect x="186.26" y="628.90" width="6.43" height="9.65" fill="#98c8e0" />
<rect x="192.44" y="628.90" width="6.43" height="9.65" fill="#fca860" />
<rect x="198.62" y="628.90" width="6.43" height="9.65" fill="#d02030" />
<rect x="204.80" y="628.90" width="6.43" height="9.65" fill="#f48048" />
<rect x="173.90" y="638.30" width="6.43" height="9.65" fill="#b00a28" />
<rect x="180.08" y="638.30" width="6.43" height="9.65" fill="#88bcdc" />
<rect x="186.26" y="638.30" width="6.43" height="9.65" fill="#fce8a0" />
<rect x="192.44" y="638.30" width="6.43" height="9.65" fill="#f07040" />
<rect x="198.62" y="638.30" width="6.43" height="9.65" fill="#c0e4f0" />
<rect x="204.80" y="638.30" width="6.43" height="9.65" fill="#b0dcec" />
<rect x="173.90" y="647.70" width="6.43" height="9.65" fill="#6aa4d0" />
<rect x="180.08" y="647.70" width="6.43" height="9.65" fill="#fce098" />
<rect x="186.26" y="647.70" width="6.43" height="9.65" fill="#6aa4d0" />
<rect x="192.44" y="647.70" width="6.43" height="9.65" fill="#f07040" />
<rect x="198.62" y="647.70" width="6.43" height="9.65" fill="#f48048" />
<rect x="204.80" y="647.70" width="6.43" height="9.65" fill="#f48048" />
<rect x="173.90" y="657.10" width="6.43" height="9.65" fill="#6aa4d0" />
<rect x="180.08" y="657.10" width="6.43" height="9.65" fill="#c8e8f0" />
<rect x="186.26" y="657.10" width="6.43" height="9.65" fill="#98c8e0" />
<rect x="192.44" y="657.10" width="6.43" height="9.65" fill="#f06838" />
<rect x="198.62" y="657.10" width="6.43" height="9.65" fill="#f06838" />
<rect x="204.80" y="657.10" width="6.43" height="9.65" fill="#f07040" />
<rect x="173.90" y="666.50" width="6.43" height="9.65" fill="#6aa4d0" />
<rect x="180.08" y="666.50" width="6.43" height="9.65" fill="#fcf4c0" />
<rect x="186.26" y="666.50" width="6.43" height="9.65" fill="#80b8dc" />
<rect x="192.44" y="666.50" width="6.43" height="9.65" fill="#fcf0b0" />
<rect x="198.62" y="666.50" width="6.43" height="9.65" fill="#e04030" />
<rect x="204.80" y="666.50" width="6.43" height="9.65" fill="#d02030" />
<text x="221.00" y="579.10" font-size="5.4" font-weight="normal" font-style="italic" text-anchor="middle" fill="#111" stroke="#111" stroke-width="0.097" >Acly</text>
<text x="221.00" y="588.50" font-size="5.4" font-weight="normal" font-style="italic" text-anchor="middle" fill="#111" stroke="#111" stroke-width="0.097" >Acaca</text>
<text x="221.00" y="597.90" font-size="5.4" font-weight="normal" font-style="italic" text-anchor="middle" fill="#111" stroke="#111" stroke-width="0.097" >Fasn</text>
<text x="221.00" y="607.30" font-size="5.4" font-weight="normal" font-style="italic" text-anchor="middle" fill="#111" stroke="#111" stroke-width="0.097" >Scd</text>
<text x="221.00" y="616.70" font-size="5.4" font-weight="normal" font-style="italic" text-anchor="middle" fill="#111" stroke="#111" stroke-width="0.097" >Scd2</text>
<text x="221.00" y="626.10" font-size="5.4" font-weight="normal" font-style="italic" text-anchor="middle" fill="#111" stroke="#111" stroke-width="0.097" >Elovl1</text>
<text x="221.00" y="635.50" font-size="5.4" font-weight="normal" font-style="italic" text-anchor="middle" fill="#111" stroke="#111" stroke-width="0.097" >Elovl6</text>
<text x="221.00" y="644.90" font-size="5.4" font-weight="normal" font-style="italic" text-anchor="middle" fill="#111" stroke="#111" stroke-width="0.097" >Elovl7</text>
<text x="221.00" y="654.30" font-size="5.4" font-weight="normal" font-style="italic" text-anchor="middle" fill="#111" stroke="#111" stroke-width="0.097" >Plpp1</text>
<text x="221.00" y="663.70" font-size="5.4" font-weight="normal" font-style="italic" text-anchor="middle" fill="#111" stroke="#111" stroke-width="0.097" >Plpp2</text>
<text x="221.00" y="673.10" font-size="5.4" font-weight="normal" font-style="italic" text-anchor="middle" fill="#111" stroke="#111" stroke-width="0.097" >Dgat2</text>
<text x="183.00" y="569.00" font-size="5.4" font-weight="bold" font-style="normal" text-anchor="middle" fill="#000" stroke="#000" stroke-width="0.097" >DMSO</text>
<text x="204.60" y="569.00" font-size="5.4" font-weight="bold" font-style="normal" text-anchor="middle" fill="#000" stroke="#000" stroke-width="0.097" >LXR-623</text>
<rect x="176.50" y="570.80" width="13.00" height="1.10" fill="#000" />
<rect x="197.10" y="570.80" width="14.00" height="1.10" fill="#000" />
<rect x="230.30" y="572.50" width="2.20" height="34.20" fill="url(#gRdYlBu)" />
<text x="233.10" y="575.10" font-size="3.6" font-weight="normal" font-style="normal" text-anchor="start" fill="#333" stroke="#333" stroke-width="0.065" >1.5</text>
<text x="233.10" y="580.22" font-size="3.6" font-weight="normal" font-style="normal" text-anchor="start" fill="#333" stroke="#333" stroke-width="0.065" >1</text>
<text x="233.10" y="585.33" font-size="3.6" font-weight="normal" font-style="normal" text-anchor="start" fill="#333" stroke="#333" stroke-width="0.065" >0.5</text>
<text x="233.10" y="590.45" font-size="3.6" font-weight="normal" font-style="normal" text-anchor="start" fill="#333" stroke="#333" stroke-width="0.065" >0</text>
<text x="233.10" y="595.57" font-size="3.6" font-weight="normal" font-style="normal" text-anchor="start" fill="#333" stroke="#333" stroke-width="0.065" >-0.5</text>
<text x="233.10" y="600.68" font-size="3.6" font-weight="normal" font-style="normal" text-anchor="start" fill="#333" stroke="#333" stroke-width="0.065" >-1</text>
<text x="233.10" y="605.80" font-size="3.6" font-weight="normal" font-style="normal" text-anchor="start" fill="#333" stroke="#333" stroke-width="0.065" >-1.5</text>
<text x="397.60" y="442.50" font-size="14.4" font-weight="bold" font-style="normal" text-anchor="start" fill="#000" stroke="#000" stroke-width="0.259" >J</text>
<line x1="421.50" y1="483.30" x2="543.20" y2="483.30" stroke="#c8c8c8" stroke-width="0.9" />
<path d="M421.50,483.17 L422.78,483.29 L424.06,483.16 L425.34,483.24 L426.61,483.22 L427.89,482.90 L429.17,482.84 L430.45,483.22 L431.73,482.89 L433.01,482.85 L434.29,483.19 L435.56,482.89 L436.84,483.04 L438.12,482.82 L439.40,482.87 L440.72,482.37 L442.04,482.35 L443.36,482.20 L444.68,481.77 L446.00,481.62 L447.30,480.26 L448.60,478.63 L449.90,477.65 L451.20,476.25 L452.53,473.50 L453.87,470.77 L455.20,468.58 L456.50,465.32 L457.80,462.38 L459.10,459.39 L460.43,457.54 L461.77,455.88 L463.10,453.85 L464.40,452.92 L465.70,451.61 L467.00,450.72 L468.30,451.74 L469.60,452.40 L470.95,453.72 L472.30,455.06 L473.60,457.63 L474.90,459.57 L476.20,461.86 L477.50,464.30 L478.80,467.00 L480.13,468.71 L481.47,470.46 L482.80,472.34 L484.10,473.64 L485.40,475.10 L486.70,476.29 L488.02,477.26 L489.35,478.08 L490.68,479.00 L492.00,479.69 L493.30,479.88 L494.60,480.68 L495.90,481.18 L497.20,481.60 L498.50,481.88 L499.80,482.41 L501.12,482.32 L502.43,482.80 L503.75,482.84 L505.07,482.86 L506.38,482.92 L507.70,483.30 Z" fill="#a6a6a6" fill-opacity="0.85" stroke="#7a7a7a" stroke-width="0.6"/>
<path d="M472.50,504.97 L473.73,502.73 L474.97,500.71 L476.20,498.43 L477.50,492.43 L478.80,486.65 L480.15,481.66 L481.50,476.35 L482.80,473.08 L484.10,469.56 L485.40,468.77 L486.70,467.69 L488.00,468.29 L489.30,468.90 L490.90,468.21 L492.50,467.81 L493.80,470.11 L495.10,472.45 L496.40,476.40 L497.70,480.05 L499.45,480.75 L501.20,481.56 L503.00,485.12 L505.10,488.98 L506.40,489.94 L507.70,490.49 L509.03,492.49 L510.37,494.25 L511.70,495.90 L513.00,497.51 L514.30,499.42 L515.60,500.99 L516.92,502.20 L518.24,502.94 L519.56,503.56 L520.88,504.22 L522.20,505.10 Z" fill="#f8a95c" fill-opacity="0.8" stroke="#f09040" stroke-width="0.6"/>
<line x1="421.50" y1="505.60" x2="421.50" y2="436.00" stroke="#000" stroke-width="1.7" />
<polygon points="418.00,437.80 425.00,437.80 421.50,430.00" fill="#000" stroke="none" stroke-width="0" />
<line x1="420.70" y1="505.60" x2="543.50" y2="505.60" stroke="#000" stroke-width="1.7" />
<polygon points="542.00,502.10 542.00,509.10 549.60,505.60" fill="#000" stroke="none" stroke-width="0" />
<text x="428.80" y="451.40" font-size="10.1" font-weight="bold" font-style="normal" text-anchor="start" fill="#000" stroke="#000" stroke-width="0.182" >DMSO</text>
<text x="428.80" y="497.40" font-size="10.0" font-weight="bold" font-style="normal" text-anchor="start" fill="#000" stroke="#000" stroke-width="0.180" >LXR-623</text>
<text transform="translate(419.30,455.90) rotate(-90)" font-size="10.0" font-weight="normal" font-style="normal" text-anchor="middle" fill="#000" stroke="#000" stroke-width="0.180">counts</text>
<text x="548.60" y="516.40" font-size="9.6" font-weight="bold" font-style="normal" text-anchor="end" fill="#000" stroke="#000" stroke-width="0.173" >BODIPY</text>
<text x="396.70" y="529.90" font-size="14.4" font-weight="bold" font-style="normal" text-anchor="start" fill="#000" stroke="#000" stroke-width="0.259" >K</text>
<text x="528.00" y="531.70" font-size="5.8" font-weight="bold" font-style="normal" text-anchor="start" fill="#000" stroke="#000" stroke-width="0.104" >Zoom-in</text>
<g clip-path="url(#k1)" style="isolation:isolate">
<rect x="410.70" y="534.70" width="73.60" height="73.50" fill="#828282" />
<path d="M410,534 L468,534 C464,541 456,546 444,547.5 C432,548.5 420,548 410,547 Z" fill="#6a6a6a"/>
<path d="M472,553 C476,546 480,540 485,535 L485,609 L470,609 C473,600 476,590 476,578 C476,568 474,560 472,553 Z" fill="#cfcfcf"/>
<path d="M410,580 C418,584 426,592 432,600 C435,604 437,607 438,609 L410,609 Z" fill="#6e6e6e"/>
<path d="M410,549.5 C422,551 440,551 456,549.5 C464,548 470,543 476,534" fill="none" stroke="#f2f2f2" stroke-width="4.4" filter="url(#soft)"/>
<path d="M413,550 C413,560 414,572 418,580 C424,590 432,598 440,609" fill="none" stroke="#eeeeee" stroke-width="4.6" filter="url(#soft)"/>
<path d="M470,551 C474,560 475,580 472,598 C471,603 470,606 469,609" fill="none" stroke="#e8e8e8" stroke-width="2.6" filter="url(#soft)"/>
<path d="M427.5,566 C428,561 434,560 438,560 C441,557 446,557 450,558.5 C455,556.5 462,558 465,562 C470,566 471,572 469,577 C468,582 463,585 458,584 C454,587 448,587 444,584.5 C438,587 432,585 430,580 C426,577 426,571 427.5,566 Z" fill="#9a9a9a" stroke="#202020" stroke-width="1.0"/>
<path d="M447,573 L452,572 L454,576 L450,578 L446,577 Z" fill="#1a1a1a"/>
<circle cx="441.50" cy="580.50" r="1.3" fill="#222" stroke="none" stroke-width="0" />
<circle cx="447.50" cy="558.00" r="1.0" fill="#222" stroke="none" stroke-width="0" />
<circle cx="417.00" cy="562.00" r="1.0" fill="#222" stroke="none" stroke-width="0" />
<circle cx="434.00" cy="596.00" r="0.8" fill="#222" stroke="none" stroke-width="0" />
<rect x="410.7" y="534.7" width="73.60000000000002" height="73.5" fill="#808080" filter="url(#emnoise)" opacity="0.35" style="mix-blend-mode:overlay"/>
<line x1="414.00" y1="604.50" x2="421.00" y2="604.50" stroke="#000" stroke-width="1.2" />
</g>
<g clip-path="url(#k2)" style="isolation:isolate">
<rect x="484.30" y="534.70" width="73.60" height="73.50" fill="#7e7e7e" />
<path d="M484,534 L553,534 C548,542 540,548 526,552 C512,555 498,555 484,552 Z" fill="#9c9c9c" stroke="#111" stroke-width="1.6"/>
<path d="M524,602 C534,598 546,594 558,590 L558,609 L520,609 Z" fill="#cacaca" filter="url(#soft)"/>
<path d="M496,592 C512,584 530,574 552,558" fill="none" stroke="#a8a8a8" stroke-width="1.3" opacity="0.7"/>
<path d="M500,600 C518,592 536,582 556,570" fill="none" stroke="#9e9e9e" stroke-width="1.0" opacity="0.7"/>
<circle cx="536.50" cy="567.00" r="2.7" fill="#dedede" stroke="none" stroke-width="0" />
<circle cx="541.80" cy="573.60" r="2.0" fill="#d4d4d4" stroke="none" stroke-width="0" />
<ellipse cx="490" cy="594" rx="2.2" ry="1.7600000000000002" fill="#3a3a3a" opacity="0.85"/>
<ellipse cx="501" cy="580" rx="1.6" ry="1.2800000000000002" fill="#3a3a3a" opacity="0.85"/>
<ellipse cx="522" cy="584" rx="1.6" ry="1.2800000000000002" fill="#3a3a3a" opacity="0.85"/>
<ellipse cx="532" cy="601" rx="2.6" ry="2.08" fill="#3a3a3a" opacity="0.85"/>
<ellipse cx="550" cy="571" rx="1.3" ry="1.04" fill="#3a3a3a" opacity="0.85"/>
<ellipse cx="506" cy="563" rx="1.4" ry="1.1199999999999999" fill="#3a3a3a" opacity="0.85"/>
<ellipse cx="494" cy="572" rx="1.2" ry="0.96" fill="#3a3a3a" opacity="0.85"/>
<rect x="484.3" y="534.7" width="73.59999999999997" height="73.5" fill="#808080" filter="url(#emnoise)" opacity="0.35" style="mix-blend-mode:overlay"/>
<line x1="490.00" y1="603.50" x2="503.00" y2="603.50" stroke="#000" stroke-width="1.2" />
</g>
<g transform="translate(533.20,572.80) rotate(205) scale(1.0)"><path d="M0,0 L-6.5,-3.6 L-4.6,0 L-6.5,3.6 Z" fill="#e00000"/></g>
<g transform="translate(540.50,578.60) rotate(205) scale(1.0)"><path d="M0,0 L-6.5,-3.6 L-4.6,0 L-6.5,3.6 Z" fill="#e00000"/></g>
<g clip-path="url(#k3)" style="isolation:isolate">
<rect x="410.70" y="608.20" width="73.60" height="74.20" fill="#d6d6d6" />
<path d="M410,608 L438,608 C437,618 432,628 424,634 C419,637 414,638 410,638 Z" fill="#7a7a7a"/>
<path d="M440,614 C452,610 466,612 474,620 C479,630 479,646 476,660 C472,672 462,679 448,680 C434,681 425,674 423,662 C421,648 424,632 431,622 C434,618 437,616 440,614 Z" fill="#7e7e7e"/>
<path d="M433,640 C436,632 444,631 450,638 C454,648 451,662 443,668 C436,666 431,654 433,640 Z" fill="#555" opacity="0.95"/>
<path d="M410,668 C420,664 430,672 436,682 L410,682 Z" fill="#b0b0b0"/>
<circle cx="466.00" cy="622.00" r="1.5" fill="#f0f0f0" stroke="none" stroke-width="0" />
<circle cx="470.00" cy="628.00" r="1.0" fill="#f0f0f0" stroke="none" stroke-width="0" />
<circle cx="462.00" cy="634.00" r="1.3" fill="#f0f0f0" stroke="none" stroke-width="0" />
<circle cx="472.00" cy="640.00" r="1.1" fill="#f0f0f0" stroke="none" stroke-width="0" />
<circle cx="466.00" cy="648.00" r="1.5" fill="#f0f0f0" stroke="none" stroke-width="0" />
<circle cx="455.00" cy="660.00" r="1.3" fill="#f0f0f0" stroke="none" stroke-width="0" />
<circle cx="446.00" cy="672.00" r="1.1" fill="#f0f0f0" stroke="none" stroke-width="0" />
<circle cx="458.00" cy="626.00" r="1.0" fill="#f0f0f0" stroke="none" stroke-width="0" />
<circle cx="437.00" cy="655.00" r="0.9" fill="#f0f0f0" stroke="none" stroke-width="0" />
<circle cx="470.00" cy="656.00" r="1.1" fill="#f0f0f0" stroke="none" stroke-width="0" />
<circle cx="461.00" cy="668.00" r="1.4" fill="#f0f0f0" stroke="none" stroke-width="0" />
<circle cx="440.00" cy="626.00" r="0.9" fill="#f0f0f0" stroke="none" stroke-width="0" />
<rect x="410.7" y="608.2" width="73.60000000000002" height="74.19999999999993" fill="#808080" filter="url(#emnoise)" opacity="0.3" style="mix-blend-mode:overlay"/>
<line x1="414.00" y1="679.00" x2="422.00" y2="679.00" stroke="#000" stroke-width="1.2" />
</g>
<g clip-path="url(#k4)" style="isolation:isolate">
<rect x="484.30" y="608.20" width="73.60" height="74.20" fill="#7a7a7a" />
<path d="M484,614 C489,624 492,640 490,656 C489,660 487,663 484,665 Z" fill="#1c1c1c"/>
<path d="M495,660 C510,656 530,662 545,672 L540,682 L495,682 Z" fill="#7a7a7a"/>
<circle cx="527.60" cy="618.30" r="4.4" fill="#f2f2f2" stroke="none" stroke-width="0" />
<circle cx="545.30" cy="629.40" r="3.1" fill="#f2f2f2" stroke="none" stroke-width="0" />
<circle cx="526.90" cy="633.40" r="3.6" fill="#f2f2f2" stroke="none" stroke-width="0" />
<circle cx="500.20" cy="642.80" r="4.0" fill="#f2f2f2" stroke="none" stroke-width="0" />
<circle cx="518.70" cy="645.00" r="2.2" fill="#f2f2f2" stroke="none" stroke-width="0" />
<circle cx="543.60" cy="666.80" r="5.3" fill="#f2f2f2" stroke="none" stroke-width="0" />
<circle cx="508.00" cy="652.80" r="1.8" fill="#f2f2f2" stroke="none" stroke-width="0" />
<circle cx="538.00" cy="657.20" r="1.8" fill="#f2f2f2" stroke="none" stroke-width="0" />
<circle cx="552.00" cy="612.00" r="1.6" fill="#f2f2f2" stroke="none" stroke-width="0" />
<circle cx="500.00" cy="668.00" r="2.5" fill="none" stroke="#4a4a4a" stroke-width="0.8" />
<circle cx="512.00" cy="674.00" r="2.0" fill="none" stroke="#4a4a4a" stroke-width="0.8" />
<circle cx="530.00" cy="676.00" r="2.0" fill="none" stroke="#4a4a4a" stroke-width="0.8" />
<circle cx="522.00" cy="662.00" r="1.6" fill="none" stroke="#4a4a4a" stroke-width="0.8" />
<circle cx="548.00" cy="640.00" r="2.0" fill="none" stroke="#4a4a4a" stroke-width="0.8" />
<rect x="484.3" y="608.2" width="73.59999999999997" height="74.19999999999993" fill="#808080" filter="url(#emnoise)" opacity="0.35" style="mix-blend-mode:overlay"/>
<line x1="490.00" y1="678.50" x2="503.00" y2="678.50" stroke="#000" stroke-width="1.2" />
</g>
<g transform="translate(534.70,624.60) rotate(205) scale(1.0)"><path d="M0,0 L-6.5,-3.6 L-4.6,0 L-6.5,3.6 Z" fill="#e00000"/></g>
<g transform="translate(550.20,635.00) rotate(205) scale(1.0)"><path d="M0,0 L-6.5,-3.6 L-4.6,0 L-6.5,3.6 Z" fill="#e00000"/></g>
<g transform="translate(531.30,640.60) rotate(205) scale(1.0)"><path d="M0,0 L-6.5,-3.6 L-4.6,0 L-6.5,3.6 Z" fill="#e00000"/></g>
<g transform="translate(505.10,650.60) rotate(205) scale(1.0)"><path d="M0,0 L-6.5,-3.6 L-4.6,0 L-6.5,3.6 Z" fill="#e00000"/></g>
<g transform="translate(552.40,673.90) rotate(205) scale(1.0)"><path d="M0,0 L-6.5,-3.6 L-4.6,0 L-6.5,3.6 Z" fill="#e00000"/></g>
<rect x="451.80" y="583.40" width="19.70" height="18.90" fill="none" stroke="#000" stroke-width="1.1"/>
<line x1="471.50" y1="583.40" x2="484.30" y2="534.70" stroke="#000" stroke-width="0.9" />
<line x1="471.50" y1="602.30" x2="484.30" y2="608.20" stroke="#000" stroke-width="0.9" />
<rect x="453.00" y="621.00" width="23.00" height="23.00" fill="none" stroke="#000" stroke-width="1.1"/>
<line x1="476.00" y1="621.00" x2="484.30" y2="608.20" stroke="#000" stroke-width="0.9" />
<line x1="476.00" y1="644.00" x2="484.30" y2="682.40" stroke="#000" stroke-width="0.9" />
<rect x="410.70" y="534.70" width="147.20" height="147.70" fill="none" stroke="#111" stroke-width="1.2"/>
<line x1="484.30" y1="534.70" x2="484.30" y2="682.40" stroke="#111" stroke-width="1.2" />
<line x1="410.70" y1="608.20" x2="557.90" y2="608.20" stroke="#111" stroke-width="1.2" />
<text transform="translate(407.40,568.50) rotate(-90)" font-size="9.9" font-weight="bold" font-style="normal" text-anchor="middle" fill="#000" stroke="#000" stroke-width="0.178">DMSO</text>
<text transform="translate(407.20,644.70) rotate(-90)" font-size="9.6" font-weight="bold" font-style="normal" text-anchor="middle" fill="#000" stroke="#000" stroke-width="0.173">LXR-623</text>
<text x="572.40" y="442.60" font-size="14.4" font-weight="bold" font-style="normal" text-anchor="start" fill="#000" stroke="#000" stroke-width="0.259" >L</text>
<rect x="588.50" y="446.30" width="86.90" height="11.70" fill="#fff" stroke="#000" stroke-width="1.3"/>
<line x1="631.80" y1="446.30" x2="631.80" y2="458.00" stroke="#000" stroke-width="1.3" />
<text x="610.20" y="456.70" font-size="10.4" font-weight="bold" font-style="normal" text-anchor="middle" fill="#000" stroke="#000" stroke-width="0.187" >DMSO</text>
<text x="653.20" y="456.70" font-size="9.9" font-weight="bold" font-style="normal" text-anchor="middle" fill="#000" stroke="#000" stroke-width="0.178" >LXR-623</text>
<rect x="588.50" y="458.00" width="86.90" height="92.80" fill="#060606" />
<g clip-path="url(#clipL)">
<circle cx="609.80" cy="480.80" r="21.0" fill="#151515" stroke="#4a4a4a" stroke-width="1.0" />
<circle cx="609.80" cy="480.80" r="17.4" fill="url(#wellL)" stroke="#c4c4c4" stroke-width="1.5" />
<g filter="url(#lsoft)">
<ellipse cx="598.3" cy="481.8" rx="1.6" ry="4.2" fill="#f4f4f4" opacity="0.8"/>
<ellipse cx="601.8" cy="481.8" rx="1.6" ry="4.2" fill="#f4f4f4" opacity="0.8"/>
<ellipse cx="617.8" cy="481.8" rx="1.6" ry="4.2" fill="#f4f4f4" opacity="0.8"/>
<ellipse cx="621.3" cy="481.8" rx="1.6" ry="4.2" fill="#f4f4f4" opacity="0.8"/>
<ellipse cx="593.8" cy="481.8" rx="1.8" ry="5" fill="#fff" opacity="0.8"/>
<ellipse cx="625.8" cy="481.8" rx="1.8" ry="5" fill="#fff" opacity="0.8"/>
<ellipse cx="609.8" cy="461.8" rx="5" ry="1.2" fill="#ddd" opacity="0.6"/>
<ellipse cx="609.8" cy="493.3" rx="4" ry="1.0" fill="#ddd" opacity="0.6"/>
</g>
<circle cx="609.80" cy="527.00" r="21.0" fill="#121212" stroke="#505050" stroke-width="1.0" />
<circle cx="609.80" cy="527.00" r="17.4" fill="#1c1c1c" stroke="#5a5a5a" stroke-width="1.2" />
<g filter="url(#lsoft)">
<ellipse cx="594.8" cy="529.5" rx="4" ry="3" fill="#ddd" opacity="0.7"/>
<ellipse cx="623.8" cy="528.5" rx="4" ry="3" fill="#ddd" opacity="0.6"/>
<ellipse cx="609.8" cy="507.5" rx="3" ry="1.3" fill="#ddd" opacity="0.7"/>
</g>
<circle cx="653.50" cy="480.80" r="21.0" fill="#151515" stroke="#4a4a4a" stroke-width="1.0" />
<circle cx="653.50" cy="480.80" r="17.4" fill="url(#wellL)" stroke="#c4c4c4" stroke-width="1.5" />
<g filter="url(#lsoft)">
<ellipse cx="642.0" cy="481.8" rx="1.6" ry="4.2" fill="#f4f4f4" opacity="0.8"/>
<ellipse cx="645.5" cy="481.8" rx="1.6" ry="4.2" fill="#f4f4f4" opacity="0.8"/>
<ellipse cx="661.5" cy="481.8" rx="1.6" ry="4.2" fill="#f4f4f4" opacity="0.8"/>
<ellipse cx="665.0" cy="481.8" rx="1.6" ry="4.2" fill="#f4f4f4" opacity="0.8"/>
<ellipse cx="637.5" cy="481.8" rx="1.8" ry="5" fill="#fff" opacity="0.8"/>
<ellipse cx="669.5" cy="481.8" rx="1.8" ry="5" fill="#fff" opacity="0.8"/>
<ellipse cx="653.5" cy="461.8" rx="5" ry="1.2" fill="#ddd" opacity="0.6"/>
<ellipse cx="653.5" cy="493.3" rx="4" ry="1.0" fill="#ddd" opacity="0.6"/>
</g>
<circle cx="653.50" cy="527.00" r="21.0" fill="#121212" stroke="#505050" stroke-width="1.0" />
<circle cx="653.50" cy="527.00" r="17.4" fill="#1c1c1c" stroke="#5a5a5a" stroke-width="1.2" />
<g filter="url(#lsoft)">
<ellipse cx="638.5" cy="529.5" rx="4" ry="3" fill="#ddd" opacity="0.7"/>
<ellipse cx="667.5" cy="528.5" rx="4" ry="3" fill="#ddd" opacity="0.6"/>
<ellipse cx="653.5" cy="507.5" rx="3" ry="1.3" fill="#ddd" opacity="0.7"/>
</g>
<ellipse cx="610.5" cy="531.5" rx="9.6" ry="9.4" fill="url(#gelL)" stroke="#fff" stroke-width="1.15" stroke-dasharray="2.6,1.5"/>
<ellipse cx="652.0" cy="529.0" rx="10.2" ry="10.6" fill="url(#gelL)" stroke="#fff" stroke-width="1.15" stroke-dasharray="2.6,1.5"/>
</g>
<line x1="631.80" y1="458.00" x2="631.80" y2="550.80" stroke="#bdbdbd" stroke-width="1.4" />
<line x1="588.50" y1="504.70" x2="675.40" y2="504.70" stroke="#000" stroke-width="1.0" />
<rect x="588.50" y="458.00" width="86.90" height="92.80" fill="none" stroke="#000" stroke-width="1.3"/>
<rect x="570.80" y="458.00" width="17.70" height="92.80" fill="#fff" stroke="#000" stroke-width="1.3"/>
<line x1="570.80" y1="504.70" x2="588.50" y2="504.70" stroke="#000" stroke-width="1.3" />
<text transform="translate(579.40,481.40) rotate(-90)" font-size="6.7" font-weight="bold" font-style="normal" text-anchor="middle" fill="#000" stroke="#000" stroke-width="0.121">before release</text>
<text transform="translate(586.00,481.40) rotate(-90)" font-size="6.7" font-weight="bold" font-style="normal" text-anchor="middle" fill="#000" stroke="#000" stroke-width="0.121">(0h)</text>
<text transform="translate(579.40,527.80) rotate(-90)" font-size="6.7" font-weight="bold" font-style="normal" text-anchor="middle" fill="#000" stroke="#000" stroke-width="0.121">after release</text>
<text transform="translate(586.00,527.80) rotate(-90)" font-size="6.7" font-weight="bold" font-style="normal" text-anchor="middle" fill="#000" stroke="#000" stroke-width="0.121">(24h)</text>
<rect x="625.90" y="597.62" width="12.70" height="60.48" fill="#b8b8b8" />
<rect x="640.00" y="620.02" width="13.00" height="38.08" fill="#f99a5a" />
<line x1="632.20" y1="597.62" x2="632.20" y2="594.71" stroke="#555" stroke-width="0.6" />
<line x1="646.50" y1="620.02" x2="646.50" y2="616.44" stroke="#555" stroke-width="0.6" />
<line x1="630.80" y1="594.71" x2="633.60" y2="594.71" stroke="#555" stroke-width="0.6" />
<line x1="645.10" y1="616.44" x2="647.90" y2="616.44" stroke="#555" stroke-width="0.6" />
<circle cx="629.70" cy="593.59" r="1.55" fill="#fff" stroke="#444" stroke-width="0.6" />
<circle cx="632.70" cy="594.93" r="1.55" fill="#fff" stroke="#444" stroke-width="0.6" />
<circle cx="630.20" cy="599.19" r="1.55" fill="#fff" stroke="#444" stroke-width="0.6" />
<circle cx="633.70" cy="598.74" r="1.55" fill="#fff" stroke="#444" stroke-width="0.6" />
<circle cx="636.00" cy="597.62" r="1.55" fill="#fff" stroke="#444" stroke-width="0.6" />
<circle cx="637.40" cy="599.41" r="1.55" fill="#fff" stroke="#444" stroke-width="0.6" />
<circle cx="646.50" cy="615.09" r="1.55" fill="#fff" stroke="#444" stroke-width="0.6" />
<circle cx="643.90" cy="618.90" r="1.55" fill="#fff" stroke="#444" stroke-width="0.6" />
<circle cx="649.10" cy="618.90" r="1.55" fill="#fff" stroke="#444" stroke-width="0.6" />
<circle cx="651.30" cy="620.47" r="1.55" fill="#fff" stroke="#444" stroke-width="0.6" />
<circle cx="646.30" cy="622.26" r="1.55" fill="#fff" stroke="#444" stroke-width="0.6" />
<circle cx="646.50" cy="624.95" r="1.55" fill="#fff" stroke="#444" stroke-width="0.6" />
<line x1="619.60" y1="568.00" x2="619.60" y2="658.60" stroke="#111" stroke-width="1.1" />
<line x1="619.10" y1="658.10" x2="659.70" y2="658.10" stroke="#111" stroke-width="1.1" />
<line x1="617.00" y1="658.10" x2="619.60" y2="658.10" stroke="#111" stroke-width="1.0" />
<text x="615.20" y="661.00" font-size="8.4" font-weight="bold" font-style="normal" text-anchor="end" fill="#000" stroke="#000" stroke-width="0.151" >0.0</text>
<line x1="617.00" y1="635.70" x2="619.60" y2="635.70" stroke="#111" stroke-width="1.0" />
<text x="615.20" y="638.60" font-size="8.4" font-weight="bold" font-style="normal" text-anchor="end" fill="#000" stroke="#000" stroke-width="0.151" >0.1</text>
<line x1="617.00" y1="613.30" x2="619.60" y2="613.30" stroke="#111" stroke-width="1.0" />
<text x="615.20" y="616.20" font-size="8.4" font-weight="bold" font-style="normal" text-anchor="end" fill="#000" stroke="#000" stroke-width="0.151" >0.2</text>
<line x1="617.00" y1="590.90" x2="619.60" y2="590.90" stroke="#111" stroke-width="1.0" />
<text x="615.20" y="593.80" font-size="8.4" font-weight="bold" font-style="normal" text-anchor="end" fill="#000" stroke="#000" stroke-width="0.151" >0.3</text>
<line x1="617.00" y1="568.50" x2="619.60" y2="568.50" stroke="#111" stroke-width="1.0" />
<text x="615.20" y="571.40" font-size="8.4" font-weight="bold" font-style="normal" text-anchor="end" fill="#000" stroke="#000" stroke-width="0.151" >0.4</text>
<line x1="632.20" y1="658.10" x2="632.20" y2="660.70" stroke="#111" stroke-width="1.0" />
<line x1="646.50" y1="658.10" x2="646.50" y2="660.70" stroke="#111" stroke-width="1.0" />
<polyline points="632.20,588.40 632.20,584.40 648.40,584.40 648.40,588.40" fill="none" stroke="#444" stroke-width="0.6" />
<text x="640.3" y="582.4" font-size="5.2" text-anchor="middle" fill="#222" stroke="none"><tspan font-style="italic">P</tspan> &lt; 0.0001</text>
<text transform="translate(597.50,613.30) rotate(-90)" font-size="8.0" font-weight="normal" font-style="normal" text-anchor="middle" fill="#000" stroke="#000" stroke-width="0.144">Contraction (cm)</text>
<text transform="translate(634.8,665.8) rotate(-45)" font-size="7.8" font-weight="bold" text-anchor="end">DMSO</text>
<text transform="translate(649.0,665.8) rotate(-45)" font-size="7.8" font-weight="bold" text-anchor="end">LXR-623</text>
<text x="1.20" y="717.90" font-size="14.4" font-weight="bold" font-style="normal" text-anchor="start" fill="#000" stroke="#000" stroke-width="0.259" >M</text>
<text x="65.40" y="708.70" font-size="10.2" font-weight="bold" font-style="normal" text-anchor="middle" fill="#000" stroke="#000" stroke-width="0.184" >DMSO</text>
<text x="115.60" y="708.70" font-size="10.0" font-weight="bold" font-style="normal" text-anchor="middle" fill="#000" stroke="#000" stroke-width="0.180" >LXR-623</text>
<rect x="42.20" y="709.60" width="44.70" height="2.60" fill="#000" />
<rect x="91.00" y="709.60" width="48.50" height="2.60" fill="#000" />
<text x="146.00" y="713.60" font-size="10.2" font-weight="bold" font-style="normal" text-anchor="start" fill="#000" stroke="#000" stroke-width="0.184" >KDa</text>
<rect x="41.50" y="713.30" width="98.70" height="25.90" fill="#a4a4a4"/>
<g clip-path="url(#cl41_713)" filter="url(#bandblur)">
<rect x="44.90" y="717.52" width="20.00" height="6.16" rx="2.80" fill="#6a6a6a" opacity="0.104"/>
<rect x="68.90" y="717.52" width="19.00" height="6.16" rx="2.80" fill="#6a6a6a" opacity="0.104"/>
<rect x="93.00" y="718.16" width="19.00" height="5.28" rx="2.40" fill="#8a8a8a" opacity="0.091"/>
<rect x="117.00" y="718.16" width="19.00" height="5.28" rx="2.40" fill="#8a8a8a" opacity="0.091"/>
<rect x="44.40" y="722.86" width="21.00" height="7.48" rx="3.40" fill="#181818" opacity="0.130"/>
<rect x="68.65" y="723.10" width="19.50" height="6.60" rx="3.00" fill="#202020" opacity="0.130"/>
<rect x="93.00" y="724.14" width="19.00" height="5.72" rx="2.60" fill="#555" opacity="0.117"/>
<rect x="117.00" y="723.52" width="19.00" height="6.16" rx="2.80" fill="#4a4a4a" opacity="0.117"/>
<rect x="45.90" y="719.20" width="18.00" height="2.80" rx="1.40" fill="#6a6a6a" opacity="0.8"/>
<rect x="69.90" y="719.20" width="17.00" height="2.80" rx="1.40" fill="#6a6a6a" opacity="0.8"/>
<rect x="94.00" y="719.60" width="17.00" height="2.40" rx="1.20" fill="#8a8a8a" opacity="0.7"/>
<rect x="118.00" y="719.60" width="17.00" height="2.40" rx="1.20" fill="#8a8a8a" opacity="0.7"/>
<rect x="45.40" y="724.90" width="19.00" height="3.40" rx="1.70" fill="#181818" opacity="1"/>
<rect x="69.65" y="724.90" width="17.50" height="3.00" rx="1.50" fill="#202020" opacity="1"/>
<rect x="94.00" y="725.70" width="17.00" height="2.60" rx="1.30" fill="#555" opacity="0.9"/>
<rect x="118.00" y="725.20" width="17.00" height="2.80" rx="1.40" fill="#4a4a4a" opacity="0.9"/>
</g>
<rect x="41.50" y="713.30" width="98.70" height="25.90" fill="none" stroke="#1a1a1a" stroke-width="1.1"/>
<rect x="41.50" y="741.60" width="98.70" height="31.80" fill="#cecece"/>
<g clip-path="url(#cl41_741)" filter="url(#bandblur)">
<rect x="44.90" y="744.38" width="20.00" height="4.84" rx="2.20" fill="#a0a0a0" opacity="0.091"/>
<rect x="68.40" y="744.38" width="20.00" height="4.84" rx="2.20" fill="#a0a0a0" opacity="0.091"/>
<rect x="93.00" y="744.60" width="19.00" height="4.40" rx="2.00" fill="#b0b0b0" opacity="0.078"/>
<rect x="117.00" y="744.60" width="19.00" height="4.40" rx="2.00" fill="#b0b0b0" opacity="0.078"/>
<rect x="42.40" y="749.34" width="25.00" height="14.52" rx="6.60" fill="#000" opacity="0.130"/>
<rect x="65.90" y="748.48" width="25.00" height="15.84" rx="7.20" fill="#000" opacity="0.130"/>
<rect x="92.00" y="752.64" width="21.00" height="7.92" rx="3.60" fill="#333" opacity="0.123"/>
<rect x="114.50" y="751.12" width="24.00" height="10.56" rx="4.80" fill="#0a0a0a" opacity="0.130"/>
<rect x="43.90" y="759.20" width="22.00" height="6.60" rx="3.00" fill="#6a6a6a" opacity="0.117"/>
<rect x="67.40" y="759.20" width="22.00" height="6.60" rx="3.00" fill="#6a6a6a" opacity="0.117"/>
<rect x="92.50" y="759.64" width="20.00" height="5.72" rx="2.60" fill="#909090" opacity="0.104"/>
<rect x="116.50" y="759.64" width="20.00" height="5.72" rx="2.60" fill="#909090" opacity="0.104"/>
<rect x="45.90" y="745.70" width="18.00" height="2.20" rx="1.10" fill="#a0a0a0" opacity="0.7"/>
<rect x="69.40" y="745.70" width="18.00" height="2.20" rx="1.10" fill="#a0a0a0" opacity="0.7"/>
<rect x="94.00" y="745.80" width="17.00" height="2.00" rx="1.00" fill="#b0b0b0" opacity="0.6"/>
<rect x="118.00" y="745.80" width="17.00" height="2.00" rx="1.00" fill="#b0b0b0" opacity="0.6"/>
<rect x="43.40" y="753.30" width="23.00" height="6.60" rx="3.30" fill="#000" opacity="1"/>
<rect x="66.90" y="752.80" width="23.00" height="7.20" rx="3.60" fill="#000" opacity="1"/>
<rect x="93.00" y="754.80" width="19.00" height="3.60" rx="1.80" fill="#333" opacity="0.95"/>
<rect x="115.50" y="754.00" width="22.00" height="4.80" rx="2.40" fill="#0a0a0a" opacity="1"/>
<rect x="44.90" y="761.00" width="20.00" height="3.00" rx="1.50" fill="#6a6a6a" opacity="0.9"/>
<rect x="68.40" y="761.00" width="20.00" height="3.00" rx="1.50" fill="#6a6a6a" opacity="0.9"/>
<rect x="93.50" y="761.20" width="18.00" height="2.60" rx="1.30" fill="#909090" opacity="0.8"/>
<rect x="117.50" y="761.20" width="18.00" height="2.60" rx="1.30" fill="#909090" opacity="0.8"/>
</g>
<rect x="41.50" y="741.60" width="98.70" height="31.80" fill="none" stroke="#1a1a1a" stroke-width="1.1"/>
<rect x="41.50" y="776.00" width="98.70" height="19.80" fill="#dcdcdc"/>
<g clip-path="url(#cl41_776)" filter="url(#bandblur)">
<rect x="43.90" y="781.52" width="22.00" height="10.56" rx="4.80" fill="#000" opacity="0.130"/>
<rect x="67.40" y="781.32" width="22.00" height="10.56" rx="4.80" fill="#000" opacity="0.130"/>
<rect x="92.50" y="781.76" width="20.00" height="9.68" rx="4.40" fill="#050505" opacity="0.130"/>
<rect x="116.00" y="780.92" width="21.00" height="10.56" rx="4.80" fill="#000" opacity="0.130"/>
<rect x="44.90" y="784.40" width="20.00" height="4.80" rx="2.40" fill="#000" opacity="1"/>
<rect x="68.40" y="784.20" width="20.00" height="4.80" rx="2.40" fill="#000" opacity="1"/>
<rect x="93.50" y="784.40" width="18.00" height="4.40" rx="2.20" fill="#050505" opacity="1"/>
<rect x="117.00" y="783.80" width="19.00" height="4.80" rx="2.40" fill="#000" opacity="1"/>
</g>
<rect x="41.50" y="776.00" width="98.70" height="19.80" fill="none" stroke="#1a1a1a" stroke-width="1.1"/>
<rect x="41.50" y="797.60" width="98.70" height="25.20" fill="#d8d8d8"/>
<g clip-path="url(#cl41_797)" filter="url(#bandblur)">
<rect x="42.40" y="797.00" width="25.00" height="17.60" rx="8.00" fill="#000" opacity="0.130"/>
<rect x="66.40" y="797.44" width="24.00" height="16.72" rx="7.60" fill="#000" opacity="0.130"/>
<rect x="91.50" y="799.18" width="22.00" height="13.64" rx="6.20" fill="#000" opacity="0.130"/>
<rect x="115.50" y="799.62" width="22.00" height="12.76" rx="5.80" fill="#050505" opacity="0.130"/>
<rect x="43.40" y="801.80" width="23.00" height="8.00" rx="4.00" fill="#000" opacity="1"/>
<rect x="67.40" y="802.00" width="22.00" height="7.60" rx="3.80" fill="#000" opacity="1"/>
<rect x="92.50" y="802.90" width="20.00" height="6.20" rx="3.10" fill="#000" opacity="1"/>
<rect x="116.50" y="803.10" width="20.00" height="5.80" rx="2.90" fill="#050505" opacity="1"/>
</g>
<rect x="41.50" y="797.60" width="98.70" height="25.20" fill="none" stroke="#1a1a1a" stroke-width="1.1"/>
<rect x="41.50" y="825.00" width="98.70" height="18.00" fill="#d6d6d6"/>
<g clip-path="url(#cl41_825)" filter="url(#bandblur)">
<rect x="43.40" y="826.68" width="23.00" height="11.44" rx="5.20" fill="#000" opacity="0.130"/>
<rect x="67.40" y="827.50" width="22.00" height="11.00" rx="5.00" fill="#050505" opacity="0.130"/>
<rect x="91.00" y="826.00" width="23.00" height="13.20" rx="6.00" fill="#000" opacity="0.130"/>
<rect x="115.00" y="826.42" width="23.00" height="12.76" rx="5.80" fill="#000" opacity="0.130"/>
<rect x="44.40" y="829.80" width="21.00" height="5.20" rx="2.60" fill="#000" opacity="1"/>
<rect x="68.40" y="830.50" width="20.00" height="5.00" rx="2.50" fill="#050505" opacity="1"/>
<rect x="92.00" y="829.60" width="21.00" height="6.00" rx="3.00" fill="#000" opacity="1"/>
<rect x="116.00" y="829.90" width="21.00" height="5.80" rx="2.90" fill="#000" opacity="1"/>
</g>
<rect x="41.50" y="825.00" width="98.70" height="18.00" fill="none" stroke="#1a1a1a" stroke-width="1.1"/>
<text x="54.90" y="738.30" font-size="6.4" font-weight="normal" font-style="normal" text-anchor="middle" fill="#111" stroke="#111" stroke-width="0.115" >1.00</text>
<text x="78.40" y="738.30" font-size="6.4" font-weight="normal" font-style="normal" text-anchor="middle" fill="#111" stroke="#111" stroke-width="0.115" >0.96</text>
<text x="102.50" y="738.30" font-size="6.4" font-weight="normal" font-style="normal" text-anchor="middle" fill="#111" stroke="#111" stroke-width="0.115" >0.55</text>
<text x="126.50" y="738.30" font-size="6.4" font-weight="normal" font-style="normal" text-anchor="middle" fill="#111" stroke="#111" stroke-width="0.115" >0.73</text>
<text x="54.90" y="771.80" font-size="6.4" font-weight="normal" font-style="normal" text-anchor="middle" fill="#111" stroke="#111" stroke-width="0.115" >1.00</text>
<text x="78.40" y="771.80" font-size="6.4" font-weight="normal" font-style="normal" text-anchor="middle" fill="#111" stroke="#111" stroke-width="0.115" >1.11</text>
<text x="102.50" y="771.80" font-size="6.4" font-weight="normal" font-style="normal" text-anchor="middle" fill="#111" stroke="#111" stroke-width="0.115" >0.61</text>
<text x="126.50" y="771.80" font-size="6.4" font-weight="normal" font-style="normal" text-anchor="middle" fill="#111" stroke="#111" stroke-width="0.115" >0.83</text>
<text x="54.90" y="821.60" font-size="6.4" font-weight="normal" font-style="normal" text-anchor="middle" fill="#111" stroke="#111" stroke-width="0.115" >1.00</text>
<text x="78.40" y="821.60" font-size="6.4" font-weight="normal" font-style="normal" text-anchor="middle" fill="#111" stroke="#111" stroke-width="0.115" >0.99</text>
<text x="102.50" y="821.60" font-size="6.4" font-weight="normal" font-style="normal" text-anchor="middle" fill="#111" stroke="#111" stroke-width="0.115" >0.49</text>
<text x="126.50" y="821.60" font-size="6.4" font-weight="normal" font-style="normal" text-anchor="middle" fill="#111" stroke="#111" stroke-width="0.115" >0.48</text>
<text x="38.40" y="728.20" font-size="8.45" font-weight="bold" font-style="normal" text-anchor="end" fill="#000" stroke="#000" stroke-width="0.152" >MYOCD</text>
<text x="38.40" y="755.40" font-size="8.5" font-weight="bold" font-style="normal" text-anchor="end" fill="#000" stroke="#000" stroke-width="0.153" >SM22α</text>
<text x="38.60" y="787.20" font-size="8.6" font-weight="bold" font-style="normal" text-anchor="end" fill="#000" stroke="#000" stroke-width="0.155" >β-Tubulin</text>
<text x="38.60" y="807.60" font-size="8.5" font-weight="bold" font-style="normal" text-anchor="end" fill="#000" stroke="#000" stroke-width="0.153" >α-SMA</text>
<text x="38.60" y="832.60" font-size="8.6" font-weight="bold" font-style="normal" text-anchor="end" fill="#000" stroke="#000" stroke-width="0.155" >β-Tubulin</text>
<text x="38.50" y="839.60" font-size="6.0" font-weight="bold" font-style="normal" text-anchor="end" fill="#000" stroke="#000" stroke-width="0.108" >(α-SMA)</text>
<line x1="140.60" y1="720.80" x2="146.80" y2="720.80" stroke="#000" stroke-width="2.4" />
<text x="150.20" y="726.00" font-size="10.5" font-weight="normal" font-style="normal" text-anchor="start" fill="#000" stroke="#000" stroke-width="0.189" >*</text>
<line x1="140.60" y1="763.80" x2="146.80" y2="763.80" stroke="#000" stroke-width="2.4" />
<text x="150.20" y="769.00" font-size="10.5" font-weight="normal" font-style="normal" text-anchor="start" fill="#000" stroke="#000" stroke-width="0.189" >*</text>
<line x1="140.60" y1="728.20" x2="146.80" y2="728.20" stroke="#000" stroke-width="2.4" />
<text x="149.00" y="731.50" font-size="8.9" font-weight="normal" font-style="normal" text-anchor="start" fill="#000" stroke="#000" stroke-width="0.160" >100</text>
<line x1="140.60" y1="756.50" x2="146.80" y2="756.50" stroke="#000" stroke-width="2.4" />
<text x="149.00" y="759.80" font-size="8.9" font-weight="normal" font-style="normal" text-anchor="start" fill="#000" stroke="#000" stroke-width="0.160" >22</text>
<line x1="140.60" y1="788.20" x2="146.80" y2="788.20" stroke="#000" stroke-width="2.4" />
<text x="149.00" y="791.50" font-size="8.9" font-weight="normal" font-style="normal" text-anchor="start" fill="#000" stroke="#000" stroke-width="0.160" >55</text>
<line x1="140.60" y1="813.20" x2="146.80" y2="813.20" stroke="#000" stroke-width="2.4" />
<text x="149.00" y="816.50" font-size="8.9" font-weight="normal" font-style="normal" text-anchor="start" fill="#000" stroke="#000" stroke-width="0.160" >40</text>
<line x1="140.60" y1="837.30" x2="146.80" y2="837.30" stroke="#000" stroke-width="2.4" />
<text x="149.00" y="840.60" font-size="8.9" font-weight="normal" font-style="normal" text-anchor="start" fill="#000" stroke="#000" stroke-width="0.160" >55</text>
<text x="177.40" y="718.00" font-size="14.4" font-weight="bold" font-style="normal" text-anchor="start" fill="#000" stroke="#000" stroke-width="0.259" >N</text>
<text x="250.50" y="720.80" font-size="7.15" font-weight="bold" font-style="normal" text-anchor="middle" fill="#000" stroke="#000" stroke-width="0.129" >Vascular associated smooth</text>
<text x="250.50" y="728.60" font-size="7.15" font-weight="bold" font-style="normal" text-anchor="middle" fill="#000" stroke="#000" stroke-width="0.129" >muscle contraction</text>
<line x1="199.00" y1="737.90" x2="305.30" y2="737.90" stroke="#999" stroke-width="0.4" stroke-dasharray="1,1"/>
<polyline points="199.00,738.30 201.00,737.20 203.70,736.80 206.00,737.00 208.00,737.80 213.00,740.36 218.00,742.91 223.00,745.47 228.00,748.03 233.00,750.59 238.00,753.14 243.00,755.70 248.00,758.26 253.00,760.81 258.00,763.37 263.00,765.93 268.00,768.49 273.00,771.04 278.00,773.60 279.70,774.00 282.00,773.20 284.00,773.60 286.00,772.00 288.00,770.40 289.50,770.80 291.00,768.50 293.00,767.60 295.00,766.80 297.00,765.00 299.00,762.00 300.50,757.00 301.50,750.00 302.50,743.00 303.70,737.90" fill="none" stroke="#22e022" stroke-width="1.1" stroke-linejoin="round"/>
<rect x="199.00" y="732.00" width="106.30" height="101.70" fill="none" stroke="#888" stroke-width="0.5"/>
<line x1="199.00" y1="780.00" x2="305.30" y2="780.00" stroke="#888" stroke-width="0.5" />
<line x1="199.00" y1="799.60" x2="305.30" y2="799.60" stroke="#888" stroke-width="0.5" />
<line x1="197.80" y1="737.90" x2="199.00" y2="737.90" stroke="#888" stroke-width="0.4" />
<text transform="translate(196.80,737.90) rotate(-90)" font-size="2.6" font-weight="normal" font-style="normal" text-anchor="middle" fill="#666" stroke="#666" stroke-width="0.047">0.0</text>
<line x1="197.80" y1="750.50" x2="199.00" y2="750.50" stroke="#888" stroke-width="0.4" />
<text transform="translate(196.80,750.50) rotate(-90)" font-size="2.6" font-weight="normal" font-style="normal" text-anchor="middle" fill="#666" stroke="#666" stroke-width="0.047">-0.2</text>
<line x1="197.80" y1="762.30" x2="199.00" y2="762.30" stroke="#888" stroke-width="0.4" />
<text transform="translate(196.80,762.30) rotate(-90)" font-size="2.6" font-weight="normal" font-style="normal" text-anchor="middle" fill="#666" stroke="#666" stroke-width="0.047">-0.4</text>
<line x1="197.80" y1="774.00" x2="199.00" y2="774.00" stroke="#888" stroke-width="0.4" />
<text transform="translate(196.80,774.00) rotate(-90)" font-size="2.6" font-weight="normal" font-style="normal" text-anchor="middle" fill="#666" stroke="#666" stroke-width="0.047">-0.6</text>
<text transform="translate(194.60,756.00) rotate(-90)" font-size="3.7" font-weight="normal" font-style="normal" text-anchor="middle" fill="#555" stroke="#555" stroke-width="0.067">Enrichment score (ES)</text>
<text x="202.40" y="768.30" font-size="5.6" font-weight="bold" font-style="normal" text-anchor="start" fill="#000" stroke="#000" stroke-width="0.101" >NES = -1.45</text>
<text x="202.4" y="774.6" font-size="5.6" font-weight="bold"><tspan font-style="italic">P</tspan> = 0.025</text>
<line x1="203.60" y1="780.00" x2="203.60" y2="796.20" stroke="#222" stroke-width="0.45" />
<line x1="210.50" y1="780.00" x2="210.50" y2="796.20" stroke="#222" stroke-width="0.45" />
<line x1="222.30" y1="780.00" x2="222.30" y2="796.20" stroke="#222" stroke-width="0.45" />
<line x1="224.30" y1="780.00" x2="224.30" y2="796.20" stroke="#222" stroke-width="0.45" />
<line x1="226.60" y1="780.00" x2="226.60" y2="796.20" stroke="#222" stroke-width="0.45" />
<line x1="228.20" y1="780.00" x2="228.20" y2="796.20" stroke="#222" stroke-width="0.45" />
<line x1="234.10" y1="780.00" x2="234.10" y2="796.20" stroke="#222" stroke-width="0.45" />
<line x1="234.70" y1="780.00" x2="234.70" y2="796.20" stroke="#222" stroke-width="0.45" />
<line x1="235.30" y1="780.00" x2="235.30" y2="796.20" stroke="#222" stroke-width="0.45" />
<line x1="244.40" y1="780.00" x2="244.40" y2="796.20" stroke="#222" stroke-width="0.45" />
<line x1="261.70" y1="780.00" x2="261.70" y2="796.20" stroke="#222" stroke-width="0.45" />
<line x1="263.70" y1="780.00" x2="263.70" y2="796.20" stroke="#222" stroke-width="0.45" />
<line x1="269.60" y1="780.00" x2="269.60" y2="796.20" stroke="#222" stroke-width="0.45" />
<line x1="279.50" y1="780.00" x2="279.50" y2="796.20" stroke="#222" stroke-width="0.45" />
<line x1="280.40" y1="780.00" x2="280.40" y2="796.20" stroke="#222" stroke-width="0.45" />
<line x1="286.00" y1="780.00" x2="286.00" y2="796.20" stroke="#222" stroke-width="0.45" />
<line x1="287.30" y1="780.00" x2="287.30" y2="796.20" stroke="#222" stroke-width="0.45" />
<line x1="289.70" y1="780.00" x2="289.70" y2="796.20" stroke="#222" stroke-width="0.45" />
<line x1="291.30" y1="780.00" x2="291.30" y2="796.20" stroke="#222" stroke-width="0.45" />
<line x1="295.60" y1="780.00" x2="295.60" y2="796.20" stroke="#222" stroke-width="0.45" />
<line x1="298.20" y1="780.00" x2="298.20" y2="796.20" stroke="#222" stroke-width="0.45" />
<line x1="299.60" y1="780.00" x2="299.60" y2="796.20" stroke="#222" stroke-width="0.45" />
<line x1="301.10" y1="780.00" x2="301.10" y2="796.20" stroke="#222" stroke-width="0.45" />
<line x1="302.70" y1="780.00" x2="302.70" y2="796.20" stroke="#222" stroke-width="0.45" />
<line x1="304.10" y1="780.00" x2="304.10" y2="796.20" stroke="#222" stroke-width="0.45" />
<rect x="199.00" y="796.20" width="106.30" height="3.40" fill="url(#gN)" />
<path d="M199.0,816.3 L199.0,801.5 L200.5,806 L204,810 L210,812.8 L218,814.6 L229.2,816.3 Z" fill="#d8d8d8"/>
<path d="M261.7,816.3 L275,816.8 L285,817.8 L293,819.6 L298,822 L301.5,825.5 L303.5,829 L304.2,831 L304.2,816.3 Z" fill="#d8d8d8"/>
<line x1="229.20" y1="799.60" x2="229.20" y2="833.70" stroke="#bbb" stroke-width="0.4" />
<text x="220.70" y="815.30" font-size="3.6" font-weight="normal" font-style="normal" text-anchor="start" fill="#555" stroke="#555" stroke-width="0.065" >Zero cross at 6476</text>
<text transform="translate(194.60,816.00) rotate(-90)" font-size="3.4" font-weight="normal" font-style="normal" text-anchor="middle" fill="#666" stroke="#666" stroke-width="0.061">SCORE</text>
<line x1="197.80" y1="801.50" x2="199.00" y2="801.50" stroke="#888" stroke-width="0.4" />
<line x1="197.80" y1="808.80" x2="199.00" y2="808.80" stroke="#888" stroke-width="0.4" />
<line x1="197.80" y1="816.30" x2="199.00" y2="816.30" stroke="#888" stroke-width="0.4" />
<line x1="197.80" y1="823.80" x2="199.00" y2="823.80" stroke="#888" stroke-width="0.4" />
<line x1="197.80" y1="831.20" x2="199.00" y2="831.20" stroke="#888" stroke-width="0.4" />
<text x="202.20" y="826.70" font-size="6.5" font-weight="bold" font-style="normal" text-anchor="start" fill="#000" stroke="#000" stroke-width="0.117" >LXR-623</text>
<text x="275.00" y="826.70" font-size="6.45" font-weight="bold" font-style="normal" text-anchor="start" fill="#000" stroke="#000" stroke-width="0.116" >DMSO</text>
<line x1="222.50" y1="833.70" x2="222.50" y2="834.90" stroke="#888" stroke-width="0.4" />
<text x="222.50" y="838.50" font-size="3.0" font-weight="normal" font-style="normal" text-anchor="middle" fill="#666" stroke="#666" stroke-width="0.054" >5000</text>
<line x1="246.50" y1="833.70" x2="246.50" y2="834.90" stroke="#888" stroke-width="0.4" />
<text x="246.50" y="838.50" font-size="3.0" font-weight="normal" font-style="normal" text-anchor="middle" fill="#666" stroke="#666" stroke-width="0.054" >10000</text>
<line x1="270.50" y1="833.70" x2="270.50" y2="834.90" stroke="#888" stroke-width="0.4" />
<text x="270.50" y="838.50" font-size="3.0" font-weight="normal" font-style="normal" text-anchor="middle" fill="#666" stroke="#666" stroke-width="0.054" >15000</text>
<line x1="294.50" y1="833.70" x2="294.50" y2="834.90" stroke="#888" stroke-width="0.4" />
<text x="294.50" y="838.50" font-size="3.0" font-weight="normal" font-style="normal" text-anchor="middle" fill="#666" stroke="#666" stroke-width="0.054" >20000</text>
<text x="252.00" y="842.60" font-size="3.8" font-weight="normal" font-style="normal" text-anchor="middle" fill="#444" stroke="#444" stroke-width="0.068" >Rank in ordered gene list</text>
<text x="324.00" y="718.10" font-size="14.4" font-weight="bold" font-style="normal" text-anchor="start" fill="#000" stroke="#000" stroke-width="0.259" >O</text>
<path d="M338.20,837.10 L343.00,836.77 L347.00,835.12 L350.50,831.78 L353.00,834.24 L356.00,833.76 L359.00,828.28 L361.00,819.01 L363.00,808.00 L365.00,795.76 L367.00,783.55 L369.00,772.88 L371.00,763.08 L372.70,758.21 L374.20,764.26 L376.00,774.26 L378.00,768.76 L379.90,766.09 L382.00,767.45 L384.60,768.01 L386.50,771.34 L388.60,775.20 L391.20,785.98 L393.90,783.55 L396.50,793.00 L398.50,804.65 L401.20,805.41 L403.10,814.08 L407.10,823.19 L411.10,830.39 L416.40,835.06 L423.00,837.79 Z" fill="#c8c8c8" fill-opacity="0.85" stroke="#9a9a9a" stroke-width="0.6"/>
<path d="M370.00,837.40 L378.00,835.70 L384.60,831.50 L388.60,823.50 L391.20,815.60 L393.90,803.60 L395.80,790.40 L397.80,773.10 L399.20,762.00 L400.50,755.90 L401.80,761.00 L402.60,763.80 L403.80,763.20 L405.20,772.00 L407.10,786.40 L409.80,806.30 L412.40,822.20 L416.40,831.50 L420.40,834.40 L425.70,836.10 L428.30,837.40 Z" fill="#f7a04c" fill-opacity="0.68" stroke="#f08a30" stroke-width="0.8"/>
<line x1="338.20" y1="837.80" x2="338.20" y2="740.00" stroke="#000" stroke-width="1.8" />
<polygon points="334.50,741.80 341.90,741.80 338.20,733.60" fill="#000" stroke="none" stroke-width="0" />
<line x1="337.40" y1="837.80" x2="443.50" y2="837.80" stroke="#000" stroke-width="1.8" />
<polygon points="442.60,834.10 442.60,841.50 451.00,837.80" fill="#000" stroke="none" stroke-width="0" />
<text transform="translate(335.60,757.20) rotate(-90)" font-size="10.0" font-weight="normal" font-style="normal" text-anchor="middle" fill="#000" stroke="#000" stroke-width="0.180">counts</text>
<text x="342.40" y="755.90" font-size="9.9" font-weight="bold" font-style="normal" text-anchor="start" fill="#000" stroke="#000" stroke-width="0.178" >DMSO</text>
<text x="399.80" y="755.60" font-size="9.95" font-weight="bold" font-style="normal" text-anchor="start" fill="#000" stroke="#000" stroke-width="0.179" >LXR-623</text>
<text x="381.30" y="850.70" font-size="10.0" font-weight="bold" font-style="normal" text-anchor="start" fill="#000" stroke="#000" stroke-width="0.180" >SPiDER-βGal</text>
<text x="450.60" y="718.10" font-size="14.4" font-weight="bold" font-style="normal" text-anchor="start" fill="#000" stroke="#000" stroke-width="0.259" >P</text>
<text transform="translate(461.00,750.50) rotate(-90)" font-size="7.7" font-weight="bold" font-style="normal" text-anchor="middle" fill="#3db2bc" stroke="#3db2bc" stroke-width="0.139">β-Gal staining</text>
<text x="498.00" y="718.80" font-size="10.2" font-weight="bold" font-style="normal" text-anchor="middle" fill="#000" stroke="#000" stroke-width="0.184" >DMSO</text>
<text x="566.6" y="718.2" font-size="10.2" font-weight="bold" text-anchor="middle">H<tspan font-size="6.6" dy="2.2">2</tspan><tspan dy="-2.2">O</tspan><tspan font-size="6.6" dy="2.2">2</tspan></text>
<text x="636.00" y="718.80" font-size="10.1" font-weight="bold" font-style="normal" text-anchor="middle" fill="#000" stroke="#000" stroke-width="0.182" >LXR-623</text>
<g clip-path="url(#pc0)">
<rect x="463.00" y="722.00" width="68.60" height="127.50" fill="#eeefec" />
<rect x="463.00" y="722.00" width="68.60" height="127.50" fill="#000" filter="url(#pnoise)" opacity="0.32"/>
<circle cx="505.73" cy="816.58" r="0.48855806966970905" fill="#7a7e7a" stroke="none" stroke-width="0" />
<circle cx="520.65" cy="820.93" r="0.32471579681852736" fill="#7a7e7a" stroke="none" stroke-width="0" />
<circle cx="524.80" cy="736.43" r="0.39072071433464917" fill="#8a8e8a" stroke="none" stroke-width="0" />
<circle cx="489.12" cy="735.00" r="0.324799214332806" fill="#8a8e8a" stroke="none" stroke-width="0" />
<circle cx="491.00" cy="745.21" r="0.5102377282807056" fill="#a8aca8" stroke="none" stroke-width="0" />
<circle cx="473.95" cy="823.64" r="0.29163022551967094" fill="#a8aca8" stroke="none" stroke-width="0" />
<circle cx="471.69" cy="722.23" r="0.5114214234172847" fill="#8a8e8a" stroke="none" stroke-width="0" />
<circle cx="516.07" cy="844.42" r="0.29975693271847315" fill="#8a8e8a" stroke="none" stroke-width="0" />
<circle cx="482.85" cy="844.59" r="0.4117670406612432" fill="#8a8e8a" stroke="none" stroke-width="0" />
<circle cx="475.46" cy="845.49" r="0.3090637131778098" fill="#a8aca8" stroke="none" stroke-width="0" />
<circle cx="483.50" cy="768.05" r="0.2997868171389237" fill="#8a8e8a" stroke="none" stroke-width="0" />
<circle cx="481.10" cy="764.31" r="0.4952200932870284" fill="#7a7e7a" stroke="none" stroke-width="0" />
<circle cx="503.88" cy="812.23" r="0.26980673516532316" fill="#9a9e9a" stroke="none" stroke-width="0" />
<circle cx="519.15" cy="783.30" r="0.34473793175393325" fill="#a8aca8" stroke="none" stroke-width="0" />
<circle cx="495.42" cy="744.46" r="0.3268545507828136" fill="#7a7e7a" stroke="none" stroke-width="0" />
<circle cx="528.12" cy="767.60" r="0.3712882243500669" fill="#a8aca8" stroke="none" stroke-width="0" />
<circle cx="488.12" cy="795.76" r="0.2527235160458585" fill="#7a7e7a" stroke="none" stroke-width="0" />
<circle cx="511.55" cy="801.52" r="0.5363183428269365" fill="#7a7e7a" stroke="none" stroke-width="0" />
<circle cx="514.84" cy="840.53" r="0.5326131488283099" fill="#9a9e9a" stroke="none" stroke-width="0" />
<circle cx="498.16" cy="835.82" r="0.32526818687231024" fill="#a8aca8" stroke="none" stroke-width="0" />
<circle cx="470.41" cy="817.42" r="0.48916800327739984" fill="#9a9e9a" stroke="none" stroke-width="0" />
<circle cx="465.51" cy="842.59" r="0.2773539592515306" fill="#9a9e9a" stroke="none" stroke-width="0" />
<circle cx="498.18" cy="768.23" r="0.2944586903004934" fill="#9a9e9a" stroke="none" stroke-width="0" />
<circle cx="526.40" cy="791.51" r="0.3437351108028721" fill="#9a9e9a" stroke="none" stroke-width="0" />
<circle cx="484.00" cy="823.84" r="0.43804173055783224" fill="#9a9e9a" stroke="none" stroke-width="0" />
<circle cx="531.38" cy="742.60" r="0.2645656490645369" fill="#a8aca8" stroke="none" stroke-width="0" />
<circle cx="465.18" cy="816.42" r="0.3531498703948308" fill="#9a9e9a" stroke="none" stroke-width="0" />
<circle cx="494.26" cy="775.77" r="0.266712169302368" fill="#7a7e7a" stroke="none" stroke-width="0" />
<circle cx="517.99" cy="764.61" r="0.3121179673013951" fill="#8a8e8a" stroke="none" stroke-width="0" />
<circle cx="506.25" cy="822.47" r="0.2819891829091777" fill="#a8aca8" stroke="none" stroke-width="0" />
<circle cx="488.59" cy="729.49" r="0.3761937460932424" fill="#8a8e8a" stroke="none" stroke-width="0" />
<circle cx="494.09" cy="849.41" r="0.5056758012681228" fill="#a8aca8" stroke="none" stroke-width="0" />
<circle cx="528.87" cy="809.83" r="0.34531067567849705" fill="#9a9e9a" stroke="none" stroke-width="0" />
<circle cx="482.96" cy="773.48" r="0.29395190875059446" fill="#a8aca8" stroke="none" stroke-width="0" />
<circle cx="519.39" cy="789.80" r="0.30381886950201903" fill="#a8aca8" stroke="none" stroke-width="0" />
<circle cx="522.53" cy="744.97" r="0.3975586070246476" fill="#9a9e9a" stroke="none" stroke-width="0" />
<circle cx="467.33" cy="823.38" r="0.35670964202567207" fill="#7a7e7a" stroke="none" stroke-width="0" />
<circle cx="515.11" cy="768.34" r="0.4613408722020109" fill="#9a9e9a" stroke="none" stroke-width="0" />
<circle cx="520.30" cy="755.77" r="0.5442869857494897" fill="#9a9e9a" stroke="none" stroke-width="0" />
<circle cx="528.64" cy="765.36" r="0.3035948177739847" fill="#7a7e7a" stroke="none" stroke-width="0" />
<circle cx="495.54" cy="820.65" r="0.3477714799455768" fill="#9a9e9a" stroke="none" stroke-width="0" />
<circle cx="494.76" cy="826.13" r="0.44423108325966776" fill="#9a9e9a" stroke="none" stroke-width="0" />
<circle cx="486.86" cy="804.12" r="0.471348205814172" fill="#a8aca8" stroke="none" stroke-width="0" />
<circle cx="487.01" cy="829.47" r="0.5109733757383483" fill="#a8aca8" stroke="none" stroke-width="0" />
<circle cx="529.96" cy="843.96" r="0.40544182913420695" fill="#8a8e8a" stroke="none" stroke-width="0" />
<circle cx="476.63" cy="768.16" r="0.5061564381656921" fill="#9a9e9a" stroke="none" stroke-width="0" />
<circle cx="510.43" cy="813.76" r="0.4691060276701302" fill="#8a8e8a" stroke="none" stroke-width="0" />
<circle cx="505.31" cy="841.37" r="0.4049365557705378" fill="#a8aca8" stroke="none" stroke-width="0" />
<circle cx="483.76" cy="792.53" r="0.5101384415556491" fill="#9a9e9a" stroke="none" stroke-width="0" />
<circle cx="512.42" cy="725.52" r="0.29800692033718873" fill="#a8aca8" stroke="none" stroke-width="0" />
<circle cx="505.81" cy="745.04" r="0.47769914646288136" fill="#8a8e8a" stroke="none" stroke-width="0" />
<circle cx="506.28" cy="727.34" r="0.39147565136796225" fill="#8a8e8a" stroke="none" stroke-width="0" />
<circle cx="474.37" cy="835.71" r="0.2832486502468977" fill="#8a8e8a" stroke="none" stroke-width="0" />
<circle cx="496.11" cy="791.91" r="0.37464693218170886" fill="#9a9e9a" stroke="none" stroke-width="0" />
<circle cx="489.09" cy="800.00" r="0.4270493206479391" fill="#8a8e8a" stroke="none" stroke-width="0" />
<circle cx="512.26" cy="769.69" r="0.3551561148584837" fill="#9a9e9a" stroke="none" stroke-width="0" />
<circle cx="521.71" cy="832.47" r="0.456656604628347" fill="#9a9e9a" stroke="none" stroke-width="0" />
<circle cx="529.16" cy="792.12" r="0.3404147336516269" fill="#9a9e9a" stroke="none" stroke-width="0" />
<circle cx="500.40" cy="765.27" r="0.42426887145606834" fill="#9a9e9a" stroke="none" stroke-width="0" />
<circle cx="519.15" cy="775.44" r="0.49389695502203734" fill="#9a9e9a" stroke="none" stroke-width="0" />
<circle cx="495.07" cy="741.99" r="0.36482390961913574" fill="#a8aca8" stroke="none" stroke-width="0" />
<circle cx="528.66" cy="845.42" r="0.43258296793139994" fill="#9a9e9a" stroke="none" stroke-width="0" />
<circle cx="519.34" cy="806.36" r="0.36455614590924607" fill="#9a9e9a" stroke="none" stroke-width="0" />
<circle cx="501.81" cy="800.43" r="0.2922101452770229" fill="#a8aca8" stroke="none" stroke-width="0" />
<circle cx="492.44" cy="846.53" r="0.3980230606157212" fill="#a8aca8" stroke="none" stroke-width="0" />
<circle cx="529.71" cy="770.42" r="0.538341729018758" fill="#8a8e8a" stroke="none" stroke-width="0" />
<circle cx="503.87" cy="755.13" r="0.544294168727404" fill="#a8aca8" stroke="none" stroke-width="0" />
<circle cx="480.22" cy="724.51" r="0.5335528194552881" fill="#9a9e9a" stroke="none" stroke-width="0" />
<circle cx="496.73" cy="758.52" r="0.3930807099277711" fill="#7a7e7a" stroke="none" stroke-width="0" />
<circle cx="508.28" cy="844.51" r="0.3236500917965988" fill="#7a7e7a" stroke="none" stroke-width="0" />
<circle cx="516.63" cy="827.42" r="0.253960988999076" fill="#9a9e9a" stroke="none" stroke-width="0" />
<circle cx="479.70" cy="782.47" r="0.26102888192011453" fill="#a8aca8" stroke="none" stroke-width="0" />
<circle cx="481.36" cy="741.73" r="0.5466475612351194" fill="#9a9e9a" stroke="none" stroke-width="0" />
<circle cx="496.77" cy="848.54" r="0.4054657175649925" fill="#7a7e7a" stroke="none" stroke-width="0" />
<circle cx="464.11" cy="738.07" r="0.3347042334083421" fill="#9a9e9a" stroke="none" stroke-width="0" />
<circle cx="505.09" cy="815.24" r="0.25798474952057765" fill="#9a9e9a" stroke="none" stroke-width="0" />
<circle cx="487.77" cy="816.99" r="0.4272414091210357" fill="#7a7e7a" stroke="none" stroke-width="0" />
<circle cx="463.19" cy="792.54" r="0.45571986567208145" fill="#7a7e7a" stroke="none" stroke-width="0" />
<circle cx="523.91" cy="791.56" r="0.25436815491990117" fill="#a8aca8" stroke="none" stroke-width="0" />
<circle cx="503.81" cy="809.85" r="0.5359803497021691" fill="#a8aca8" stroke="none" stroke-width="0" />
<circle cx="521.91" cy="829.25" r="0.3927159169134476" fill="#8a8e8a" stroke="none" stroke-width="0" />
<circle cx="524.66" cy="781.30" r="0.47745901808005786" fill="#9a9e9a" stroke="none" stroke-width="0" />
<circle cx="520.37" cy="810.56" r="0.3798460302847161" fill="#9a9e9a" stroke="none" stroke-width="0" />
<circle cx="507.48" cy="782.24" r="0.34328519808355906" fill="#8a8e8a" stroke="none" stroke-width="0" />
<circle cx="495.82" cy="792.01" r="0.39930457690266186" fill="#9a9e9a" stroke="none" stroke-width="0" />
<circle cx="499.90" cy="776.26" r="0.41242186832090405" fill="#7a7e7a" stroke="none" stroke-width="0" />
<circle cx="467.69" cy="751.33" r="0.4958781207021986" fill="#7a7e7a" stroke="none" stroke-width="0" />
<circle cx="508.52" cy="725.26" r="0.4667795757114951" fill="#7a7e7a" stroke="none" stroke-width="0" />
<circle cx="531.49" cy="811.41" r="0.2646678770856001" fill="#7a7e7a" stroke="none" stroke-width="0" />
<circle cx="478.04" cy="804.33" r="0.535673503826162" fill="#8a8e8a" stroke="none" stroke-width="0" />
<circle cx="531.19" cy="811.99" r="0.38139112029164285" fill="#8a8e8a" stroke="none" stroke-width="0" />
<circle cx="504.89" cy="774.78" r="0.29835396796590374" fill="#8a8e8a" stroke="none" stroke-width="0" />
<circle cx="465.99" cy="735.80" r="0.36375971677644414" fill="#7a7e7a" stroke="none" stroke-width="0" />
<circle cx="482.20" cy="794.82" r="0.2855062218211687" fill="#a8aca8" stroke="none" stroke-width="0" />
<circle cx="523.26" cy="739.13" r="0.37950115075283747" fill="#9a9e9a" stroke="none" stroke-width="0" />
<circle cx="510.02" cy="784.40" r="0.3560208691772923" fill="#9a9e9a" stroke="none" stroke-width="0" />
<circle cx="525.75" cy="739.62" r="0.3384172726074812" fill="#9a9e9a" stroke="none" stroke-width="0" />
<circle cx="525.45" cy="792.75" r="0.4362633479101746" fill="#9a9e9a" stroke="none" stroke-width="0" />
<circle cx="467.33" cy="752.04" r="0.49978237915913454" fill="#9a9e9a" stroke="none" stroke-width="0" />
<circle cx="498.47" cy="739.06" r="0.3203260940242617" fill="#9a9e9a" stroke="none" stroke-width="0" />
<circle cx="494.10" cy="771.59" r="0.2893548430054552" fill="#7a7e7a" stroke="none" stroke-width="0" />
<circle cx="507.93" cy="732.87" r="0.4503859647421827" fill="#7a7e7a" stroke="none" stroke-width="0" />
<circle cx="522.23" cy="786.57" r="0.3860503902403677" fill="#a8aca8" stroke="none" stroke-width="0" />
<circle cx="523.16" cy="783.26" r="0.346985870840193" fill="#7a7e7a" stroke="none" stroke-width="0" />
<circle cx="500.19" cy="771.04" r="0.5044729623588944" fill="#a8aca8" stroke="none" stroke-width="0" />
<circle cx="509.72" cy="750.44" r="0.2848233321691538" fill="#a8aca8" stroke="none" stroke-width="0" />
<circle cx="519.29" cy="739.82" r="0.4374392421004236" fill="#9a9e9a" stroke="none" stroke-width="0" />
<circle cx="520.34" cy="758.95" r="0.5291620022365988" fill="#9a9e9a" stroke="none" stroke-width="0" />
<circle cx="517.61" cy="770.21" r="0.46681675649680315" fill="#9a9e9a" stroke="none" stroke-width="0" />
<circle cx="507.45" cy="824.57" r="0.38001834965031" fill="#9a9e9a" stroke="none" stroke-width="0" />
<circle cx="498.50" cy="797.56" r="0.42197753611552913" fill="#8a8e8a" stroke="none" stroke-width="0" />
<circle cx="490.13" cy="734.37" r="0.259949677108992" fill="#8a8e8a" stroke="none" stroke-width="0" />
<circle cx="476.42" cy="784.48" r="0.531135318758321" fill="#9a9e9a" stroke="none" stroke-width="0" />
<circle cx="463.03" cy="781.95" r="0.51693306550668" fill="#a8aca8" stroke="none" stroke-width="0" />
<circle cx="485.18" cy="780.89" r="0.30748057549001256" fill="#8a8e8a" stroke="none" stroke-width="0" />
<circle cx="467.88" cy="832.81" r="0.510674944252542" fill="#a8aca8" stroke="none" stroke-width="0" />
<circle cx="473.44" cy="754.39" r="0.3332294974142892" fill="#8a8e8a" stroke="none" stroke-width="0" />
<circle cx="514.48" cy="807.68" r="0.25994591820695084" fill="#7a7e7a" stroke="none" stroke-width="0" />
<circle cx="486.62" cy="817.88" r="0.3448194681211011" fill="#7a7e7a" stroke="none" stroke-width="0" />
<circle cx="510.18" cy="807.91" r="0.39151952307402627" fill="#8a8e8a" stroke="none" stroke-width="0" />
<circle cx="471.09" cy="807.24" r="0.33733020079257714" fill="#8a8e8a" stroke="none" stroke-width="0" />
<circle cx="513.03" cy="742.81" r="0.31030673097403416" fill="#7a7e7a" stroke="none" stroke-width="0" />
<circle cx="502.43" cy="805.70" r="0.4352744491422268" fill="#9a9e9a" stroke="none" stroke-width="0" />
<circle cx="509.68" cy="745.52" r="0.358438011891715" fill="#7a7e7a" stroke="none" stroke-width="0" />
<circle cx="513.24" cy="813.54" r="0.2990059631522938" fill="#8a8e8a" stroke="none" stroke-width="0" />
<circle cx="475.05" cy="748.62" r="0.26317632640720967" fill="#a8aca8" stroke="none" stroke-width="0" />
<circle cx="512.83" cy="756.52" r="0.38857429264679594" fill="#a8aca8" stroke="none" stroke-width="0" />
<circle cx="516.46" cy="774.30" r="0.2634844974426992" fill="#9a9e9a" stroke="none" stroke-width="0" />
<circle cx="527.45" cy="813.36" r="0.3210985412421643" fill="#a8aca8" stroke="none" stroke-width="0" />
<circle cx="469.31" cy="782.09" r="0.454837247528427" fill="#7a7e7a" stroke="none" stroke-width="0" />
<circle cx="497.12" cy="821.65" r="0.26437031981817644" fill="#a8aca8" stroke="none" stroke-width="0" />
<circle cx="493.59" cy="803.66" r="0.5125253089612825" fill="#8a8e8a" stroke="none" stroke-width="0" />
<circle cx="475.31" cy="786.85" r="0.37070725602222726" fill="#8a8e8a" stroke="none" stroke-width="0" />
<circle cx="468.79" cy="762.02" r="0.28239412476156467" fill="#8a8e8a" stroke="none" stroke-width="0" />
<circle cx="504.04" cy="831.24" r="0.314322927500937" fill="#7a7e7a" stroke="none" stroke-width="0" />
<circle cx="493.27" cy="767.60" r="0.3769541909651951" fill="#a8aca8" stroke="none" stroke-width="0" />
<circle cx="498.83" cy="738.92" r="0.25370595659240786" fill="#9a9e9a" stroke="none" stroke-width="0" />
<circle cx="510.24" cy="835.67" r="0.5499046680867081" fill="#7a7e7a" stroke="none" stroke-width="0" />
<circle cx="472.52" cy="783.61" r="0.4839716734865419" fill="#9a9e9a" stroke="none" stroke-width="0" />
<circle cx="519.21" cy="761.89" r="0.28894405782988547" fill="#7a7e7a" stroke="none" stroke-width="0" />
<circle cx="495.35" cy="810.89" r="0.48964273429360267" fill="#8a8e8a" stroke="none" stroke-width="0" />
<circle cx="481.92" cy="784.81" r="0.32463296215541165" fill="#8a8e8a" stroke="none" stroke-width="0" />
<circle cx="517.62" cy="834.54" r="0.5156589651820012" fill="#7a7e7a" stroke="none" stroke-width="0" />
<circle cx="491.85" cy="762.03" r="0.4756951610056952" fill="#7a7e7a" stroke="none" stroke-width="0" />
<circle cx="524.47" cy="805.40" r="0.4779156129022164" fill="#7a7e7a" stroke="none" stroke-width="0" />
<circle cx="493.33" cy="826.14" r="0.4466375703692591" fill="#7a7e7a" stroke="none" stroke-width="0" />
<circle cx="512.94" cy="811.40" r="0.33030845844716694" fill="#a8aca8" stroke="none" stroke-width="0" />
<circle cx="501.55" cy="762.96" r="0.3419333938569488" fill="#8a8e8a" stroke="none" stroke-width="0" />
<circle cx="481.01" cy="808.18" r="0.33565635837771535" fill="#7a7e7a" stroke="none" stroke-width="0" />
<circle cx="500.21" cy="816.22" r="0.25836786186875166" fill="#7a7e7a" stroke="none" stroke-width="0" />
<circle cx="466.47" cy="738.59" r="0.35714451470066993" fill="#9a9e9a" stroke="none" stroke-width="0" />
<circle cx="528.12" cy="800.03" r="0.3193291430043526" fill="#a8aca8" stroke="none" stroke-width="0" />
<circle cx="471.60" cy="747.65" r="0.35747303294937144" fill="#8a8e8a" stroke="none" stroke-width="0" />
<circle cx="503.09" cy="827.43" r="0.46804994713426384" fill="#7a7e7a" stroke="none" stroke-width="0" />
<circle cx="481.40" cy="799.26" r="0.43917036066077875" fill="#8a8e8a" stroke="none" stroke-width="0" />
<circle cx="493.61" cy="841.66" r="0.4884327093425183" fill="#7a7e7a" stroke="none" stroke-width="0" />
<circle cx="485.88" cy="778.84" r="0.3184877115361328" fill="#a8aca8" stroke="none" stroke-width="0" />
<circle cx="474.77" cy="728.17" r="0.4503946638173527" fill="#8a8e8a" stroke="none" stroke-width="0" />
<circle cx="499.54" cy="845.63" r="0.42880465165141557" fill="#7a7e7a" stroke="none" stroke-width="0" />
<circle cx="471.70" cy="830.44" r="0.45564945128331624" fill="#8a8e8a" stroke="none" stroke-width="0" />
<circle cx="530.09" cy="726.19" r="0.4230972220804352" fill="#a8aca8" stroke="none" stroke-width="0" />
<circle cx="511.37" cy="767.17" r="0.3892569978884305" fill="#8a8e8a" stroke="none" stroke-width="0" />
<circle cx="482.01" cy="747.65" r="0.4187297594155914" fill="#9a9e9a" stroke="none" stroke-width="0" />
<circle cx="515.45" cy="822.12" r="0.3599949494416361" fill="#8a8e8a" stroke="none" stroke-width="0" />
<circle cx="518.86" cy="806.55" r="0.522525276653098" fill="#7a7e7a" stroke="none" stroke-width="0" />
<circle cx="505.41" cy="773.11" r="0.29291624533271676" fill="#8a8e8a" stroke="none" stroke-width="0" />
<circle cx="496.62" cy="726.81" r="0.3008668163351518" fill="#7a7e7a" stroke="none" stroke-width="0" />
<circle cx="514.70" cy="757.88" r="0.5262622494980329" fill="#9a9e9a" stroke="none" stroke-width="0" />
<circle cx="495.73" cy="781.94" r="0.41012960737147197" fill="#7a7e7a" stroke="none" stroke-width="0" />
<circle cx="517.91" cy="770.00" r="0.25302463793055335" fill="#8a8e8a" stroke="none" stroke-width="0" />
<circle cx="518.79" cy="724.83" r="0.453378827185294" fill="#9a9e9a" stroke="none" stroke-width="0" />
<circle cx="498.23" cy="785.90" r="0.41369650297615" fill="#a8aca8" stroke="none" stroke-width="0" />
<circle cx="493.85" cy="822.42" r="0.42381426302467673" fill="#7a7e7a" stroke="none" stroke-width="0" />
<circle cx="499.82" cy="823.83" r="0.35883928528050446" fill="#7a7e7a" stroke="none" stroke-width="0" />
<circle cx="509.61" cy="788.58" r="0.335251656069745" fill="#7a7e7a" stroke="none" stroke-width="0" />
<circle cx="464.88" cy="820.65" r="0.43320525716333735" fill="#a8aca8" stroke="none" stroke-width="0" />
<circle cx="484.05" cy="840.47" r="0.3323797179666178" fill="#8a8e8a" stroke="none" stroke-width="0" />
<circle cx="467.94" cy="818.06" r="0.45098230904752795" fill="#9a9e9a" stroke="none" stroke-width="0" />
<circle cx="524.54" cy="809.68" r="0.5014763823125987" fill="#8a8e8a" stroke="none" stroke-width="0" />
<circle cx="496.14" cy="733.72" r="0.2863198665658063" fill="#9a9e9a" stroke="none" stroke-width="0" />
<circle cx="529.86" cy="791.35" r="0.36802292086720567" fill="#7a7e7a" stroke="none" stroke-width="0" />
<circle cx="509.04" cy="770.19" r="0.47524040561860825" fill="#8a8e8a" stroke="none" stroke-width="0" />
<circle cx="525.44" cy="800.23" r="0.3659992798959094" fill="#7a7e7a" stroke="none" stroke-width="0" />
<circle cx="520.84" cy="835.38" r="0.4564992771638813" fill="#9a9e9a" stroke="none" stroke-width="0" />
<circle cx="480.08" cy="734.76" r="0.3381571232652213" fill="#9a9e9a" stroke="none" stroke-width="0" />
<circle cx="517.69" cy="731.94" r="0.5351464208232355" fill="#7a7e7a" stroke="none" stroke-width="0" />
<circle cx="506.41" cy="819.73" r="0.31739462015600417" fill="#7a7e7a" stroke="none" stroke-width="0" />
<circle cx="502.10" cy="801.87" r="0.4419792641965704" fill="#a8aca8" stroke="none" stroke-width="0" />
<circle cx="491.60" cy="776.24" r="0.4086309140836216" fill="#8a8e8a" stroke="none" stroke-width="0" />
<circle cx="483.74" cy="757.80" r="0.4316105214269712" fill="#9a9e9a" stroke="none" stroke-width="0" />
<circle cx="475.84" cy="725.89" r="0.28467889792246187" fill="#8a8e8a" stroke="none" stroke-width="0" />
<circle cx="492.76" cy="763.57" r="0.2806940145336656" fill="#9a9e9a" stroke="none" stroke-width="0" />
<circle cx="513.00" cy="729.83" r="0.39540907994890484" fill="#7a7e7a" stroke="none" stroke-width="0" />
<circle cx="484.85" cy="830.42" r="0.44355439927606927" fill="#8a8e8a" stroke="none" stroke-width="0" />
<circle cx="524.29" cy="800.45" r="0.4893462474868664" fill="#7a7e7a" stroke="none" stroke-width="0" />
<circle cx="463.11" cy="807.73" r="0.28348034343010897" fill="#9a9e9a" stroke="none" stroke-width="0" />
<circle cx="473.42" cy="800.51" r="0.28147030824789526" fill="#a8aca8" stroke="none" stroke-width="0" />
<circle cx="513.50" cy="826.09" r="0.49111428748749586" fill="#7a7e7a" stroke="none" stroke-width="0" />
<circle cx="488.06" cy="825.81" r="0.3086482328319956" fill="#9a9e9a" stroke="none" stroke-width="0" />
<circle cx="488.69" cy="780.48" r="0.4541500873592571" fill="#7a7e7a" stroke="none" stroke-width="0" />
<circle cx="479.87" cy="842.03" r="0.3897996046584441" fill="#7a7e7a" stroke="none" stroke-width="0" />
<circle cx="471.06" cy="798.13" r="0.3623233589516835" fill="#7a7e7a" stroke="none" stroke-width="0" />
<circle cx="496.99" cy="844.74" r="0.5335086831653701" fill="#7a7e7a" stroke="none" stroke-width="0" />
<circle cx="496.66" cy="841.55" r="0.463705160385209" fill="#7a7e7a" stroke="none" stroke-width="0" />
<circle cx="471.02" cy="783.07" r="0.3562417933738275" fill="#8a8e8a" stroke="none" stroke-width="0" />
<circle cx="526.00" cy="770.72" r="0.33717772269039964" fill="#a8aca8" stroke="none" stroke-width="0" />
<circle cx="507.07" cy="819.68" r="0.2765815062277332" fill="#7a7e7a" stroke="none" stroke-width="0" />
<circle cx="483.30" cy="764.96" r="0.5044040785653401" fill="#a8aca8" stroke="none" stroke-width="0" />
<circle cx="466.46" cy="775.65" r="0.32135123969106283" fill="#7a7e7a" stroke="none" stroke-width="0" />
<circle cx="473.00" cy="845.35" r="0.41600421475818106" fill="#a8aca8" stroke="none" stroke-width="0" />
<circle cx="530.55" cy="791.02" r="0.3658859957504672" fill="#8a8e8a" stroke="none" stroke-width="0" />
<circle cx="469.30" cy="767.36" r="0.49323401246285054" fill="#7a7e7a" stroke="none" stroke-width="0" />
<circle cx="519.11" cy="739.95" r="0.4931873016426143" fill="#7a7e7a" stroke="none" stroke-width="0" />
<circle cx="480.21" cy="780.42" r="0.3648453523251802" fill="#7a7e7a" stroke="none" stroke-width="0" />
<circle cx="466.64" cy="749.87" r="0.5422907452363002" fill="#a8aca8" stroke="none" stroke-width="0" />
<circle cx="463.84" cy="788.20" r="0.5368329158704588" fill="#a8aca8" stroke="none" stroke-width="0" />
<circle cx="497.84" cy="728.76" r="0.3678147586529073" fill="#a8aca8" stroke="none" stroke-width="0" />
<circle cx="522.01" cy="841.83" r="0.4483050368244951" fill="#7a7e7a" stroke="none" stroke-width="0" />
<circle cx="477.79" cy="775.76" r="0.46697871628386245" fill="#a8aca8" stroke="none" stroke-width="0" />
<circle cx="525.79" cy="770.26" r="0.5497150908760458" fill="#8a8e8a" stroke="none" stroke-width="0" />
<circle cx="524.18" cy="740.90" r="0.48427517084197796" fill="#a8aca8" stroke="none" stroke-width="0" />
<circle cx="520.23" cy="731.78" r="0.3608497400955047" fill="#a8aca8" stroke="none" stroke-width="0" />
<circle cx="491.91" cy="756.54" r="0.3909511037843243" fill="#9a9e9a" stroke="none" stroke-width="0" />
<circle cx="463.16" cy="802.76" r="0.48078049831664105" fill="#a8aca8" stroke="none" stroke-width="0" />
<circle cx="468.28" cy="809.65" r="0.2607744557352431" fill="#a8aca8" stroke="none" stroke-width="0" />
<circle cx="523.73" cy="747.06" r="0.2555446082666981" fill="#a8aca8" stroke="none" stroke-width="0" />
<circle cx="528.91" cy="798.36" r="0.29090059727763395" fill="#8a8e8a" stroke="none" stroke-width="0" />
<circle cx="468.30" cy="768.52" r="0.43568029559649535" fill="#7a7e7a" stroke="none" stroke-width="0" />
<circle cx="475.68" cy="776.70" r="0.33000957548175897" fill="#9a9e9a" stroke="none" stroke-width="0" />
<circle cx="485.92" cy="749.36" r="0.3381353151462688" fill="#7a7e7a" stroke="none" stroke-width="0" />
<circle cx="482.46" cy="735.49" r="0.36982822278512006" fill="#9a9e9a" stroke="none" stroke-width="0" />
<circle cx="488.29" cy="782.90" r="0.4245105477646661" fill="#8a8e8a" stroke="none" stroke-width="0" />
<circle cx="529.20" cy="739.91" r="0.25525697219078836" fill="#7a7e7a" stroke="none" stroke-width="0" />
<circle cx="513.18" cy="739.03" r="0.3943458467685326" fill="#7a7e7a" stroke="none" stroke-width="0" />
<circle cx="463.56" cy="820.32" r="0.3756559429297359" fill="#8a8e8a" stroke="none" stroke-width="0" />
<circle cx="517.39" cy="729.15" r="0.40016453393963336" fill="#7a7e7a" stroke="none" stroke-width="0" />
<circle cx="510.49" cy="834.73" r="0.48295596172228006" fill="#9a9e9a" stroke="none" stroke-width="0" />
<circle cx="493.16" cy="735.07" r="0.2870262859570809" fill="#9a9e9a" stroke="none" stroke-width="0" />
<circle cx="502.01" cy="757.15" r="0.42492934227875245" fill="#a8aca8" stroke="none" stroke-width="0" />
<circle cx="530.78" cy="760.48" r="0.299993364343513" fill="#7a7e7a" stroke="none" stroke-width="0" />
<circle cx="507.22" cy="729.04" r="0.3136185657875405" fill="#a8aca8" stroke="none" stroke-width="0" />
<circle cx="469.75" cy="787.46" r="0.49522753183184387" fill="#9a9e9a" stroke="none" stroke-width="0" />
<circle cx="519.92" cy="739.60" r="0.35528970821908246" fill="#a8aca8" stroke="none" stroke-width="0" />
<circle cx="463.26" cy="794.00" r="0.4200485388650149" fill="#7a7e7a" stroke="none" stroke-width="0" />
<circle cx="467.10" cy="733.21" r="0.3526307267365161" fill="#8a8e8a" stroke="none" stroke-width="0" />
<circle cx="488.67" cy="765.45" r="0.49453987987878134" fill="#a8aca8" stroke="none" stroke-width="0" />
<circle cx="516.76" cy="816.50" r="0.3286321831897069" fill="#7a7e7a" stroke="none" stroke-width="0" />
<circle cx="505.92" cy="771.55" r="0.43864320841996995" fill="#8a8e8a" stroke="none" stroke-width="0" />
<circle cx="511.16" cy="797.48" r="0.5125703217952885" fill="#8a8e8a" stroke="none" stroke-width="0" />
<circle cx="503.74" cy="794.12" r="0.5205059932315284" fill="#9a9e9a" stroke="none" stroke-width="0" />
<circle cx="501.50" cy="723.23" r="0.2629879259178152" fill="#a8aca8" stroke="none" stroke-width="0" />
<circle cx="509.24" cy="804.82" r="0.25780046639335563" fill="#a8aca8" stroke="none" stroke-width="0" />
<circle cx="471.06" cy="813.94" r="0.43339708844433233" fill="#8a8e8a" stroke="none" stroke-width="0" />
<circle cx="499.80" cy="810.76" r="0.4617325381875954" fill="#7a7e7a" stroke="none" stroke-width="0" />
<circle cx="465.92" cy="813.26" r="0.3411530263324226" fill="#7a7e7a" stroke="none" stroke-width="0" />
<circle cx="528.61" cy="808.67" r="0.33200710591790883" fill="#a8aca8" stroke="none" stroke-width="0" />
<circle cx="514.76" cy="754.98" r="0.33959278456655584" fill="#7a7e7a" stroke="none" stroke-width="0" />
<circle cx="523.29" cy="763.16" r="0.4472792265608162" fill="#a8aca8" stroke="none" stroke-width="0" />
<circle cx="494.94" cy="741.82" r="0.3149209892974792" fill="#9a9e9a" stroke="none" stroke-width="0" />
<circle cx="484.58" cy="799.99" r="0.3872854555134545" fill="#8a8e8a" stroke="none" stroke-width="0" />
<circle cx="487.20" cy="732.09" r="0.37756068282817035" fill="#a8aca8" stroke="none" stroke-width="0" />
<circle cx="474.99" cy="739.70" r="0.39736170583173225" fill="#a8aca8" stroke="none" stroke-width="0" />
<circle cx="527.16" cy="765.87" r="0.2551162804925248" fill="#a8aca8" stroke="none" stroke-width="0" />
<circle cx="481.37" cy="784.95" r="0.4108344546353645" fill="#8a8e8a" stroke="none" stroke-width="0" />
<circle cx="501.09" cy="806.45" r="0.3758825634843147" fill="#9a9e9a" stroke="none" stroke-width="0" />
<circle cx="520.34" cy="759.43" r="0.28234755962210584" fill="#9a9e9a" stroke="none" stroke-width="0" />
<circle cx="492.18" cy="829.87" r="0.40487614482178735" fill="#a8aca8" stroke="none" stroke-width="0" />
<circle cx="506.18" cy="803.68" r="0.5368643257321439" fill="#7a7e7a" stroke="none" stroke-width="0" />
<circle cx="510.31" cy="736.09" r="0.2787838289952736" fill="#9a9e9a" stroke="none" stroke-width="0" />
<circle cx="520.92" cy="796.27" r="0.26495255926943906" fill="#a8aca8" stroke="none" stroke-width="0" />
<circle cx="474.81" cy="764.67" r="0.4797536907956219" fill="#7a7e7a" stroke="none" stroke-width="0" />
<circle cx="491.01" cy="763.99" r="0.27877776766999707" fill="#7a7e7a" stroke="none" stroke-width="0" />
<circle cx="483.08" cy="764.98" r="0.5496735346384594" fill="#a8aca8" stroke="none" stroke-width="0" />
<circle cx="467.30" cy="760.43" r="0.30404317685822996" fill="#7a7e7a" stroke="none" stroke-width="0" />
<circle cx="517.23" cy="836.28" r="0.4019129099099694" fill="#7a7e7a" stroke="none" stroke-width="0" />
<circle cx="494.68" cy="731.14" r="0.3765149713163366" fill="#9a9e9a" stroke="none" stroke-width="0" />
<circle cx="507.70" cy="808.91" r="0.3469885861870099" fill="#9a9e9a" stroke="none" stroke-width="0" />
<circle cx="527.89" cy="781.43" r="0.2808253724206235" fill="#8a8e8a" stroke="none" stroke-width="0" />
<circle cx="470.88" cy="790.52" r="0.2751111998886545" fill="#a8aca8" stroke="none" stroke-width="0" />
<circle cx="493.01" cy="756.70" r="0.41528023508317513" fill="#a8aca8" stroke="none" stroke-width="0" />
<circle cx="465.69" cy="834.45" r="0.5444151913782278" fill="#8a8e8a" stroke="none" stroke-width="0" />
<circle cx="489.19" cy="802.82" r="0.5256192703364663" fill="#9a9e9a" stroke="none" stroke-width="0" />
<circle cx="523.47" cy="812.72" r="0.271353627308036" fill="#9a9e9a" stroke="none" stroke-width="0" />
<circle cx="466.68" cy="841.72" r="0.38979827904643904" fill="#a8aca8" stroke="none" stroke-width="0" />
<circle cx="500.93" cy="823.73" r="0.440661295131231" fill="#9a9e9a" stroke="none" stroke-width="0" />
<circle cx="482.49" cy="816.88" r="0.326870473004921" fill="#a8aca8" stroke="none" stroke-width="0" />
<circle cx="490.71" cy="812.53" r="0.27950263649418117" fill="#8a8e8a" stroke="none" stroke-width="0" />
<circle cx="494.36" cy="843.14" r="0.4807111943571729" fill="#a8aca8" stroke="none" stroke-width="0" />
<circle cx="531.43" cy="739.01" r="0.3003107748387321" fill="#7a7e7a" stroke="none" stroke-width="0" />
<circle cx="512.35" cy="754.77" r="0.38918959317498214" fill="#8a8e8a" stroke="none" stroke-width="0" />
<circle cx="518.01" cy="783.43" r="0.3393838522889787" fill="#9a9e9a" stroke="none" stroke-width="0" />
<circle cx="506.06" cy="810.96" r="0.4127544396831202" fill="#7a7e7a" stroke="none" stroke-width="0" />
<circle cx="477.18" cy="725.03" r="0.4232837615722015" fill="#a8aca8" stroke="none" stroke-width="0" />
<circle cx="506.84" cy="784.31" r="0.5121104594796488" fill="#9a9e9a" stroke="none" stroke-width="0" />
<circle cx="504.53" cy="729.38" r="0.33658922865873203" fill="#a8aca8" stroke="none" stroke-width="0" />
<circle cx="483.18" cy="769.23" r="0.48192936210686976" fill="#9a9e9a" stroke="none" stroke-width="0" />
<circle cx="507.94" cy="818.52" r="0.4684884995955867" fill="#7a7e7a" stroke="none" stroke-width="0" />
<circle cx="496.44" cy="742.35" r="0.5390730400079438" fill="#a8aca8" stroke="none" stroke-width="0" />
<circle cx="508.37" cy="775.65" r="0.5013011707174526" fill="#a8aca8" stroke="none" stroke-width="0" />
<circle cx="486.31" cy="815.31" r="0.4015458851930027" fill="#7a7e7a" stroke="none" stroke-width="0" />
<circle cx="473.93" cy="785.05" r="0.2503632572420526" fill="#a8aca8" stroke="none" stroke-width="0" />
<circle cx="515.93" cy="828.73" r="0.26295174411096334" fill="#7a7e7a" stroke="none" stroke-width="0" />
<circle cx="495.83" cy="737.24" r="0.3107722114823432" fill="#8a8e8a" stroke="none" stroke-width="0" />
<circle cx="521.49" cy="752.37" r="0.49873627662526876" fill="#7a7e7a" stroke="none" stroke-width="0" />
<circle cx="489.40" cy="804.20" r="0.3187019891565984" fill="#9a9e9a" stroke="none" stroke-width="0" />
<circle cx="526.12" cy="748.14" r="0.32076275255100895" fill="#7a7e7a" stroke="none" stroke-width="0" />
<circle cx="514.00" cy="786.23" r="0.38045952301216307" fill="#9a9e9a" stroke="none" stroke-width="0" />
<circle cx="478.30" cy="733.96" r="0.4172725959049583" fill="#a8aca8" stroke="none" stroke-width="0" />
<circle cx="516.82" cy="814.64" r="0.5175450837473847" fill="#7a7e7a" stroke="none" stroke-width="0" />
<circle cx="473.12" cy="729.25" r="0.2543429773812026" fill="#8a8e8a" stroke="none" stroke-width="0" />
<circle cx="470.29" cy="780.41" r="0.3815284980062832" fill="#a8aca8" stroke="none" stroke-width="0" />
<circle cx="495.70" cy="788.53" r="0.257439338645174" fill="#a8aca8" stroke="none" stroke-width="0" />
<circle cx="520.27" cy="800.29" r="0.4648034056462318" fill="#8a8e8a" stroke="none" stroke-width="0" />
<circle cx="464.39" cy="834.78" r="0.5468567695522384" fill="#8a8e8a" stroke="none" stroke-width="0" />
<circle cx="529.43" cy="810.80" r="0.31029146783084205" fill="#9a9e9a" stroke="none" stroke-width="0" />
<circle cx="523.89" cy="743.95" r="0.3686763674094392" fill="#7a7e7a" stroke="none" stroke-width="0" />
<circle cx="492.41" cy="760.25" r="0.4686364700008525" fill="#a8aca8" stroke="none" stroke-width="0" />
<circle cx="489.85" cy="820.41" r="0.28433375484008294" fill="#a8aca8" stroke="none" stroke-width="0" />
<circle cx="510.28" cy="749.67" r="0.37078622408232276" fill="#a8aca8" stroke="none" stroke-width="0" />
<circle cx="473.11" cy="844.52" r="0.3321725497894906" fill="#8a8e8a" stroke="none" stroke-width="0" />
<line x1="514.69" y1="825.33" x2="506.45" y2="838.05" stroke="#b4b8b4" stroke-width="0.45" />
<line x1="527.11" y1="835.61" x2="518.36" y2="842.26" stroke="#b4b8b4" stroke-width="0.45" />
<line x1="515.05" y1="803.31" x2="501.47" y2="808.55" stroke="#b4b8b4" stroke-width="0.45" />
<line x1="491.10" y1="742.46" x2="495.74" y2="750.18" stroke="#b4b8b4" stroke-width="0.45" />
<line x1="504.67" y1="816.58" x2="514.88" y2="823.62" stroke="#b4b8b4" stroke-width="0.45" />
<line x1="514.30" y1="766.67" x2="526.98" y2="770.56" stroke="#b4b8b4" stroke-width="0.45" />
<line x1="485.98" y1="737.95" x2="489.74" y2="742.73" stroke="#b4b8b4" stroke-width="0.45" />
<line x1="470.34" y1="775.25" x2="476.09" y2="777.21" stroke="#b4b8b4" stroke-width="0.45" />
<line x1="505.03" y1="841.64" x2="496.43" y2="846.58" stroke="#b4b8b4" stroke-width="0.45" />
<line x1="523.71" y1="730.79" x2="529.13" y2="733.56" stroke="#b4b8b4" stroke-width="0.45" />
<line x1="471.25" y1="794.68" x2="462.77" y2="802.79" stroke="#b4b8b4" stroke-width="0.45" />
<line x1="524.54" y1="777.86" x2="511.68" y2="781.21" stroke="#b4b8b4" stroke-width="0.45" />
<line x1="498.54" y1="738.27" x2="501.13" y2="749.25" stroke="#b4b8b4" stroke-width="0.45" />
<line x1="514.69" y1="744.96" x2="524.19" y2="757.59" stroke="#b4b8b4" stroke-width="0.45" />
<line x1="462.47" y1="786.01" x2="473.26" y2="794.91" stroke="#b4b8b4" stroke-width="0.45" />
<line x1="507.38" y1="729.94" x2="500.17" y2="738.11" stroke="#b4b8b4" stroke-width="0.45" />
<line x1="488.73" y1="828.10" x2="481.27" y2="834.32" stroke="#b4b8b4" stroke-width="0.45" />
<line x1="509.70" y1="734.26" x2="509.29" y2="741.23" stroke="#b4b8b4" stroke-width="0.45" />
<line x1="508.30" y1="835.84" x2="505.61" y2="841.74" stroke="#b4b8b4" stroke-width="0.45" />
<line x1="497.51" y1="778.02" x2="498.90" y2="785.71" stroke="#b4b8b4" stroke-width="0.45" />
<line x1="475.21" y1="777.75" x2="488.96" y2="780.87" stroke="#b4b8b4" stroke-width="0.45" />
<line x1="475.09" y1="757.65" x2="484.33" y2="760.37" stroke="#b4b8b4" stroke-width="0.45" />
<line x1="522.03" y1="757.70" x2="531.72" y2="760.71" stroke="#b4b8b4" stroke-width="0.45" />
<line x1="525.81" y1="729.47" x2="529.85" y2="736.96" stroke="#b4b8b4" stroke-width="0.45" />
<line x1="501.99" y1="778.37" x2="517.56" y2="783.34" stroke="#b4b8b4" stroke-width="0.45" />
<line x1="484.29" y1="801.33" x2="486.72" y2="817.61" stroke="#b4b8b4" stroke-width="0.45" />
<line x1="464.13" y1="747.50" x2="469.85" y2="754.66" stroke="#b4b8b4" stroke-width="0.45" />
<line x1="516.59" y1="780.70" x2="522.19" y2="791.41" stroke="#b4b8b4" stroke-width="0.45" />
<line x1="519.97" y1="787.78" x2="522.08" y2="801.50" stroke="#b4b8b4" stroke-width="0.45" />
<line x1="504.33" y1="770.01" x2="506.06" y2="777.39" stroke="#b4b8b4" stroke-width="0.45" />
<line x1="490.15" y1="829.81" x2="496.09" y2="838.32" stroke="#b4b8b4" stroke-width="0.45" />
<line x1="499.55" y1="794.31" x2="509.22" y2="800.25" stroke="#b4b8b4" stroke-width="0.45" />
<line x1="506.25" y1="724.76" x2="520.44" y2="729.81" stroke="#b4b8b4" stroke-width="0.45" />
<line x1="518.56" y1="728.90" x2="531.64" y2="732.32" stroke="#b4b8b4" stroke-width="0.45" />
<line x1="476.81" y1="805.09" x2="488.22" y2="806.32" stroke="#b4b8b4" stroke-width="0.45" />
<line x1="477.55" y1="759.38" x2="470.63" y2="769.33" stroke="#b4b8b4" stroke-width="0.45" />
<line x1="524.51" y1="821.80" x2="518.58" y2="836.84" stroke="#b4b8b4" stroke-width="0.45" />
<line x1="471.54" y1="776.81" x2="478.79" y2="788.19" stroke="#b4b8b4" stroke-width="0.45" />
<line x1="467.59" y1="827.80" x2="473.68" y2="841.94" stroke="#b4b8b4" stroke-width="0.45" />
<line x1="524.92" y1="834.22" x2="530.43" y2="849.54" stroke="#b4b8b4" stroke-width="0.45" />
<circle cx="529.41" cy="740.08" r="1.423228075058978" fill="none" stroke="#8a8e8a" stroke-width="0.45" />
<circle cx="511.98" cy="780.53" r="1.0945270354060879" fill="none" stroke="#8a8e8a" stroke-width="0.45" />
<circle cx="476.20" cy="774.84" r="1.5523195533339271" fill="none" stroke="#8a8e8a" stroke-width="0.45" />
<circle cx="490.97" cy="755.54" r="1.3336076021858019" fill="none" stroke="#8a8e8a" stroke-width="0.45" />
<circle cx="493.25" cy="799.77" r="1.2181455394839615" fill="none" stroke="#8a8e8a" stroke-width="0.45" />
<circle cx="483.50" cy="728.38" r="1.4728434483370376" fill="none" stroke="#8a8e8a" stroke-width="0.45" />
<circle cx="507.57" cy="754.10" r="1.2495386184202788" fill="none" stroke="#8a8e8a" stroke-width="0.45" />
<circle cx="502.53" cy="786.19" r="1.5306537142346188" fill="none" stroke="#8a8e8a" stroke-width="0.45" />
<circle cx="515.30" cy="761.84" r="1.137112420318791" fill="none" stroke="#8a8e8a" stroke-width="0.45" />
<circle cx="504.52" cy="744.05" r="1.5539101601305845" fill="none" stroke="#8a8e8a" stroke-width="0.45" />
<circle cx="467.93" cy="785.69" r="1.0913474644183176" fill="none" stroke="#8a8e8a" stroke-width="0.45" />
<circle cx="498.98" cy="729.63" r="1.05695740055128" fill="none" stroke="#8a8e8a" stroke-width="0.45" />
<circle cx="528.89" cy="821.32" r="1.0547194611854231" fill="none" stroke="#8a8e8a" stroke-width="0.45" />
<circle cx="494.46" cy="728.01" r="0.9854091736026304" fill="none" stroke="#8a8e8a" stroke-width="0.45" />
<circle cx="477.39" cy="845.56" r="1.1182537077642956" fill="none" stroke="#8a8e8a" stroke-width="0.45" />
<circle cx="481.00" cy="732.07" r="0.9769173081259873" fill="none" stroke="#8a8e8a" stroke-width="0.45" />
<circle cx="529.30" cy="815.41" r="1.544241416791591" fill="none" stroke="#8a8e8a" stroke-width="0.45" />
<circle cx="518.99" cy="820.66" r="1.0785029350784727" fill="none" stroke="#8a8e8a" stroke-width="0.45" />
<circle cx="475.92" cy="757.34" r="0.9457997715019385" fill="none" stroke="#8a8e8a" stroke-width="0.45" />
<circle cx="476.33" cy="812.91" r="1.2437262198838062" fill="none" stroke="#8a8e8a" stroke-width="0.45" />
<circle cx="465.68" cy="761.63" r="1.494687588979066" fill="none" stroke="#8a8e8a" stroke-width="0.45" />
<circle cx="519.97" cy="814.09" r="1.412010731765202" fill="none" stroke="#8a8e8a" stroke-width="0.45" />
<circle cx="523.90" cy="792.81" r="1.1683199328601028" fill="none" stroke="#8a8e8a" stroke-width="0.45" />
<circle cx="502.03" cy="758.88" r="0.9255216261845378" fill="none" stroke="#8a8e8a" stroke-width="0.45" />
<circle cx="481.79" cy="780.51" r="0.9841122010272542" fill="none" stroke="#8a8e8a" stroke-width="0.45" />
<circle cx="470.21" cy="754.54" r="1.15770312598943" fill="none" stroke="#8a8e8a" stroke-width="0.45" />
<circle cx="526.83" cy="784.14" r="1.4858636139901886" fill="none" stroke="#8a8e8a" stroke-width="0.45" />
<circle cx="513.09" cy="797.16" r="1.1255442430470954" fill="none" stroke="#8a8e8a" stroke-width="0.45" />
<circle cx="490.37" cy="763.17" r="1.344031150273117" fill="none" stroke="#8a8e8a" stroke-width="0.45" />
<circle cx="520.24" cy="821.64" r="1.1066802741371335" fill="none" stroke="#8a8e8a" stroke-width="0.45" />
<circle cx="475.36" cy="726.08" r="1.050712911182714" fill="#70c8c8" stroke="none" stroke-width="0" opacity="0.55"/>
<circle cx="480.28" cy="725.67" r="0.8812324021270805" fill="#70c8c8" stroke="none" stroke-width="0" opacity="0.55"/>
<circle cx="480.30" cy="749.94" r="1.098632115035691" fill="#70c8c8" stroke="none" stroke-width="0" opacity="0.55"/>
</g>
<rect x="463.00" y="722.00" width="68.60" height="127.50" fill="none" stroke="#1a1a1a" stroke-width="1.3"/>
<line x1="516.60" y1="846.30" x2="528.10" y2="846.30" stroke="#111" stroke-width="1.1" />
<g clip-path="url(#pc1)">
<rect x="533.00" y="722.00" width="68.00" height="127.50" fill="#f3f4f1" />
<rect x="533.00" y="722.00" width="68.00" height="127.50" fill="#000" filter="url(#pnoise)" opacity="0.16"/>
<line x1="575.55" y1="754.75" x2="569.93" y2="761.09" stroke="#b4b8b4" stroke-width="0.45" />
<line x1="597.70" y1="730.23" x2="593.58" y2="744.09" stroke="#b4b8b4" stroke-width="0.45" />
<line x1="589.04" y1="781.46" x2="576.57" y2="786.78" stroke="#b4b8b4" stroke-width="0.45" />
<line x1="575.15" y1="728.87" x2="584.80" y2="735.29" stroke="#b4b8b4" stroke-width="0.45" />
<line x1="573.57" y1="730.45" x2="566.58" y2="737.82" stroke="#b4b8b4" stroke-width="0.45" />
<line x1="569.52" y1="786.22" x2="561.10" y2="790.89" stroke="#b4b8b4" stroke-width="0.45" />
<line x1="573.35" y1="794.89" x2="568.78" y2="803.50" stroke="#b4b8b4" stroke-width="0.45" />
<line x1="554.12" y1="775.45" x2="549.84" y2="788.50" stroke="#b4b8b4" stroke-width="0.45" />
<line x1="542.88" y1="774.79" x2="541.31" y2="782.98" stroke="#b4b8b4" stroke-width="0.45" />
<line x1="533.97" y1="840.05" x2="545.93" y2="840.83" stroke="#b4b8b4" stroke-width="0.45" />
<line x1="550.41" y1="722.99" x2="555.66" y2="728.94" stroke="#b4b8b4" stroke-width="0.45" />
<line x1="555.26" y1="836.74" x2="565.16" y2="839.26" stroke="#b4b8b4" stroke-width="0.45" />
<line x1="575.89" y1="801.39" x2="584.62" y2="801.96" stroke="#b4b8b4" stroke-width="0.45" />
<line x1="551.29" y1="831.64" x2="552.94" y2="840.58" stroke="#b4b8b4" stroke-width="0.45" />
<line x1="559.41" y1="780.69" x2="571.90" y2="787.02" stroke="#b4b8b4" stroke-width="0.45" />
<line x1="582.92" y1="775.28" x2="581.13" y2="790.42" stroke="#b4b8b4" stroke-width="0.45" />
<line x1="592.06" y1="799.30" x2="604.00" y2="800.97" stroke="#b4b8b4" stroke-width="0.45" />
<line x1="580.88" y1="759.83" x2="575.19" y2="768.55" stroke="#b4b8b4" stroke-width="0.45" />
<line x1="579.27" y1="792.94" x2="570.56" y2="807.67" stroke="#b4b8b4" stroke-width="0.45" />
<line x1="583.75" y1="808.93" x2="578.51" y2="815.96" stroke="#b4b8b4" stroke-width="0.45" />
<line x1="567.37" y1="799.67" x2="582.15" y2="802.54" stroke="#b4b8b4" stroke-width="0.45" />
<line x1="548.97" y1="777.43" x2="547.87" y2="792.06" stroke="#b4b8b4" stroke-width="0.45" />
<line x1="590.59" y1="780.62" x2="579.48" y2="782.76" stroke="#b4b8b4" stroke-width="0.45" />
<line x1="567.69" y1="842.23" x2="575.35" y2="854.62" stroke="#b4b8b4" stroke-width="0.45" />
<line x1="603.32" y1="728.31" x2="592.75" y2="737.22" stroke="#b4b8b4" stroke-width="0.45" />
<line x1="573.21" y1="821.02" x2="566.19" y2="824.32" stroke="#b4b8b4" stroke-width="0.45" />
<line x1="571.20" y1="793.37" x2="560.97" y2="807.57" stroke="#b4b8b4" stroke-width="0.45" />
<line x1="582.15" y1="826.50" x2="593.04" y2="828.74" stroke="#b4b8b4" stroke-width="0.45" />
<line x1="598.71" y1="839.16" x2="591.51" y2="846.09" stroke="#b4b8b4" stroke-width="0.45" />
<line x1="588.78" y1="783.89" x2="581.92" y2="795.69" stroke="#b4b8b4" stroke-width="0.45" />
<line x1="597.77" y1="812.51" x2="585.90" y2="813.61" stroke="#b4b8b4" stroke-width="0.45" />
<line x1="567.19" y1="802.59" x2="565.92" y2="809.06" stroke="#b4b8b4" stroke-width="0.45" />
<line x1="598.23" y1="759.39" x2="598.23" y2="765.89" stroke="#b4b8b4" stroke-width="0.45" />
<line x1="542.86" y1="836.75" x2="549.03" y2="844.08" stroke="#b4b8b4" stroke-width="0.45" />
<line x1="591.43" y1="747.23" x2="584.99" y2="758.32" stroke="#b4b8b4" stroke-width="0.45" />
<circle cx="592.37" cy="782.89" r="1.1300480640682609" fill="none" stroke="#8a8e8a" stroke-width="0.45" />
<circle cx="551.58" cy="768.93" r="0.9000812785342812" fill="none" stroke="#8a8e8a" stroke-width="0.45" />
<circle cx="542.65" cy="742.38" r="1.1202092461348294" fill="none" stroke="#8a8e8a" stroke-width="0.45" />
<circle cx="584.18" cy="840.33" r="1.1479930850533784" fill="none" stroke="#8a8e8a" stroke-width="0.45" />
<circle cx="550.99" cy="760.22" r="1.3403068772794582" fill="none" stroke="#8a8e8a" stroke-width="0.45" />
<circle cx="565.64" cy="738.51" r="1.2666428919212664" fill="none" stroke="#8a8e8a" stroke-width="0.45" />
<circle cx="552.21" cy="741.79" r="1.449669048974577" fill="none" stroke="#8a8e8a" stroke-width="0.45" />
<circle cx="541.73" cy="778.26" r="1.436176861835698" fill="none" stroke="#8a8e8a" stroke-width="0.45" />
<circle cx="569.74" cy="831.89" r="1.1220678294315372" fill="none" stroke="#8a8e8a" stroke-width="0.45" />
<circle cx="595.56" cy="729.39" r="1.5266425166705377" fill="none" stroke="#8a8e8a" stroke-width="0.45" />
<circle cx="562.15" cy="724.38" r="1.0816237843344576" fill="none" stroke="#8a8e8a" stroke-width="0.45" />
<circle cx="598.28" cy="812.46" r="1.4160782080990864" fill="none" stroke="#8a8e8a" stroke-width="0.45" />
<circle cx="586.91" cy="724.79" r="1.114825612993981" fill="none" stroke="#8a8e8a" stroke-width="0.45" />
<circle cx="564.81" cy="836.29" r="1.5356052602795205" fill="none" stroke="#8a8e8a" stroke-width="0.45" />
<circle cx="544.56" cy="845.94" r="1.2880123794537375" fill="none" stroke="#8a8e8a" stroke-width="0.45" />
<circle cx="554.50" cy="734.21" r="1.1986942527775657" fill="none" stroke="#8a8e8a" stroke-width="0.45" />
<circle cx="568.32" cy="780.00" r="1.1173102074633552" fill="none" stroke="#8a8e8a" stroke-width="0.45" />
<circle cx="595.66" cy="782.70" r="1.1153660436299566" fill="none" stroke="#8a8e8a" stroke-width="0.45" />
<circle cx="584.76" cy="754.17" r="1.1959477944436898" fill="none" stroke="#8a8e8a" stroke-width="0.45" />
<circle cx="541.66" cy="753.40" r="1.5978926081605276" fill="none" stroke="#8a8e8a" stroke-width="0.45" />
<circle cx="574.76" cy="788.67" r="1.3713049379792548" fill="none" stroke="#8a8e8a" stroke-width="0.45" />
<circle cx="578.02" cy="788.38" r="1.156703702668266" fill="none" stroke="#8a8e8a" stroke-width="0.45" />
<circle cx="544.43" cy="727.64" r="0.9846551450514671" fill="none" stroke="#8a8e8a" stroke-width="0.45" />
<circle cx="560.94" cy="725.26" r="1.3722289296080228" fill="none" stroke="#8a8e8a" stroke-width="0.45" />
<circle cx="556.58" cy="752.84" r="1.1195514979533043" fill="none" stroke="#8a8e8a" stroke-width="0.45" />
<circle cx="566.54" cy="749.88" r="1.4966636400043265" fill="none" stroke="#8a8e8a" stroke-width="0.45" />
<circle cx="565.91" cy="732.48" r="0.9596496651351396" fill="none" stroke="#8a8e8a" stroke-width="0.45" />
<circle cx="591.98" cy="795.40" r="1.1039270325843993" fill="none" stroke="#8a8e8a" stroke-width="0.45" />
<circle cx="580.21" cy="730.59" r="1.2333426734870085" fill="#70c8c8" stroke="none" stroke-width="0" opacity="0.55"/>
<circle cx="594.06" cy="805.72" r="0.7302882964876531" fill="#70c8c8" stroke="none" stroke-width="0" opacity="0.55"/>
<circle cx="562.40" cy="826.68" r="1.0560731268689603" fill="#70c8c8" stroke="none" stroke-width="0" opacity="0.55"/>
<circle cx="548.96" cy="753.48" r="0.738199492283212" fill="#70c8c8" stroke="none" stroke-width="0" opacity="0.55"/>
<circle cx="568.35" cy="747.04" r="0.9673106176195339" fill="#70c8c8" stroke="none" stroke-width="0" opacity="0.55"/>
<circle cx="591.53" cy="834.45" r="0.9951298575403412" fill="#70c8c8" stroke="none" stroke-width="0" opacity="0.55"/>
<circle cx="584.61" cy="741.29" r="1.2686533771289152" fill="#70c8c8" stroke="none" stroke-width="0" opacity="0.55"/>
<circle cx="589.66" cy="783.65" r="1.2316095909559333" fill="#70c8c8" stroke="none" stroke-width="0" opacity="0.55"/>
</g>
<rect x="533.00" y="722.00" width="68.00" height="127.50" fill="none" stroke="#1a1a1a" stroke-width="1.3"/>
<line x1="586.00" y1="846.30" x2="597.50" y2="846.30" stroke="#111" stroke-width="1.1" />
<g clip-path="url(#pc2)">
<rect x="602.70" y="722.00" width="68.60" height="127.50" fill="#f3f4f1" />
<rect x="602.70" y="722.00" width="68.60" height="127.50" fill="#000" filter="url(#pnoise)" opacity="0.16"/>
<line x1="618.58" y1="839.75" x2="627.61" y2="854.26" stroke="#b4b8b4" stroke-width="0.45" />
<line x1="662.38" y1="838.55" x2="657.88" y2="843.75" stroke="#b4b8b4" stroke-width="0.45" />
<line x1="628.67" y1="803.59" x2="615.08" y2="807.61" stroke="#b4b8b4" stroke-width="0.45" />
<line x1="603.49" y1="762.76" x2="607.26" y2="769.88" stroke="#b4b8b4" stroke-width="0.45" />
<line x1="616.35" y1="783.57" x2="619.93" y2="792.05" stroke="#b4b8b4" stroke-width="0.45" />
<line x1="633.21" y1="835.60" x2="628.72" y2="849.94" stroke="#b4b8b4" stroke-width="0.45" />
<line x1="670.00" y1="724.64" x2="663.36" y2="727.26" stroke="#b4b8b4" stroke-width="0.45" />
<line x1="620.94" y1="811.59" x2="611.39" y2="820.96" stroke="#b4b8b4" stroke-width="0.45" />
<line x1="634.42" y1="810.01" x2="636.29" y2="818.13" stroke="#b4b8b4" stroke-width="0.45" />
<line x1="609.10" y1="735.37" x2="626.41" y2="737.37" stroke="#b4b8b4" stroke-width="0.45" />
<line x1="666.61" y1="761.95" x2="669.15" y2="770.94" stroke="#b4b8b4" stroke-width="0.45" />
<line x1="649.15" y1="780.54" x2="663.44" y2="789.02" stroke="#b4b8b4" stroke-width="0.45" />
<line x1="665.85" y1="723.64" x2="666.96" y2="732.22" stroke="#b4b8b4" stroke-width="0.45" />
<line x1="643.69" y1="763.86" x2="649.40" y2="771.61" stroke="#b4b8b4" stroke-width="0.45" />
<line x1="644.09" y1="779.08" x2="644.63" y2="793.23" stroke="#b4b8b4" stroke-width="0.45" />
<line x1="633.68" y1="835.12" x2="636.65" y2="850.33" stroke="#b4b8b4" stroke-width="0.45" />
<line x1="668.68" y1="793.83" x2="664.39" y2="808.70" stroke="#b4b8b4" stroke-width="0.45" />
<line x1="650.52" y1="742.86" x2="652.55" y2="750.48" stroke="#b4b8b4" stroke-width="0.45" />
<line x1="601.83" y1="805.74" x2="606.47" y2="813.52" stroke="#b4b8b4" stroke-width="0.45" />
<line x1="607.13" y1="720.46" x2="601.84" y2="729.29" stroke="#b4b8b4" stroke-width="0.45" />
<line x1="639.52" y1="806.11" x2="625.71" y2="810.24" stroke="#b4b8b4" stroke-width="0.45" />
<line x1="612.31" y1="844.57" x2="623.18" y2="851.65" stroke="#b4b8b4" stroke-width="0.45" />
<line x1="653.14" y1="756.37" x2="640.62" y2="760.92" stroke="#b4b8b4" stroke-width="0.45" />
<line x1="655.49" y1="737.29" x2="647.32" y2="742.04" stroke="#b4b8b4" stroke-width="0.45" />
<line x1="642.67" y1="812.07" x2="647.54" y2="819.86" stroke="#b4b8b4" stroke-width="0.45" />
<line x1="628.13" y1="841.60" x2="622.60" y2="851.85" stroke="#b4b8b4" stroke-width="0.45" />
<line x1="638.90" y1="803.07" x2="643.60" y2="808.14" stroke="#b4b8b4" stroke-width="0.45" />
<line x1="612.89" y1="787.77" x2="607.48" y2="804.66" stroke="#b4b8b4" stroke-width="0.45" />
<line x1="651.27" y1="830.51" x2="639.32" y2="831.01" stroke="#b4b8b4" stroke-width="0.45" />
<line x1="628.66" y1="775.12" x2="634.59" y2="789.03" stroke="#b4b8b4" stroke-width="0.45" />
<line x1="648.26" y1="736.77" x2="636.06" y2="738.49" stroke="#b4b8b4" stroke-width="0.45" />
<line x1="655.83" y1="785.59" x2="652.29" y2="798.00" stroke="#b4b8b4" stroke-width="0.45" />
<line x1="613.95" y1="734.87" x2="607.19" y2="742.49" stroke="#b4b8b4" stroke-width="0.45" />
<line x1="616.86" y1="820.58" x2="606.21" y2="831.37" stroke="#b4b8b4" stroke-width="0.45" />
<line x1="632.38" y1="735.85" x2="626.13" y2="741.74" stroke="#b4b8b4" stroke-width="0.45" />
<circle cx="647.86" cy="810.01" r="1.0913260565962437" fill="none" stroke="#8a8e8a" stroke-width="0.45" />
<circle cx="604.84" cy="796.91" r="1.4532305422926894" fill="none" stroke="#8a8e8a" stroke-width="0.45" />
<circle cx="642.71" cy="845.57" r="1.0599248342761602" fill="none" stroke="#8a8e8a" stroke-width="0.45" />
<circle cx="651.93" cy="777.76" r="1.306198045966815" fill="none" stroke="#8a8e8a" stroke-width="0.45" />
<circle cx="624.22" cy="752.46" r="1.2838817964434603" fill="none" stroke="#8a8e8a" stroke-width="0.45" />
<circle cx="643.94" cy="836.33" r="1.3227792016483202" fill="none" stroke="#8a8e8a" stroke-width="0.45" />
<circle cx="636.98" cy="804.39" r="1.3395518653406657" fill="none" stroke="#8a8e8a" stroke-width="0.45" />
<circle cx="631.05" cy="756.93" r="1.3776289539278876" fill="none" stroke="#8a8e8a" stroke-width="0.45" />
<circle cx="629.69" cy="728.60" r="1.0190020352009808" fill="none" stroke="#8a8e8a" stroke-width="0.45" />
<circle cx="627.89" cy="808.79" r="1.3593062530157525" fill="none" stroke="#8a8e8a" stroke-width="0.45" />
<circle cx="636.37" cy="824.82" r="1.1285401670132686" fill="none" stroke="#8a8e8a" stroke-width="0.45" />
<circle cx="627.38" cy="816.77" r="1.3754947362385967" fill="none" stroke="#8a8e8a" stroke-width="0.45" />
<circle cx="632.21" cy="833.84" r="0.9184447851792841" fill="none" stroke="#8a8e8a" stroke-width="0.45" />
<circle cx="639.35" cy="830.00" r="1.5153355487834" fill="none" stroke="#8a8e8a" stroke-width="0.45" />
<circle cx="617.17" cy="823.70" r="1.2731621907112336" fill="none" stroke="#8a8e8a" stroke-width="0.45" />
<circle cx="665.12" cy="764.54" r="1.365103450622795" fill="none" stroke="#8a8e8a" stroke-width="0.45" />
<circle cx="646.16" cy="846.33" r="1.1374140008623432" fill="none" stroke="#8a8e8a" stroke-width="0.45" />
<circle cx="629.87" cy="739.40" r="1.3786043759480417" fill="none" stroke="#8a8e8a" stroke-width="0.45" />
<circle cx="609.25" cy="828.88" r="1.0022613633509423" fill="none" stroke="#8a8e8a" stroke-width="0.45" />
<circle cx="617.02" cy="841.32" r="1.248911526098364" fill="none" stroke="#8a8e8a" stroke-width="0.45" />
<circle cx="653.46" cy="766.68" r="1.0697529339727392" fill="none" stroke="#8a8e8a" stroke-width="0.45" />
<circle cx="628.51" cy="845.37" r="1.0343768399864919" fill="none" stroke="#8a8e8a" stroke-width="0.45" />
<circle cx="663.16" cy="833.03" r="1.3763850340041053" fill="none" stroke="#8a8e8a" stroke-width="0.45" />
<circle cx="621.87" cy="814.21" r="1.5335277092862358" fill="none" stroke="#8a8e8a" stroke-width="0.45" />
<circle cx="643.00" cy="751.18" r="1.3268787534884854" fill="none" stroke="#8a8e8a" stroke-width="0.45" />
<circle cx="666.49" cy="796.96" r="1.0045626141753605" fill="none" stroke="#8a8e8a" stroke-width="0.45" />
<circle cx="617.78" cy="801.84" r="0.9335490710264285" fill="none" stroke="#8a8e8a" stroke-width="0.45" />
<circle cx="604.79" cy="770.20" r="1.0801888052150617" fill="none" stroke="#8a8e8a" stroke-width="0.45" />
<circle cx="636.60" cy="733.92" r="1.035791406384376" fill="#70c8c8" stroke="none" stroke-width="0" opacity="0.55"/>
<circle cx="647.99" cy="763.52" r="1.0490168190291458" fill="#70c8c8" stroke="none" stroke-width="0" opacity="0.55"/>
<circle cx="638.70" cy="820.88" r="1.0457555714084437" fill="#70c8c8" stroke="none" stroke-width="0" opacity="0.55"/>
<circle cx="645.65" cy="793.49" r="1.193745899127867" fill="#70c8c8" stroke="none" stroke-width="0" opacity="0.55"/>
<circle cx="611.74" cy="738.85" r="1.2194343979548967" fill="#70c8c8" stroke="none" stroke-width="0" opacity="0.55"/>
<circle cx="657.92" cy="725.97" r="1.2364737938493007" fill="#70c8c8" stroke="none" stroke-width="0" opacity="0.55"/>
<circle cx="643.82" cy="829.01" r="1.1206974397751621" fill="#70c8c8" stroke="none" stroke-width="0" opacity="0.55"/>
<circle cx="629.25" cy="738.83" r="1.1588248168444264" fill="#70c8c8" stroke="none" stroke-width="0" opacity="0.55"/>
<circle cx="650.15" cy="782.13" r="0.8624914596437383" fill="#70c8c8" stroke="none" stroke-width="0" opacity="0.55"/>
</g>
<rect x="602.70" y="722.00" width="68.60" height="127.50" fill="none" stroke="#1a1a1a" stroke-width="1.3"/>
<line x1="656.30" y1="846.30" x2="667.80" y2="846.30" stroke="#111" stroke-width="1.1" />
<ellipse cx="557.5" cy="841.0" rx="2.6" ry="1.4" fill="#2cb8c8"/>
<g transform="translate(514.30,735.80) rotate(-135)"><path d="M0,0 L-7,-3.8 L-5,0 L-7,3.8 Z" fill="#111"/></g>
<g transform="translate(558.90,751.60) rotate(-135)"><path d="M0,0 L-7,-3.8 L-5,0 L-7,3.8 Z" fill="#111"/></g>
<g transform="translate(566.40,802.00) rotate(-135)"><path d="M0,0 L-7,-3.8 L-5,0 L-7,3.8 Z" fill="#111"/></g>
<g transform="translate(544.50,817.40) rotate(-135)"><path d="M0,0 L-7,-3.8 L-5,0 L-7,3.8 Z" fill="#111"/></g>
<g transform="translate(591.50,815.80) rotate(-135)"><path d="M0,0 L-7,-3.8 L-5,0 L-7,3.8 Z" fill="#111"/></g>
<g transform="translate(560.60,832.90) rotate(-135)"><path d="M0,0 L-7,-3.8 L-5,0 L-7,3.8 Z" fill="#111"/></g>
<g transform="translate(623.00,743.70) rotate(-135)"><path d="M0,0 L-7,-3.8 L-5,0 L-7,3.8 Z" fill="#111"/></g>
<g transform="translate(614.50,755.00) rotate(-135)"><path d="M0,0 L-7,-3.8 L-5,0 L-7,3.8 Z" fill="#111"/></g>
<g transform="translate(639.50,775.60) rotate(-135)"><path d="M0,0 L-7,-3.8 L-5,0 L-7,3.8 Z" fill="#111"/></g>
<g transform="translate(651.20,772.20) rotate(-135)"><path d="M0,0 L-7,-3.8 L-5,0 L-7,3.8 Z" fill="#111"/></g>
<g transform="translate(662.80,788.30) rotate(-135)"><path d="M0,0 L-7,-3.8 L-5,0 L-7,3.8 Z" fill="#111"/></g>
<g transform="translate(613.10,817.40) rotate(-135)"><path d="M0,0 L-7,-3.8 L-5,0 L-7,3.8 Z" fill="#111"/></g>
<g transform="translate(626.10,817.40) rotate(-135)"><path d="M0,0 L-7,-3.8 L-5,0 L-7,3.8 Z" fill="#111"/></g>
<g transform="translate(662.20,830.50) rotate(-135)"><path d="M0,0 L-7,-3.8 L-5,0 L-7,3.8 Z" fill="#111"/></g>
</svg>
</body></html>
